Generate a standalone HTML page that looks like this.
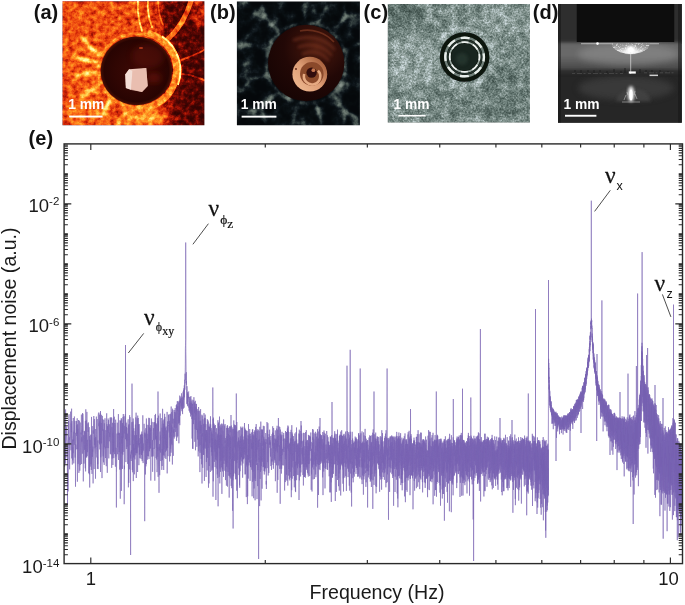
<!DOCTYPE html>
<html lang="en"><head><meta charset="utf-8"><title>Figure</title>
<style>
html,body{margin:0;padding:0;background:#fff}
svg{display:block}
.sans{font-family:"Liberation Sans",sans-serif}
.serif{font-family:"Liberation Serif","DejaVu Serif",serif}
.b{font-weight:bold}
</style></head><body>
<svg width="685" height="605" viewBox="0 0 685 605">
<defs>
<clipPath id="ca"><rect x="62.5" y="1.3" width="141.9" height="123.9"/></clipPath>
<clipPath id="cb"><rect x="236.9" y="1.5" width="123" height="123.7"/></clipPath>
<clipPath id="cc"><rect x="387.8" y="3.9" width="142.1" height="118.7"/></clipPath>
<clipPath id="cd"><rect x="558" y="3.9" width="123.8" height="118.9"/></clipPath>
<!-- (a) hot texture: colormap(noise + bias painted in SourceGraphic) -->
<filter id="fa" x="0" y="0" width="1" height="1" color-interpolation-filters="sRGB">
<feTurbulence type="fractalNoise" baseFrequency="0.19" numOctaves="4" seed="11"/>
<feColorMatrix type="matrix" values="1 0 0 0 0 1 0 0 0 0 1 0 0 0 0 0 0 0 0 1" result="n"/>
<feComposite in="n" in2="SourceGraphic" operator="arithmetic" k1="0" k2="0.62" k3="1" k4="-0.31"/>
<feComponentTransfer>
<feFuncR type="table" tableValues="0.2 0.27 0.4 0.62 0.83 0.94 0.99 1 1 1 1"/>
<feFuncG type="table" tableValues="0.015 0.02 0.035 0.07 0.16 0.31 0.46 0.63 0.8 0.92 1"/>
<feFuncB type="table" tableValues="0.01 0.01 0.015 0.02 0.035 0.07 0.1 0.15 0.3 0.5 0.7"/>
<feFuncA type="linear" slope="0" intercept="1"/>
</feComponentTransfer>
</filter>
<linearGradient id="gaB" x1="0" x2="1" y1="0" y2="0">
<stop offset="0" stop-color="#848484"/>
<stop offset="0.5" stop-color="#7e7e7e"/>
<stop offset="0.68" stop-color="#6a6a6a"/>
<stop offset="0.8" stop-color="#303030"/>
<stop offset="1" stop-color="#1c1c1c"/>
</linearGradient>
<linearGradient id="gaD" x1="0" x2="1" y1="0" y2="0">
<stop offset="0" stop-color="#4a0802" stop-opacity="0"/>
<stop offset="0.62" stop-color="#4a0802" stop-opacity="0.05"/>
<stop offset="0.8" stop-color="#4a0802" stop-opacity="0.62"/>
<stop offset="1" stop-color="#420702" stop-opacity="0.8"/>
</linearGradient>
<radialGradient id="gaC" cx="0.5" cy="0.5" r="0.5">
<stop offset="0" stop-color="#3c0905"/>
<stop offset="0.6" stop-color="#300603"/>
<stop offset="0.9" stop-color="#280402"/>
<stop offset="1" stop-color="#481006"/>
</radialGradient>
<filter id="blS" filterUnits="userSpaceOnUse" x="60" y="140" width="626" height="428"><feGaussianBlur stdDeviation="0.38"/></filter>
<filter id="bl1" x="-0.2" y="-0.2" width="1.4" height="1.4"><feGaussianBlur stdDeviation="0.7"/></filter>
<filter id="bl2" x="-0.2" y="-0.2" width="1.4" height="1.4"><feGaussianBlur stdDeviation="1.4"/></filter>
<filter id="bl3" x="-0.3" y="-0.3" width="1.6" height="1.6"><feGaussianBlur stdDeviation="3"/></filter>
<!-- (b) dark texture -->
<filter id="fb" x="0" y="0" width="1" height="1" color-interpolation-filters="sRGB">
<feTurbulence type="fractalNoise" baseFrequency="0.075" numOctaves="4" seed="5"/>
<feColorMatrix type="matrix" values="1 0 0 0 0 1 0 0 0 0 1 0 0 0 0 0 0 0 0 1" result="n"/>
<feComposite in="n" in2="SourceGraphic" operator="arithmetic" k1="0" k2="1.3" k3="1" k4="-0.65"/>
<feComponentTransfer>
<feFuncR type="table" tableValues="0.02 0.025 0.03 0.04 0.07 0.14 0.24 0.34 0.43 0.5 0.56"/>
<feFuncG type="table" tableValues="0.035 0.04 0.05 0.065 0.1 0.18 0.29 0.39 0.48 0.55 0.6"/>
<feFuncB type="table" tableValues="0.045 0.05 0.06 0.08 0.12 0.19 0.28 0.37 0.45 0.52 0.57"/>
<feFuncA type="linear" slope="0" intercept="1"/>
</feComponentTransfer>
</filter>
<radialGradient id="gbC" cx="0.64" cy="0.3" r="0.72">
<stop offset="0" stop-color="#542012"/>
<stop offset="0.28" stop-color="#37110a"/>
<stop offset="0.6" stop-color="#220806"/>
<stop offset="1" stop-color="#180504"/>
</radialGradient>
<linearGradient id="gbR2" x1="0.15" y1="0.85" x2="0.85" y2="0.15">
<stop offset="0" stop-color="#ecb48c"/>
<stop offset="0.5" stop-color="#dc9c74"/>
<stop offset="1" stop-color="#a8623e"/>
</linearGradient>
<radialGradient id="gbR" cx="0.5" cy="0.5" r="0.5">
<stop offset="0" stop-color="#5a2414"/>
<stop offset="0.35" stop-color="#8a4a30"/>
<stop offset="0.6" stop-color="#a86848"/>
<stop offset="0.7" stop-color="#dca27c"/>
<stop offset="0.93" stop-color="#d89c76"/>
<stop offset="1" stop-color="#8a4a30"/>
</radialGradient>
<!-- (c) grey texture -->
<filter id="fc" x="0" y="0" width="1" height="1" color-interpolation-filters="sRGB">
<feTurbulence type="fractalNoise" baseFrequency="0.55" numOctaves="2" seed="21"/>
<feColorMatrix type="matrix" values="1 0 0 0 0 1 0 0 0 0 1 0 0 0 0 0 0 0 0 1" result="n1"/>
<feTurbulence type="fractalNoise" baseFrequency="0.12" numOctaves="3" seed="33"/>
<feColorMatrix type="matrix" values="1 0 0 0 0 1 0 0 0 0 1 0 0 0 0 0 0 0 0 1" result="n2"/>
<feComposite in="n1" in2="n2" operator="arithmetic" k1="0" k2="0.6" k3="0.55" k4="-0.075" result="n"/>
<feComposite in="n" in2="SourceGraphic" operator="arithmetic" k1="0" k2="1" k3="1" k4="-0.535"/>
<feComponentTransfer>
<feFuncR type="table" tableValues="0.2 0.24 0.28 0.34 0.42 0.5 0.6 0.7 0.8 0.88 0.92"/>
<feFuncG type="table" tableValues="0.26 0.3 0.35 0.41 0.49 0.57 0.66 0.76 0.85 0.91 0.94"/>
<feFuncB type="table" tableValues="0.24 0.28 0.33 0.39 0.47 0.55 0.65 0.76 0.86 0.93 0.96"/>
<feFuncA type="linear" slope="0" intercept="1"/>
</feComponentTransfer>
</filter>
<!-- (d) -->
<linearGradient id="gdG" x1="0" x2="0" y1="0" y2="1">
<stop offset="0" stop-color="#666"/>
<stop offset="0.4" stop-color="#6a6a6a"/>
<stop offset="0.75" stop-color="#505050"/>
<stop offset="1" stop-color="#3a3a3a"/>
</linearGradient>
<radialGradient id="gdGlow" cx="0.5" cy="0.5" r="0.5">
<stop offset="0" stop-color="#fff" stop-opacity="0.55"/>
<stop offset="0.4" stop-color="#ddd" stop-opacity="0.25"/>
<stop offset="1" stop-color="#aaa" stop-opacity="0"/>
</radialGradient>
<radialGradient id="gdH" cx="0.5" cy="0.9" r="0.9" gradientUnits="objectBoundingBox">
<stop offset="0" stop-color="#fff"/>
<stop offset="0.25" stop-color="#e8e8e8"/>
<stop offset="0.6" stop-color="#a8a8a8"/>
<stop offset="1" stop-color="#8a8a8a"/>
</radialGradient>
<filter id="fdS" x="0" y="0" width="1" height="1" color-interpolation-filters="sRGB">
<feTurbulence type="fractalNoise" baseFrequency="0.6" numOctaves="2" seed="2"/>
<feColorMatrix type="matrix" values="0 0 0 0 1  0 0 0 0 1  0 0 0 0 1  5 0 0 0 -2.6"/>
<feComposite in2="SourceGraphic" operator="in"/>
</filter>
<filter id="fdN" x="0" y="0" width="1" height="1" color-interpolation-filters="sRGB">
<feTurbulence type="fractalNoise" baseFrequency="0.05 0.12" numOctaves="2" seed="8"/>
<feColorMatrix type="matrix" values="0 0 0 0 0  0 0 0 0 0  0 0 0 0 0  1.6 0 0 0 -0.62"/>
</filter>
</defs>
<rect width="685" height="605" fill="#fff"/>
<!-- ===== (a) ===== -->
<g clip-path="url(#ca)">
<g filter="url(#fa)">
<rect x="62.5" y="1.3" width="141.9" height="123.9" fill="url(#gaB)"/>
<ellipse cx="175" cy="16" rx="13" ry="20" fill="#262626" opacity="0.85" filter="url(#bl3)"/>
<ellipse cx="199" cy="14" rx="7" ry="15" fill="#6e6e6e" opacity="0.75" filter="url(#bl2)"/>
<ellipse cx="146" cy="117" rx="22" ry="9" fill="#b8b8b8" opacity="0.8" filter="url(#bl3)"/>
<ellipse cx="84" cy="112" rx="18" ry="10" fill="#a4a4a4" opacity="0.6" filter="url(#bl3)"/>
<g fill="none" stroke-linecap="round" filter="url(#bl1)">
<path d="M138 1C137 12 139 22 142 31M148 1C147 10 149 19 152 27" stroke="#d4d4d4" stroke-width="1.8"/>
<path d="M158 1C158 10 160 18 163 25" stroke="#9a9a9a" stroke-width="1.5"/>
<path d="M191 1C186 18 178 30 168 39" stroke="#969696" stroke-width="5"/>
<path d="M176 62C186 58 196 55 204 50M177 74C188 74 196 76 204 80" stroke="#6c6c6c" stroke-width="2"/>
</g>
<g fill="none" stroke-linecap="round" filter="url(#bl2)">
<path d="M99 54C93 51 88 46 84 40M98 62C90 62 82 60 74 56M100 84C94 88 88 92 82 98M110 100C107 106 104 112 102 118M97 72C90 72 84 73 78 76" stroke="#f0f0f0" stroke-width="3.6"/>
<path d="M150 108C152 114 152 120 150 125M128 108C126 114 122 120 118 125" stroke="#c8c8c8" stroke-width="2.4"/>
</g>
<ellipse cx="137.2" cy="70.6" rx="38.6" ry="37" fill="none" stroke="#a2a2a2" stroke-width="3" filter="url(#bl1)"/>
<path d="M147.6 33.1A40.3 38.8 0 1 1 123.4 107.1" fill="none" stroke="#a8a8a8" stroke-width="7" filter="url(#bl1)"/>
<path d="M162 36.4A43.3 41.8 0 0 1 177.9 84.9" fill="none" stroke="#f6f6f6" stroke-width="1.9" filter="url(#bl1)"/>
</g>
<ellipse cx="136.4" cy="70.8" rx="35.8" ry="34.4" fill="url(#gaC)"/>
<ellipse cx="148" cy="56" rx="16" ry="12" fill="#6a150a" opacity="0.4" filter="url(#bl3)"/>
<ellipse cx="154" cy="78" rx="7" ry="5" fill="#8a1a0c" opacity="0.45" filter="url(#bl3)"/>
<ellipse cx="141" cy="48" rx="2.2" ry="1" fill="#c8401c" opacity="0.8" filter="url(#bl1)"/>
<!-- cube -->
<g filter="url(#bl1)">
<polygon points="125.3,74.6 129.1,69.3 146.2,68 147.7,86 142,92.1 125.9,88" fill="#ecc6b8"/>
<polygon points="125.3,74.6 129.1,69.3 132.5,71 131,90 125.9,88" fill="#f3ded6"/>
<polygon points="132.5,71 146.2,68 147.7,86 142,92.1 131,90" fill="#e8bcae" opacity="0.8"/>
</g>
<text class="sans b" x="68.3" y="109.2" font-size="13.8" fill="#fff">1 mm</text>
<rect x="69.2" y="115.6" width="33.4" height="1.9" fill="#fff"/>
</g>
<!-- ===== (b) ===== -->
<g clip-path="url(#cb)">
<g filter="url(#fb)">
<rect x="236.9" y="1.5" width="123" height="123.7" fill="#3a3a3a"/>
<g fill="none" stroke="#9c9c9c" stroke-linecap="round" filter="url(#bl2)">
<path d="M280 34L266 18L252 12M266 18L262 4M270 52L252 44L238 46M268 76L250 80L240 92M276 94L262 108L250 112M262 108L266 124M296 104L292 124M316 104L322 124M334 96L346 112L358 118M346 112L344 124M344 74L358 80M344 52L358 44M334 30L346 16L344 4M346 16L358 14M306 22L304 4M318 24L326 8" stroke-width="3.2"/>
</g>
<circle cx="306.2" cy="63" r="40.4" fill="none" stroke="#a8a8a8" stroke-width="3.4" filter="url(#bl2)"/>
</g>
<circle cx="306.2" cy="63" r="38.2" fill="url(#gbC)"/>
<g fill="none" stroke="#7c3420" stroke-linecap="round" opacity="0.6" filter="url(#bl2)">
<path d="M294 40C306 35 324 37 334 49M299 47C310 43 323 45 331 55M303 54C312 50 322 52 328 60" stroke-width="2.6"/>
</g>
<path d="M300 31C312 28 326 33 334 42" fill="none" stroke="#8a4026" stroke-width="1.6" opacity="0.6" filter="url(#bl1)"/>
<circle cx="309.8" cy="74.2" r="17.4" fill="url(#gbR2)" filter="url(#bl1)"/>
<circle cx="311.8" cy="73.8" r="11.8" fill="#8a482c" filter="url(#bl1)"/>
<path d="M304.2 74A8.2 8.2 0 1 0 318 70.6" fill="none" stroke="#e6aa82" stroke-width="2.6" filter="url(#bl1)"/>
<circle cx="311.6" cy="72.6" r="5.2" fill="#32100a" filter="url(#bl1)"/>
<circle cx="313.4" cy="70.2" r="1.9" fill="#c47650" filter="url(#bl1)"/>
<circle cx="296" cy="69" r="0.9" fill="#5a2010"/>
<text class="sans b" x="240.8" y="109.2" font-size="13.8" fill="#fff">1 mm</text>
<rect x="241.6" y="115.7" width="34.8" height="1.9" fill="#fff"/>
</g>
<!-- ===== (c) ===== -->
<g clip-path="url(#cc)">
<g filter="url(#fc)">
<rect x="387.8" y="3.9" width="142.1" height="118.7" fill="#808080"/>
<ellipse cx="398" cy="14" rx="26" ry="16" fill="#5a5a5a" opacity="0.8" filter="url(#bl3)"/>
<ellipse cx="412" cy="62" rx="22" ry="26" fill="#a0a0a0" opacity="0.8" filter="url(#bl3)"/>
<ellipse cx="500" cy="22" rx="26" ry="16" fill="#9a9a9a" opacity="0.7" filter="url(#bl3)"/>
<ellipse cx="505" cy="92" rx="26" ry="28" fill="#686868" opacity="0.7" filter="url(#bl3)"/>
<ellipse cx="440" cy="108" rx="30" ry="12" fill="#747474" opacity="0.6" filter="url(#bl3)"/>
<circle cx="464" cy="57" r="29" fill="none" stroke="#a8a8a8" stroke-width="5" opacity="0.8" filter="url(#bl2)"/>
</g>
<circle cx="464.6" cy="57" r="24.8" fill="#0c1511" filter="url(#bl1)"/>
<circle cx="464.6" cy="57" r="19.3" fill="none" stroke="#7c8c86" stroke-width="2.4" opacity="0.9" filter="url(#bl1)"/>
<circle cx="464.6" cy="57" r="19.3" fill="none" stroke="#e8eeea" stroke-width="2.4" stroke-dasharray="9 6.16" stroke-dashoffset="4.5" filter="url(#bl1)"/>
<circle cx="464.6" cy="57" r="16.9" fill="none" stroke="#26342e" stroke-width="1.3"/>
<circle cx="464.6" cy="57" r="14.9" fill="none" stroke="#9aa8a2" stroke-width="1.7" filter="url(#bl1)"/>
<circle cx="464.6" cy="57" r="14.9" fill="none" stroke="#eef2f0" stroke-width="1.7" stroke-dasharray="7 4.7" stroke-dashoffset="3.5" filter="url(#bl1)"/>
<circle cx="464.6" cy="57" r="13.4" fill="#18251f"/>
<circle cx="462" cy="59" r="6" fill="#2c3c36" opacity="0.6" filter="url(#bl2)"/>
<text class="sans b" x="393.6" y="108.8" font-size="13.8" fill="#fff">1 mm</text>
<rect x="398.4" y="114.9" width="27.2" height="1.6" fill="#fff"/>
</g>
<!-- ===== (d) ===== -->
<g clip-path="url(#cd)">
<rect x="558" y="3.9" width="123.8" height="118.9" fill="#282828"/>
<rect x="552" y="0" width="136" height="44" fill="#2e2e2e"/>
<g filter="url(#bl2)">
<rect x="552" y="42.5" width="136" height="31" fill="url(#gdG)"/>
<ellipse cx="628" cy="54" rx="50" ry="11" fill="#8e8e8e" opacity="0.6" filter="url(#bl3)"/>
<rect x="552" y="74" width="136" height="52" fill="#272727"/>
</g>
<ellipse cx="626" cy="88" rx="48" ry="12" fill="#484848" opacity="0.55" filter="url(#bl3)"/>
<rect x="556" y="69.5" width="128" height="5.5" fill="#1e1e1e" opacity="0.5" filter="url(#bl2)"/>
<rect x="576.8" y="0" width="97.4" height="42" fill="#0d0d0d" filter="url(#bl1)"/>
<rect x="556" y="3.9" width="5" height="118.9" fill="#161616" opacity="0.55" filter="url(#bl1)"/>
<rect x="678" y="3.9" width="6" height="118.9" fill="#161616" opacity="0.55" filter="url(#bl1)"/>
<!-- bright line & hemisphere -->
<rect x="581" y="43" width="78" height="1.3" fill="#d0d0d0" opacity="0.6" filter="url(#bl1)"/>
<circle cx="597.5" cy="43.6" r="1.3" fill="#fff" filter="url(#bl1)"/>
<path d="M611.7 43.2A19 10.8 0 0 0 649.7 43.2Z" fill="url(#gdH)" filter="url(#bl1)"/>
<path d="M611.7 43.2A19 10.8 0 0 0 649.7 43.2Z" fill="#303030" filter="url(#fdS)" opacity="0.6"/>
<ellipse cx="630.7" cy="49.5" rx="4.6" ry="3.6" fill="#fff" filter="url(#bl2)"/>
<ellipse cx="630.7" cy="50" rx="2.6" ry="2.4" fill="#fff" filter="url(#bl1)"/>
<rect x="630.1" y="52" width="1.1" height="22" fill="#eee" opacity="0.55" filter="url(#bl1)"/>
<!-- mid line features -->
<path d="M575 72v-2M581 73v-3M588 72v-2M594 73v-3M600 72v-2M607 73v-2M614 72v-3M621 73v-2M625 73v-5M640 73v-4M646 72v-2M652 73v-3M660 72v-2M668 73v-2" stroke="#1c1c1c" stroke-width="1.3" opacity="0.7" filter="url(#bl1)"/>
<path d="M572 73.6h52M644 72.8h30" stroke="#707070" stroke-width="1" stroke-dasharray="3 2 5 1.5 2 2.5" opacity="0.4" filter="url(#bl1)"/>
<rect x="628.8" y="71.4" width="7" height="2.2" fill="#fff" filter="url(#bl1)"/>
<rect x="649.5" y="74.6" width="8.5" height="1.5" fill="#cfcfcf" filter="url(#bl1)"/>
<!-- lower reflection -->
<path d="M616.5 101.5A17 12.5 0 0 1 650.5 101.5Z" fill="#454545" opacity="0.75" filter="url(#bl2)"/>
<path d="M600 102h72" stroke="#6c6c6c" stroke-width="1.1" stroke-dasharray="6 2 3 1.5" opacity="0.6" filter="url(#bl1)"/>
<ellipse cx="631" cy="94" rx="3.2" ry="8" fill="#fff" opacity="0.9" filter="url(#bl2)"/>
<ellipse cx="631" cy="95" rx="1.7" ry="5.5" fill="#fff" filter="url(#bl1)"/>
<path d="M624 100l2-5M637 99l-2-5M627 92l1 3M635 91l-1 4M622 102h18" stroke="#ddd" stroke-width="0.8" opacity="0.6" filter="url(#bl1)"/>
<text class="sans b" x="563.4" y="109.2" font-size="13.8" fill="#fff">1 mm</text>
<rect x="565" y="114.8" width="31.4" height="1.9" fill="#fff"/>
</g>
<g id="plot">
<path d="M64.6 439.0 65.2 422.9 65.8 434.0 66.4 427.4 67.0 427.4 67.6 444.8 68.2 423.3 68.8 415.0 69.4 434.5 70.0 437.3 70.6 421.7 71.2 421.4 71.8 419.7 72.4 435.3 73.0 437.3 73.6 430.2 74.2 430.0 74.8 420.4 75.4 431.3 76.0 444.9 76.6 425.0 77.2 423.5 77.8 428.1 78.4 438.8 79.0 440.4 79.6 422.8 80.2 439.7 80.8 433.8 81.4 424.2 82.0 436.4 82.6 413.7 83.2 418.9 83.8 434.8 84.4 431.4 85.0 430.3 85.6 419.6 86.2 419.0 86.8 432.1 87.4 438.0 88.0 423.3 88.6 429.7 89.2 430.3 89.8 439.9 90.4 439.6 91.0 435.1 91.6 433.2 92.2 438.5 92.8 446.9 93.4 422.7 94.0 419.5 94.6 435.7 95.2 436.9 95.8 435.5 96.4 421.9 97.0 448.5 97.6 437.8 98.2 413.6 98.8 413.6 99.4 420.9 100.0 420.6 100.6 439.8 101.2 425.1 101.8 439.9 102.4 420.1 103.0 428.1 103.6 431.9 104.2 422.9 104.8 440.3 105.4 431.7 106.0 449.4 106.6 421.8 107.2 426.9 107.8 425.3 108.4 421.4 109.0 432.4 109.6 425.7 110.2 428.8 110.8 420.0 111.4 419.7 112.0 427.3 112.6 432.9 113.2 430.8 113.8 447.2 114.4 423.9 115.0 428.3 115.6 422.3 116.2 447.9 116.8 448.1 117.4 434.9 118.0 432.9 118.6 430.9 119.2 434.0 119.8 432.9 120.4 423.9 121.0 422.8 121.6 419.1 122.2 434.6 122.8 423.1 123.4 418.1 124.0 430.0 124.6 426.6 125.2 419.6 125.8 422.3 126.4 427.1 127.0 434.4 127.6 432.4 128.2 420.3 128.8 426.7 129.4 424.7 130.0 418.0 130.6 439.2 131.2 451.7 131.8 422.9 132.4 432.1 133.0 422.6 133.6 429.8 134.2 437.3 134.8 435.5 135.4 425.2 136.0 419.5 136.6 438.4 137.2 441.3 137.8 437.9 138.4 424.2 139.0 424.3 139.6 438.6 140.2 441.0 140.8 434.8 141.4 434.3 142.0 434.5 142.6 434.7 143.2 435.3 143.8 431.6 144.4 429.5 145.0 434.0 145.6 435.0 146.2 429.0 146.8 426.6 147.4 438.3 148.0 431.2 148.6 426.9 149.2 421.1 149.8 428.6 150.4 431.6 151.0 426.1 151.6 425.2 152.2 427.0 152.8 448.5 153.4 433.1 154.0 422.2 154.6 422.1 155.2 415.9 155.8 423.8 156.4 436.1 157.0 427.7 157.6 432.7 158.2 422.6 158.8 424.2 159.4 446.4 160.0 434.4 160.6 432.5 161.2 421.4 161.8 428.1 162.4 429.6 163.0 421.5 163.6 426.4 164.2 418.9 164.8 417.5 165.4 426.6 166.0 435.6 166.6 434.9 167.2 424.3 167.8 427.3 168.4 422.2 169.0 419.7 169.6 426.3 170.2 421.4 170.8 419.5 171.4 416.3 172.0 422.3 172.6 411.1 173.2 416.5 173.8 429.0 174.4 415.6 175.0 414.2 175.6 413.4 176.2 417.9 176.8 407.3 177.4 407.6 178.0 405.2 178.6 410.6 179.2 407.1 179.8 402.6 180.4 399.5 181.0 398.7 181.6 398.7 182.2 400.4 182.8 395.6 183.4 393.1 184.0 388.7 184.6 381.3 185.2 354.0 185.8 342.4 186.4 375.0 187.0 389.2 187.6 394.1 188.2 394.9 188.8 394.4 189.4 397.9 190.0 399.1 190.6 398.0 191.2 405.0 191.8 402.6 192.4 403.9 193.0 412.3 193.6 400.6 194.2 402.3 194.8 405.6 195.4 408.2 196.0 405.5 196.6 408.9 197.2 415.0 197.8 423.5 198.4 421.2 199.0 412.8 199.6 419.3 200.2 423.0 200.8 426.4 201.4 425.8 202.0 416.3 202.6 426.9 203.2 427.1 203.8 423.8 204.4 421.0 205.0 417.9 205.6 427.3 206.2 436.6 206.8 431.4 207.4 433.1 208.0 425.8 208.6 439.2 209.2 427.1 209.8 425.6 210.4 423.8 211.0 427.6 211.6 431.9 212.2 436.0 212.8 424.9 213.4 421.4 214.0 426.3 214.6 433.9 215.2 439.8 215.8 438.3 216.4 440.4 217.0 441.1 217.6 434.7 218.2 423.1 218.8 433.7 219.4 437.6 220.0 434.8 220.6 427.4 221.2 433.4 221.8 435.2 222.4 439.2 223.0 433.2 223.6 435.4 224.2 437.4 224.8 433.1 225.4 439.8 226.0 444.1 226.6 436.1 227.2 433.8 227.8 428.1 228.4 440.2 229.0 441.9 229.6 437.3 230.2 431.0 230.8 436.3 231.4 437.7 232.0 437.5 232.6 434.8 233.2 438.2 233.8 431.1 234.4 426.9 235.0 428.1 235.6 430.7 236.2 438.0 236.8 430.5 237.4 444.9 238.0 436.5 238.6 436.9 239.2 440.9 239.8 451.7 240.4 435.6 241.0 432.0 241.6 438.2 242.2 441.4 242.8 436.4 243.4 441.7 244.0 445.5 244.6 434.6 245.2 430.1 245.8 430.3 246.4 438.3 247.0 438.2 247.6 451.0 248.2 439.1 248.8 439.1 249.4 433.8 250.0 433.8 250.6 452.9 251.2 440.7 251.8 440.6 252.4 435.4 253.0 442.1 253.6 436.2 254.2 434.7 254.8 434.7 255.4 433.1 256.0 430.4 256.6 447.4 257.2 435.0 257.8 437.6 258.4 439.9 259.0 434.5 259.6 438.3 260.2 442.3 260.8 432.6 261.4 443.3 262.0 445.1 262.6 435.2 263.2 435.7 263.8 437.2 264.4 441.6 265.0 448.2 265.6 438.6 266.2 445.8 266.8 440.8 267.4 433.3 268.0 438.8 268.6 452.2 269.2 435.6 269.8 440.9 270.4 440.9 271.0 448.9 271.6 460.1 272.2 435.6 272.8 432.8 273.4 434.6 274.0 435.5 274.6 447.9 275.2 439.2 275.8 439.6 276.4 439.0 277.0 432.8 277.6 438.5 278.2 440.5 278.8 436.5 279.4 432.9 280.0 434.0 280.6 435.5 281.2 435.7 281.8 438.0 282.4 449.3 283.0 440.2 283.6 437.6 284.2 440.4 284.8 447.1 285.4 437.9 286.0 438.9 286.6 439.7 287.2 441.6 287.8 427.6 288.4 434.5 289.0 453.2 289.6 443.9 290.2 440.4 290.8 437.8 291.4 433.6 292.0 435.4 292.6 443.9 293.2 440.3 293.8 442.6 294.4 442.7 295.0 453.1 295.6 439.5 296.2 435.3 296.8 440.6 297.4 447.1 298.0 447.8 298.6 448.3 299.2 433.9 299.8 444.7 300.4 447.3 301.0 440.3 301.6 436.5 302.2 446.9 302.8 448.7 303.4 440.5 304.0 446.6 304.6 450.9 305.2 450.3 305.8 446.1 306.4 441.7 307.0 441.8 307.6 452.0 308.2 443.8 308.8 436.2 309.4 439.5 310.0 444.0 310.6 436.8 311.2 449.6 311.8 450.9 312.4 439.3 313.0 433.8 313.6 438.2 314.2 438.2 314.8 442.9 315.4 437.4 316.0 450.2 316.6 436.5 317.2 434.9 317.8 438.1 318.4 439.8 319.0 439.6 319.6 432.5 320.2 437.3 320.8 438.5 321.4 435.4 322.0 437.4 322.6 443.3 323.2 444.4 323.8 435.2 324.4 436.0 325.0 442.5 325.6 447.8 326.2 448.8 326.8 437.5 327.4 449.8 328.0 444.3 328.6 443.5 329.2 446.1 329.8 451.9 330.4 441.0 331.0 440.2 331.6 442.9 332.2 445.5 332.8 451.8 333.4 446.2 334.0 438.7 334.6 435.1 335.2 443.3 335.8 438.4 336.4 445.8 337.0 441.6 337.6 440.4 338.2 450.7 338.8 451.4 339.4 438.6 340.0 436.3 340.6 445.2 341.2 435.2 341.8 435.6 342.4 440.1 343.0 445.4 343.6 443.9 344.2 440.8 344.8 444.3 345.4 438.8 346.0 439.0 346.6 444.1 347.2 438.1 347.8 459.6 348.4 439.2 349.0 439.5 349.6 442.5 350.2 437.5 350.8 444.1 351.4 446.5 352.0 444.2 352.6 440.4 353.2 448.9 353.8 443.9 354.4 443.9 355.0 441.3 355.6 439.5 356.2 451.4 356.8 452.3 357.4 450.0 358.0 447.8 358.6 439.0 359.2 446.2 359.8 459.2 360.4 449.6 361.0 444.2 361.6 443.0 362.2 442.6 362.8 443.4 363.4 443.3 364.0 437.5 364.6 450.1 365.2 440.7 365.8 444.5 366.4 441.9 367.0 442.6 367.6 444.9 368.2 450.2 368.8 449.7 369.4 438.2 370.0 438.9 370.6 442.3 371.2 442.3 371.8 440.1 372.4 436.3 373.0 442.1 373.6 435.6 374.2 444.6 374.8 439.8 375.4 440.5 376.0 441.6 376.6 444.4 377.2 438.2 377.8 445.7 378.4 442.5 379.0 445.9 379.6 461.1 380.2 453.5 380.8 449.0 381.4 438.8 382.0 437.0 382.6 442.6 383.2 448.3 383.8 450.5 384.4 446.1 385.0 439.0 385.6 446.2 386.2 444.2 386.8 443.8 387.4 450.4 388.0 445.8 388.6 443.7 389.2 457.5 389.8 443.0 390.4 442.8 391.0 443.4 391.6 443.0 392.2 442.4 392.8 444.3 393.4 449.9 394.0 449.6 394.6 441.1 395.2 453.7 395.8 442.2 396.4 438.0 397.0 437.1 397.6 447.3 398.2 445.3 398.8 437.7 399.4 440.5 400.0 443.9 400.6 444.5 401.2 451.9 401.8 450.1 402.4 445.5 403.0 447.8 403.6 444.3 404.2 449.6 404.8 453.9 405.4 444.8 406.0 444.7 406.6 446.1 407.2 452.4 407.8 443.3 408.4 438.0 409.0 446.9 409.6 445.9 410.2 445.5 410.8 437.6 411.4 445.9 412.0 446.7 412.6 447.5 413.2 444.3 413.8 442.2 414.4 442.0 415.0 453.8 415.6 450.5 416.2 449.0 416.8 449.3 417.4 443.4 418.0 444.1 418.6 442.4 419.2 444.6 419.8 449.1 420.4 446.2 421.0 447.5 421.6 446.8 422.2 448.4 422.8 444.2 423.4 442.3 424.0 442.3 424.6 443.7 425.2 449.0 425.8 448.5 426.4 452.7 427.0 458.7 427.6 450.8 428.2 439.2 428.8 442.8 429.4 443.5 430.0 440.3 430.6 452.5 431.2 455.1 431.8 445.8 432.4 446.2 433.0 448.9 433.6 447.4 434.2 441.8 434.8 443.3 435.4 445.2 436.0 442.4 436.6 442.5 437.2 442.2 437.8 446.0 438.4 446.8 439.0 446.3 439.6 446.4 440.2 446.7 440.8 440.8 441.4 448.4 442.0 448.3 442.6 447.3 443.2 452.1 443.8 444.2 444.4 441.3 445.0 441.9 445.6 449.9 446.2 451.7 446.8 451.8 447.4 445.0 448.0 445.9 448.6 441.5 449.2 441.5 449.8 441.0 450.4 447.5 451.0 444.6 451.6 445.8 452.2 450.4 452.8 446.5 453.4 444.1 454.0 448.2 454.6 442.6 455.2 446.4 455.8 450.1 456.4 445.1 457.0 441.3 457.6 443.7 458.2 443.3 458.8 440.9 459.4 445.0 460.0 455.3 460.6 438.7 461.2 446.7 461.8 443.1 462.4 445.0 463.0 447.8 463.6 445.7 464.2 445.1 464.8 444.2 465.4 449.6 466.0 447.2 466.6 446.5 467.2 445.8 467.8 447.5 468.4 442.7 469.0 446.1 469.6 446.8 470.2 443.0 470.8 440.3 471.4 443.5 472.0 445.1 472.6 453.4 473.2 447.5 473.8 444.9 474.4 448.0 475.0 445.4 475.6 444.8 476.2 445.1 476.8 448.2 477.4 443.8 478.0 440.4 478.6 440.1 479.2 447.1 479.8 447.9 480.4 446.2 481.0 445.7 481.6 443.0 482.2 446.5 482.8 446.3 483.4 445.5 484.0 446.1 484.6 440.3 485.2 441.7 485.8 444.6 486.4 443.4 487.0 440.3 487.6 443.2 488.2 441.1 488.8 440.4 489.4 446.5 490.0 448.1 490.6 443.5 491.2 442.1 491.8 440.0 492.4 444.4 493.0 443.1 493.6 447.4 494.2 449.2 494.8 450.8 495.4 451.0 496.0 453.2 496.6 451.1 497.2 450.6 497.8 449.7 498.4 446.1 499.0 447.2 499.6 441.8 500.2 444.7 500.8 444.4 501.4 444.6 502.0 446.9 502.6 446.0 503.2 446.7 503.8 442.3 504.4 444.3 505.0 447.4 505.6 452.9 506.2 446.3 506.8 447.8 507.4 451.2 508.0 453.8 508.6 444.0 509.2 447.8 509.8 448.7 510.4 447.5 511.0 446.2 511.6 446.7 512.2 444.1 512.8 442.5 513.4 449.8 514.0 448.3 514.6 446.9 515.2 444.6 515.8 446.2 516.4 448.9 517.0 452.1 517.6 453.1 518.2 444.4 518.8 443.6 519.4 447.6 520.0 444.4 520.6 444.2 521.2 445.3 521.8 442.6 522.4 444.0 523.0 445.5 523.6 440.9 524.2 441.4 524.8 442.3 525.4 447.3 526.0 446.8 526.6 442.0 527.2 441.7 527.8 447.3 528.4 447.8 529.0 445.6 529.6 445.0 530.2 446.4 530.8 450.1 531.4 453.8 532.0 451.8 532.6 445.2 533.2 448.6 533.8 446.6 534.4 443.7 535.0 445.5 535.6 448.7 536.2 448.7 536.8 459.4 537.4 449.9 538.0 451.6 538.6 457.1 539.2 446.2 539.8 444.8 540.4 450.8 541.0 450.0 541.6 454.1 542.2 453.3 542.8 448.8 543.4 451.5 544.0 454.4 544.6 454.4 545.2 448.1 545.8 460.5 546.4 461.3 547.0 463.5 547.6 450.8 548.2 398.4 548.8 366.8 549.4 382.7 550.0 396.7 550.6 402.2 551.2 405.2 551.8 410.7 552.4 410.5 553.0 410.3 553.6 412.4 554.2 413.3 554.8 413.0 555.4 414.2 556.0 414.6 556.6 417.2 557.2 416.8 557.8 416.3 558.4 418.7 559.0 417.9 559.6 418.0 560.2 420.4 560.8 422.8 561.4 424.0 562.0 419.7 562.6 419.0 563.2 419.4 563.8 418.4 564.4 418.8 565.0 418.3 565.6 416.9 566.2 417.4 566.8 416.7 567.4 416.8 568.0 417.0 568.6 415.4 569.2 415.4 569.8 413.2 570.4 414.6 571.0 412.4 571.6 411.6 572.2 411.5 572.8 410.7 573.4 410.7 574.0 407.5 574.6 407.4 575.2 406.2 575.8 405.9 576.4 406.1 577.0 403.9 577.6 400.5 578.2 400.5 578.8 400.2 579.4 400.2 580.0 396.1 580.6 394.5 581.2 394.0 581.8 393.2 582.4 389.1 583.0 387.7 583.6 387.7 584.2 385.8 584.8 382.0 585.4 377.7 586.0 374.4 586.6 372.1 587.2 368.5 587.8 363.3 588.4 357.9 589.0 353.7 589.6 344.4 590.2 335.1 590.8 322.9 591.4 320.4 592.0 322.3 592.6 338.5 593.2 345.3 593.8 355.5 594.4 361.5 595.0 363.0 595.6 369.1 596.2 375.4 596.8 377.6 597.4 378.7 598.0 383.6 598.6 386.9 599.2 388.1 599.8 390.1 600.4 393.7 601.0 395.7 601.6 394.5 602.2 396.5 602.8 399.1 603.4 401.1 604.0 401.1 604.6 403.6 605.2 405.5 605.8 405.2 606.4 404.1 607.0 411.4 607.6 408.8 608.2 409.8 608.8 411.3 609.4 412.2 610.0 412.6 610.6 415.0 611.2 417.2 611.8 417.5 612.4 418.8 613.0 418.3 613.6 420.3 614.2 422.5 614.8 419.9 615.4 419.9 616.0 423.2 616.6 423.1 617.2 424.5 617.8 421.8 618.4 420.2 619.0 422.7 619.6 425.3 620.2 422.3 620.8 423.4 621.4 423.7 622.0 423.8 622.6 423.4 623.2 425.9 623.8 422.7 624.4 428.5 625.0 431.1 625.6 425.5 626.2 427.5 626.8 427.2 627.4 429.7 628.0 426.5 628.6 429.0 629.2 430.1 629.8 430.7 630.4 424.2 631.0 427.1 631.6 426.3 632.2 423.7 632.8 427.4 633.4 433.5 634.0 433.5 634.6 431.5 635.2 427.0 635.8 429.2 636.4 430.5 637.0 428.7 637.6 417.6 638.2 416.1 638.8 411.3 639.4 407.5 640.0 400.7 640.6 391.3 641.2 378.7 641.8 355.4 642.4 356.9 643.0 373.1 643.6 379.8 644.2 384.9 644.8 389.5 645.4 390.6 646.0 390.0 646.6 391.9 647.2 395.1 647.8 399.5 648.4 401.3 649.0 400.7 649.6 404.9 650.2 408.7 650.8 406.6 651.4 412.6 652.0 405.2 652.6 411.4 653.2 412.1 653.8 410.0 654.4 411.3 655.0 413.5 655.6 425.2 656.2 421.4 656.8 420.9 657.4 423.3 658.0 429.4 658.6 428.4 659.2 437.2 659.8 431.5 660.4 444.1 661.0 443.3 661.6 441.1 662.2 442.4 662.8 445.2 663.4 440.7 664.0 441.4 664.6 444.8 665.2 447.9 665.8 443.4 666.4 445.5 667.0 443.6 667.6 440.5 668.2 442.6 668.8 441.3 669.4 441.6 670.0 444.1 670.6 439.2 671.2 434.7 671.8 437.9 672.4 439.6 673.0 431.2 673.6 427.9 674.2 429.0 674.8 442.6 675.4 451.4 676.0 447.6 676.6 452.8 677.2 453.6 677.8 452.4 678.4 454.7 679.0 451.0 679.6 450.9 680.2 458.7 680.8 463.8 681.4 468.4 682.0 469.1 L682.0 499.6 681.4 496.8 680.8 498.4 680.2 490.3 679.6 494.0 679.0 492.4 678.4 487.4 677.8 497.2 677.2 496.2 676.6 475.4 676.0 488.2 675.4 487.4 674.8 485.0 674.2 457.3 673.6 459.7 673.0 464.7 672.4 468.8 671.8 468.8 671.2 479.2 670.6 476.6 670.0 479.1 669.4 477.3 668.8 473.3 668.2 477.7 667.6 480.3 667.0 467.8 666.4 471.1 665.8 476.2 665.2 471.9 664.6 474.2 664.0 476.4 663.4 485.4 662.8 480.1 662.2 468.3 661.6 478.1 661.0 470.6 660.4 469.7 659.8 470.0 659.2 468.7 658.6 453.9 658.0 463.2 657.4 466.7 656.8 451.7 656.2 450.5 655.6 452.0 655.0 445.1 654.4 447.4 653.8 444.8 653.2 437.6 652.6 435.6 652.0 433.9 651.4 436.7 650.8 434.1 650.2 433.7 649.6 425.7 649.0 421.9 648.4 415.1 647.8 414.9 647.2 416.9 646.6 411.5 646.0 419.3 645.4 414.5 644.8 415.1 644.2 405.4 643.6 394.2 643.0 399.6 642.4 375.2 641.8 377.8 641.2 396.0 640.6 413.0 640.0 427.7 639.4 430.8 638.8 442.8 638.2 442.7 637.6 442.3 637.0 455.4 636.4 457.5 635.8 457.6 635.2 460.6 634.6 452.1 634.0 450.5 633.4 453.0 632.8 453.7 632.2 450.4 631.6 448.5 631.0 450.8 630.4 454.3 629.8 447.1 629.2 445.5 628.6 447.8 628.0 445.7 627.4 447.6 626.8 447.8 626.2 447.4 625.6 447.6 625.0 446.3 624.4 446.3 623.8 448.9 623.2 447.8 622.6 449.0 622.0 444.8 621.4 442.4 620.8 438.9 620.2 440.7 619.6 439.4 619.0 439.5 618.4 437.4 617.8 435.8 617.2 438.2 616.6 434.3 616.0 434.6 615.4 431.8 614.8 431.1 614.2 432.0 613.6 431.0 613.0 431.2 612.4 430.5 611.8 430.1 611.2 430.1 610.6 431.3 610.0 427.9 609.4 422.2 608.8 424.3 608.2 421.8 607.6 417.6 607.0 419.0 606.4 416.7 605.8 416.5 605.2 415.5 604.6 416.9 604.0 411.0 603.4 409.9 602.8 410.2 602.2 404.5 601.6 406.6 601.0 407.2 600.4 403.0 599.8 397.4 599.2 396.3 598.6 394.6 598.0 392.9 597.4 389.2 596.8 383.3 596.2 380.2 595.6 376.4 595.0 371.8 594.4 367.4 593.8 362.5 593.2 355.2 592.6 345.2 592.0 338.1 591.4 324.7 590.8 333.1 590.2 343.7 589.6 352.1 589.0 359.7 588.4 363.5 587.8 369.4 587.2 373.3 586.6 378.1 586.0 380.9 585.4 384.9 584.8 389.1 584.2 391.4 583.6 396.7 583.0 396.8 582.4 399.8 581.8 399.1 581.2 399.0 580.6 401.5 580.0 406.3 579.4 407.9 578.8 405.6 578.2 407.6 577.6 408.3 577.0 409.3 576.4 411.6 575.8 414.3 575.2 412.7 574.6 414.1 574.0 414.1 573.4 416.4 572.8 417.7 572.2 417.8 571.6 419.5 571.0 420.9 570.4 421.4 569.8 420.9 569.2 421.1 568.6 426.0 568.0 424.4 567.4 423.6 566.8 423.9 566.2 426.4 565.6 423.9 565.0 424.0 564.4 426.3 563.8 427.1 563.2 427.5 562.6 425.6 562.0 426.2 561.4 428.5 560.8 426.9 560.2 427.1 559.6 428.3 559.0 423.3 558.4 423.9 557.8 424.8 557.2 422.6 556.6 422.3 556.0 421.8 555.4 421.5 554.8 420.5 554.2 419.1 553.6 418.2 553.0 417.6 552.4 416.8 551.8 414.9 551.2 412.2 550.6 407.8 550.0 405.6 549.4 393.7 548.8 386.0 548.2 489.0 547.6 488.1 547.0 490.9 546.4 483.7 545.8 486.6 545.2 480.4 544.6 486.3 544.0 480.4 543.4 474.9 542.8 482.3 542.2 476.4 541.6 471.2 541.0 477.9 540.4 483.2 539.8 475.4 539.2 479.3 538.6 480.3 538.0 489.0 537.4 492.9 536.8 488.6 536.2 479.9 535.6 480.7 535.0 474.4 534.4 464.1 533.8 460.2 533.2 464.0 532.6 470.8 532.0 472.6 531.4 477.2 530.8 471.8 530.2 467.1 529.6 469.8 529.0 471.5 528.4 472.5 527.8 482.0 527.2 472.5 526.6 470.0 526.0 470.5 525.4 467.7 524.8 465.4 524.2 470.7 523.6 466.6 523.0 468.5 522.4 454.7 521.8 462.3 521.2 468.8 520.6 471.1 520.0 472.9 519.4 472.6 518.8 472.6 518.2 473.7 517.6 473.9 517.0 463.3 516.4 465.4 515.8 466.9 515.2 476.6 514.6 468.0 514.0 471.5 513.4 470.7 512.8 470.7 512.2 464.2 511.6 465.5 511.0 463.7 510.4 471.1 509.8 470.0 509.2 473.9 508.6 469.7 508.0 476.8 507.4 471.4 506.8 466.0 506.2 467.2 505.6 466.6 505.0 466.8 504.4 469.3 503.8 459.5 503.2 466.2 502.6 469.2 502.0 471.6 501.4 465.4 500.8 461.5 500.2 462.7 499.6 462.4 499.0 468.0 498.4 469.3 497.8 476.1 497.2 472.5 496.6 468.2 496.0 470.1 495.4 470.1 494.8 467.0 494.2 472.9 493.6 470.3 493.0 463.1 492.4 462.8 491.8 468.8 491.2 459.5 490.6 463.5 490.0 462.4 489.4 460.7 488.8 462.5 488.2 456.7 487.6 458.7 487.0 466.8 486.4 468.1 485.8 467.8 485.2 475.2 484.6 466.8 484.0 469.3 483.4 466.7 482.8 468.8 482.2 463.3 481.6 463.1 481.0 466.8 480.4 460.6 479.8 471.0 479.2 477.1 478.6 472.0 478.0 474.7 477.4 464.9 476.8 465.7 476.2 464.3 475.6 458.9 475.0 466.8 474.4 465.7 473.8 465.3 473.2 465.6 472.6 466.2 472.0 467.1 471.4 467.1 470.8 463.1 470.2 466.0 469.6 471.4 469.0 465.4 468.4 461.7 467.8 462.4 467.2 472.1 466.6 472.1 466.0 467.5 465.4 461.4 464.8 459.9 464.2 467.4 463.6 478.2 463.0 479.1 462.4 466.1 461.8 467.7 461.2 459.4 460.6 469.9 460.0 472.0 459.4 462.3 458.8 463.9 458.2 462.3 457.6 459.6 457.0 463.6 456.4 464.2 455.8 469.9 455.2 458.2 454.6 456.3 454.0 461.7 453.4 470.1 452.8 479.9 452.2 477.3 451.6 468.9 451.0 470.1 450.4 465.6 449.8 474.3 449.2 457.6 448.6 462.9 448.0 462.6 447.4 471.6 446.8 474.0 446.2 463.7 445.6 462.5 445.0 465.0 444.4 465.2 443.8 472.4 443.2 473.7 442.6 470.5 442.0 473.0 441.4 470.7 440.8 465.6 440.2 482.2 439.6 478.5 439.0 471.2 438.4 460.0 437.8 456.1 437.2 465.7 436.6 476.2 436.0 475.4 435.4 479.1 434.8 459.3 434.2 460.6 433.6 464.1 433.0 469.4 432.4 464.9 431.8 475.0 431.2 469.9 430.6 477.2 430.0 470.1 429.4 478.5 428.8 468.5 428.2 467.6 427.6 482.7 427.0 471.9 426.4 470.3 425.8 471.6 425.2 474.1 424.6 467.8 424.0 467.8 423.4 461.4 422.8 472.9 422.2 470.1 421.6 466.2 421.0 464.6 420.4 465.8 419.8 472.6 419.2 461.9 418.6 470.2 418.0 466.0 417.4 464.9 416.8 473.4 416.2 473.4 415.6 472.3 415.0 469.5 414.4 466.6 413.8 459.0 413.2 471.7 412.6 475.8 412.0 462.7 411.4 462.7 410.8 461.5 410.2 474.8 409.6 461.0 409.0 464.4 408.4 465.6 407.8 468.9 407.2 468.9 406.6 467.2 406.0 467.1 405.4 459.8 404.8 470.7 404.2 467.9 403.6 460.4 403.0 462.5 402.4 472.7 401.8 475.8 401.2 479.2 400.6 463.5 400.0 463.1 399.4 462.3 398.8 468.2 398.2 468.2 397.6 488.0 397.0 465.0 396.4 467.5 395.8 459.0 395.2 469.5 394.6 462.2 394.0 466.2 393.4 468.6 392.8 472.2 392.2 467.6 391.6 459.4 391.0 459.9 390.4 457.6 389.8 479.0 389.2 477.7 388.6 466.0 388.0 461.3 387.4 468.2 386.8 454.8 386.2 476.2 385.6 468.8 385.0 465.8 384.4 471.9 383.8 464.4 383.2 461.1 382.6 460.8 382.0 462.7 381.4 465.4 380.8 469.3 380.2 470.0 379.6 472.7 379.0 461.2 378.4 463.8 377.8 463.1 377.2 454.6 376.6 473.5 376.0 474.1 375.4 458.2 374.8 458.0 374.2 464.3 373.6 452.5 373.0 460.0 372.4 460.0 371.8 458.3 371.2 479.0 370.6 480.2 370.0 467.6 369.4 450.2 368.8 468.6 368.2 467.9 367.6 465.4 367.0 467.7 366.4 467.7 365.8 473.6 365.2 456.4 364.6 464.6 364.0 474.7 363.4 465.3 362.8 463.7 362.2 476.3 361.6 467.7 361.0 459.4 360.4 460.1 359.8 473.7 359.2 463.6 358.6 464.4 358.0 468.1 357.4 469.9 356.8 466.4 356.2 466.2 355.6 460.5 355.0 453.8 354.4 471.7 353.8 471.6 353.2 475.2 352.6 465.5 352.0 462.2 351.4 480.8 350.8 473.7 350.2 463.2 349.6 469.8 349.0 465.9 348.4 472.2 347.8 470.0 347.2 461.5 346.6 477.5 346.0 476.9 345.4 462.7 344.8 463.7 344.2 453.4 343.6 469.1 343.0 471.4 342.4 464.1 341.8 463.7 341.2 463.3 340.6 469.1 340.0 465.1 339.4 467.8 338.8 474.4 338.2 465.8 337.6 462.9 337.0 455.2 336.4 472.4 335.8 469.3 335.2 469.9 334.6 453.2 334.0 447.7 333.4 468.2 332.8 470.8 332.2 476.2 331.6 463.6 331.0 471.1 330.4 465.6 329.8 469.7 329.2 464.9 328.6 457.2 328.0 457.4 327.4 465.6 326.8 462.1 326.2 456.6 325.6 464.5 325.0 458.8 324.4 463.2 323.8 465.2 323.2 469.9 322.6 476.4 322.0 454.8 321.4 458.1 320.8 460.4 320.2 458.8 319.6 463.5 319.0 461.6 318.4 466.2 317.8 457.1 317.2 455.9 316.6 458.3 316.0 471.3 315.4 465.2 314.8 461.3 314.2 465.2 313.6 462.5 313.0 449.9 312.4 466.1 311.8 469.3 311.2 473.7 310.6 450.6 310.0 468.2 309.4 468.2 308.8 460.4 308.2 468.8 307.6 468.0 307.0 468.7 306.4 467.3 305.8 466.2 305.2 472.4 304.6 460.2 304.0 465.8 303.4 465.3 302.8 458.7 302.2 459.1 301.6 451.8 301.0 468.3 300.4 467.6 299.8 467.5 299.2 484.8 298.6 461.5 298.0 466.1 297.4 467.5 296.8 472.1 296.2 464.0 295.6 482.1 295.0 475.7 294.4 475.1 293.8 468.8 293.2 468.8 292.6 465.2 292.0 476.6 291.4 473.7 290.8 450.0 290.2 466.9 289.6 477.6 289.0 473.2 288.4 456.5 287.8 446.2 287.2 475.7 286.6 474.4 286.0 457.7 285.4 457.6 284.8 466.0 284.2 456.6 283.6 449.8 283.0 449.7 282.4 453.2 281.8 466.3 281.2 466.4 280.6 464.6 280.0 460.6 279.4 457.2 278.8 462.4 278.2 471.7 277.6 478.3 277.0 450.7 276.4 450.1 275.8 453.2 275.2 462.6 274.6 460.9 274.0 450.9 273.4 464.4 272.8 461.6 272.2 457.8 271.6 466.3 271.0 463.3 270.4 449.1 269.8 445.6 269.2 458.9 268.6 472.1 268.0 469.0 267.4 458.1 266.8 467.0 266.2 483.8 265.6 458.4 265.0 469.5 264.4 471.2 263.8 466.7 263.2 454.9 262.6 449.2 262.0 460.6 261.4 461.4 260.8 470.6 260.2 467.5 259.6 464.9 259.0 458.2 258.4 451.2 257.8 464.6 257.2 460.6 256.6 462.1 256.0 458.6 255.4 479.1 254.8 465.0 254.2 472.2 253.6 455.8 253.0 466.8 252.4 473.5 251.8 461.3 251.2 458.9 250.6 467.0 250.0 466.9 249.4 458.0 248.8 458.7 248.2 460.2 247.6 481.6 247.0 466.5 246.4 461.3 245.8 453.2 245.2 460.6 244.6 455.0 244.0 458.3 243.4 458.7 242.8 465.5 242.2 461.1 241.6 457.1 241.0 460.7 240.4 458.8 239.8 476.9 239.2 469.7 238.6 467.3 238.0 446.7 237.4 458.9 236.8 460.8 236.2 460.3 235.6 459.8 235.0 458.1 234.4 458.5 233.8 465.6 233.2 477.8 232.6 468.1 232.0 472.3 231.4 480.1 230.8 475.9 230.2 465.1 229.6 476.4 229.0 468.6 228.4 467.1 227.8 471.5 227.2 468.6 226.6 465.9 226.0 467.1 225.4 451.7 224.8 452.9 224.2 458.3 223.6 457.4 223.0 459.5 222.4 469.2 221.8 464.7 221.2 459.4 220.6 460.1 220.0 465.6 219.4 471.4 218.8 455.8 218.2 467.1 217.6 475.6 217.0 461.6 216.4 457.0 215.8 458.4 215.2 456.4 214.6 457.6 214.0 454.2 213.4 462.3 212.8 459.1 212.2 469.0 211.6 453.5 211.0 444.1 210.4 442.1 209.8 446.5 209.2 465.5 208.6 481.8 208.0 449.7 207.4 453.3 206.8 460.1 206.2 464.1 205.6 445.9 205.0 439.2 204.4 445.5 203.8 449.3 203.2 452.8 202.6 456.4 202.0 454.5 201.4 457.6 200.8 451.4 200.2 451.8 199.6 448.4 199.0 445.2 198.4 448.0 197.8 437.5 197.2 437.5 196.6 425.4 196.0 423.0 195.4 437.1 194.8 427.0 194.2 412.1 193.6 418.5 193.0 443.9 192.4 430.5 191.8 417.4 191.2 414.1 190.6 413.9 190.0 409.0 189.4 409.9 188.8 407.5 188.2 398.0 187.6 404.3 187.0 403.8 186.4 387.7 185.8 358.2 185.2 381.0 184.6 395.0 184.0 399.1 183.4 399.8 182.8 410.2 182.2 412.4 181.6 407.6 181.0 405.6 180.4 410.1 179.8 420.3 179.2 422.9 178.6 422.9 178.0 420.4 177.4 435.4 176.8 436.5 176.2 431.6 175.6 423.6 175.0 431.1 174.4 428.8 173.8 436.2 173.2 432.5 172.6 426.5 172.0 444.9 171.4 450.8 170.8 451.8 170.2 446.4 169.6 444.7 169.0 430.9 168.4 431.2 167.8 447.8 167.2 447.8 166.6 449.5 166.0 450.9 165.4 444.0 164.8 439.9 164.2 447.2 163.6 454.1 163.0 453.6 162.4 459.2 161.8 462.6 161.2 449.5 160.6 453.8 160.0 451.3 159.4 470.3 158.8 468.1 158.2 465.0 157.6 455.7 157.0 466.5 156.4 458.1 155.8 439.4 155.2 439.5 154.6 445.1 154.0 439.7 153.4 455.4 152.8 456.4 152.2 455.7 151.6 452.9 151.0 444.7 150.4 448.5 149.8 448.9 149.2 453.5 148.6 455.9 148.0 443.1 147.4 459.6 146.8 455.7 146.2 461.5 145.6 466.9 145.0 474.5 144.4 436.5 143.8 448.8 143.2 449.8 142.6 456.8 142.0 459.2 141.4 454.3 140.8 450.0 140.2 456.4 139.6 454.6 139.0 454.6 138.4 445.3 137.8 447.5 137.2 453.3 136.6 453.3 136.0 455.4 135.4 449.6 134.8 457.7 134.2 457.2 133.6 457.3 133.0 472.3 132.4 470.0 131.8 453.2 131.2 458.6 130.6 458.6 130.0 437.5 129.4 439.6 128.8 482.9 128.2 475.6 127.6 457.7 127.0 441.3 126.4 440.7 125.8 439.2 125.2 433.5 124.6 469.2 124.0 465.6 123.4 437.6 122.8 454.8 122.2 456.7 121.6 452.9 121.0 469.7 120.4 458.1 119.8 458.4 119.2 452.0 118.6 445.2 118.0 452.0 117.4 454.1 116.8 472.1 116.2 472.1 115.6 458.6 115.0 454.1 114.4 449.2 113.8 455.8 113.2 454.9 112.6 458.5 112.0 458.5 111.4 429.7 110.8 443.6 110.2 443.6 109.6 437.7 109.0 448.5 108.4 448.5 107.8 439.0 107.2 447.8 106.6 462.9 106.0 463.6 105.4 456.8 104.8 447.4 104.2 456.7 103.6 456.4 103.0 448.4 102.4 461.2 101.8 464.6 101.2 448.3 100.6 460.2 100.0 445.3 99.4 443.2 98.8 426.0 98.2 446.1 97.6 465.1 97.0 459.8 96.4 448.4 95.8 453.3 95.2 454.4 94.6 448.0 94.0 459.4 93.4 443.7 92.8 456.9 92.2 460.3 91.6 470.8 91.0 465.4 90.4 455.9 89.8 474.4 89.2 449.5 88.6 449.3 88.0 436.0 87.4 453.0 86.8 456.4 86.2 454.5 85.6 468.9 85.0 457.3 84.4 452.5 83.8 451.3 83.2 454.9 82.6 436.7 82.0 455.8 81.4 442.7 80.8 444.8 80.2 466.2 79.6 448.6 79.0 468.6 78.4 461.5 77.8 467.4 77.2 443.5 76.6 438.6 76.0 448.0 75.4 463.4 74.8 438.1 74.2 448.5 73.6 445.8 73.0 456.0 72.4 462.0 71.8 437.5 71.2 435.9 70.6 441.1 70.0 451.1 69.4 451.1 68.8 431.1 68.2 464.3 67.6 475.5 67.0 439.8 66.4 441.2 65.8 459.0 65.2 456.9 64.6 459.8Z" fill="#7a64b4" fill-opacity="0.3" stroke="none"/>
<path d="M64.4 446.3 64.6 466.7 64.8 455.2 65 424.8 65.2 428.7 65.4 463.7 65.6 409.4 65.8 457.8 66 456.4 66.2 437.3 66.4 428.8 66.6 427.5 66.8 426.3 66.9 436.2 67.1 439.3 67.3 442.1 67.5 504.6 67.7 456.2 67.9 446.2 68.1 491.4 68.3 424.3 68.5 421.4 68.7 445.6 68.9 415.3 69.1 414.4 69.3 439.9 69.5 437.3 69.6 469.3 69.8 446.6 70 439.8 70.2 438.8 70.4 425.9 70.6 411.6 70.8 423.1 71 450.3 71.2 423.5 71.4 432.2 71.6 408.7 71.7 458.4 71.9 421.1 72.1 427 72.3 464.6 72.5 439.6 72.7 460.3 72.9 447.2 73.1 453.2 73.3 418 73.5 441.4 73.6 439.5 73.8 463.4 74 431.8 74.2 444.8 74.4 416.5 74.6 433.2 74.8 429.8 75 420.9 75.1 457.6 75.3 432.8 75.5 486.7 75.7 444.3 75.9 445.2 76.1 447.1 76.3 449.3 76.5 421 76.6 435.9 76.8 425.5 77 434 77.2 418.3 77.4 481.7 77.6 424.3 77.8 449.1 77.9 428.7 78.1 463.8 78.3 448.5 78.5 420 78.7 460.1 78.9 472.9 79.1 467.6 79.2 443.1 79.4 420.7 79.6 423.1 79.8 470.7 80 442.1 80.2 422.5 80.3 465 80.5 447.3 80.7 443.1 80.9 432.6 81.1 434.4 81.3 425.5 81.4 414.6 81.6 464 81.8 437.3 82 441.8 82.2 429.8 82.4 453.7 82.5 413.1 82.7 432.4 82.9 413.7 83.1 419.6 83.3 481.4 83.4 448.3 83.6 435.3 83.8 440.4 84 463.6 84.2 430.9 84.3 444.3 84.5 449.8 84.7 431.5 84.9 440.1 85.1 454.6 85.3 468.3 85.4 421 85.6 471.4 85.8 409.3 86 453.8 86.2 457.2 86.3 420.3 86.5 434.8 86.7 457.5 86.9 411.9 87 446.5 87.2 456.2 87.4 439.8 87.6 452.2 87.8 424.8 87.9 423.4 88.1 431.9 88.3 422.4 88.5 431 88.7 473.3 88.8 443.3 89 430.7 89.2 427.2 89.4 474.4 89.5 436.1 89.7 487.5 89.9 439.9 90.1 440.2 90.2 466.6 90.4 453.2 90.6 443.7 90.8 435.2 91 464.3 91.1 434.4 91.3 470 91.5 416.9 91.7 435.4 91.8 440.1 92 473.9 92.2 426.1 92.4 456.9 92.5 449.4 92.7 451.7 92.9 446.6 93.1 483.4 93.2 430.3 93.4 433.7 93.6 423.6 93.8 416 93.9 424.1 94.1 469.1 94.3 459.4 94.4 419.1 94.6 445.1 94.8 437.9 95 444.6 95.1 448.3 95.3 429 95.5 478.7 95.7 437.2 95.8 446.5 96 446.9 96.2 422.6 96.4 416.6 96.5 434.4 96.7 454.5 96.9 457.5 97 452.5 97.2 419.1 97.4 468.8 97.6 456.7 97.7 464.2 97.9 440.4 98.1 469.1 98.2 415.6 98.4 413.7 98.6 412.6 98.8 426.2 98.9 426 99.1 422.8 99.3 442.9 99.4 414.7 99.6 444.3 99.8 421.7 99.9 449.4 100.1 412.7 100.3 429.2 100.5 472 100.5 411 100.6 441.3 100.8 457.3 101 448.3 101.1 445.5 101.3 423 101.5 443.4 101.6 414.8 101.8 456.7 102 478.1 102.1 461.2 102.3 416 102.5 430.7 102.6 429.6 102.8 419.1 103 446.4 103.2 456.4 103.3 429.4 103.5 462.3 103.7 456.4 103.8 419.9 104 454.7 104.2 464.9 104.3 423.3 104.5 443.3 104.7 447.1 104.8 445.4 105 418.3 105.2 448.5 105.3 446.7 105.5 458 105.7 456.8 105.8 430.1 106 452 106.2 462.9 106.3 466.2 106.5 421.5 106.7 413.3 106.8 447.8 107 424.2 107.1 442.7 107.3 472.8 107.5 432.8 107.6 426.2 107.8 436.7 108 448.2 108.1 418.5 108.3 432.8 108.5 420.1 108.6 448.5 108.8 458.4 109 432.6 109.1 432.4 109.3 441.3 109.4 424.3 109.6 425.9 109.8 430.2 109.9 436.8 110.1 417.6 110.3 453.8 110.4 443.6 110.6 428.6 110.8 417.4 110.9 454.4 111.1 420 111.2 420.1 111.4 420 111.6 417.5 111.7 467.9 111.9 427.1 112.1 429 112.2 458.5 112.4 446 112.5 422.8 112.7 435.6 112.9 465 113 432.6 113.2 451.4 113.3 418.3 113.5 452.3 113.6 409 113.7 455.2 113.8 458.1 114 449.2 114.1 432.3 114.3 416.7 114.5 440.1 114.6 454.1 114.8 423 115 426.9 115.1 441.1 115.3 453.6 115.4 466.7 115.6 419.7 115.8 422.7 115.9 456.6 116.1 447.5 116.2 452 116.4 507.5 116.5 472.1 116.7 459.8 116.9 455.3 117 433.6 117.2 447.3 117.3 422.7 117.5 454.2 117.7 454.1 117.8 452 118 436.1 118.1 432.7 118.3 434.8 118.4 414.1 118.6 460 118.8 441.5 118.9 433.2 119.1 441.8 119.2 452 119.4 432.9 119.6 458.4 119.7 469.6 119.9 433.2 120 420.3 120.2 454.3 120.3 498.7 120.5 420.8 120.6 451.5 120.8 458.1 121 469.7 121.1 419.6 121.3 418.1 121.4 490.9 121.6 419.3 121.7 422.3 121.9 443.4 122.1 436.2 122.2 453.7 122.4 423 122.5 468.9 122.7 424.4 122.8 454.8 123 416.9 123.1 437.6 123.3 414 123.5 429.4 123.6 429.3 123.8 451.9 123.9 436.7 124.1 416.3 124.2 504.2 124.4 465.6 124.5 469.2 124.7 425.9 124.8 433.5 125 424.9 125.1 419.7 125.3 414.1 125.5 439.2 125.5 345 125.6 419.6 125.8 422.3 125.9 462.1 126.1 438.2 126.2 422.7 126.4 449 126.5 427 126.7 440.7 126.8 427.9 127 440.1 127.1 446.7 127.3 441.3 127.4 433.7 127.6 456.2 127.7 463.9 127.9 422.6 128.1 420.4 128.2 419.3 128.4 487.3 128.5 472.6 128.7 425.3 128.8 482.9 129 424.1 129.1 439.6 129.3 439.1 129.4 469.3 129.6 415.2 129.7 429.7 129.9 445.2 130 417.1 130.2 425.7 130.3 437.5 130.5 465 130.6 555 130.6 454.6 130.8 458.6 130.9 454.7 131.1 451.6 131.2 461 131.4 450 131.5 453.2 131.7 429.1 131.8 422.2 132 454.5 132 383.6 132.1 422.1 132.3 470 132.4 445.1 132.6 430.6 132.7 472.3 132.9 421.7 133 440.3 133.2 418.5 133.3 481.1 133.5 443.9 133.6 457.3 133.8 428.3 133.9 457.2 134.1 451.5 134.2 448 134.4 474.3 134.5 436.1 134.7 435.2 134.8 450.9 134.9 459.4 135.1 431.1 135.2 449.6 135.4 424.6 135.5 442.7 135.7 455.4 135.8 417.4 136 453 136.1 412.7 136.3 478 136.4 438.1 136.6 435 136.7 452.6 136.9 441.1 137 453.3 137.2 418.5 137.3 443.4 137.4 443.2 137.6 472 137.7 415.6 137.9 437.3 138 447.5 138.2 442.8 138.3 418 138.5 445.3 138.6 425.5 138.8 424.1 138.9 465.2 139.1 424.2 139.2 437.5 139.3 454.6 139.5 452 139.6 443 139.8 457.9 139.9 438.1 140.1 447 140.2 458.6 140.4 450.4 140.5 448.3 140.6 435.1 140.8 443.4 140.9 434.6 141.1 454.3 141.2 433.8 141.4 438.3 141.5 455 141.7 440.2 141.8 431.6 141.9 459.2 142.1 433.9 142.2 461.1 142.4 456.8 142.5 437.3 142.7 452.6 142.8 415.3 142.9 434.4 143.1 463.1 143.2 444.8 143.4 443.5 143.5 449.8 143.7 450.6 143.8 445.1 144 436.1 144.1 423.8 144.2 429.4 144.4 429.5 144.5 436.6 144.7 521.2 144.8 432.6 144.9 437.5 145.1 433.6 145.2 445 145.4 474.5 145.5 466.9 145.7 433.9 145.8 428.2 145.9 466.4 146.1 440 146.2 451.2 146.4 418.5 146.5 464.1 146.6 430.6 146.8 440 146.9 424.7 147.1 436.2 147.2 459.6 147.4 459.6 147.5 439 147.6 456.1 147.8 438.2 147.9 433.8 148.1 443.1 148.2 425 148.3 430.9 148.5 452.5 148.6 456.3 148.8 417.8 148.9 454.1 149 459.1 149.2 437.6 149.3 418.1 149.5 451.2 149.6 427.4 149.7 448.9 149.9 434.1 150 448.6 150.2 428 150.3 439.3 150.4 442 150.6 448.2 150.7 425.2 150.8 480.6 151 429.7 151.1 430.6 151.3 428 151.4 418.5 151.5 436.6 151.7 456.6 151.8 452.9 152 424.9 152.1 421.9 152.2 431.4 152.4 456.4 152.5 440.1 152.6 471.8 152.8 449.9 152.9 447.8 153.1 456.4 153.2 455.4 153.3 432.7 153.5 428.2 153.6 437.5 153.7 440.2 153.9 422.3 154 437.7 154.2 449 154.3 422 154.4 422.1 154.6 423.9 154.7 429.6 154.8 480.7 155 415 155.1 424.5 155.2 423.5 155.4 439.5 155.5 413.9 155.7 438.7 155.8 423.4 155.9 429 156.1 458.1 156.2 424.6 156.3 447.8 156.5 436.1 156.6 436.7 156.7 459.5 156.9 423.4 157 472.1 157.2 468.2 157.3 450.8 157.4 417.9 157.6 450.6 157.7 446.9 157.8 456.9 158 426.1 158 391.5 158.1 476.8 158.2 467 158.4 420.9 158.5 431.1 158.6 415.6 158.8 459.8 158.9 470.2 159 492.8 159.2 446.8 159.3 449.8 159.4 450.5 159.6 444.1 159.7 475.2 159.8 446.2 160 431.5 160.1 440.5 160.2 413.5 160.4 452.6 160.5 450.8 160.6 435.5 160.8 461 160.9 454.1 161 431 161.2 418 161.3 420.6 161.4 423.1 161.6 429.1 161.7 436.3 161.8 469.9 162 427.7 162.1 466 162.2 449.1 162.4 460.2 162.5 433.7 162.6 408.8 162.8 454.8 162.9 425.6 163 420.4 163.2 455.3 163.3 448.8 163.4 423.7 163.6 426.4 163.7 470 163.8 426.4 164 449.3 164.1 419.4 164.2 455.6 164.4 418.7 164.5 438.5 164.6 413.8 164.8 440.3 164.9 457.8 165 416.9 165.1 426.1 165.3 452.1 165.4 443.2 165.5 427.8 165.7 444.2 165.8 434.7 165.9 459 166.1 426.5 166.2 450.9 166.3 444 166.5 449.7 166.6 430.4 166.7 448.6 166.8 447 167 430.5 167.1 411.9 167.2 473.4 167.4 447.3 167.5 421.4 167.6 448 167.8 424.8 167.9 433.8 168 456.2 168.1 432.6 168.3 424.9 168.4 425.7 168.5 415.1 168.7 421.5 168.8 423.8 168.9 419.2 169 414.2 169.2 432.6 169.3 420.9 169.4 446.5 169.6 461.5 169.7 423.4 169.8 437.5 170 433.9 170.1 414.3 170.2 416.4 170.3 456.2 170.5 432 170.6 448.7 170.7 413.7 170.9 437.5 171 452.7 171.1 452.5 171.2 406.5 171.4 432.5 171.5 425.3 171.6 443.7 171.7 412.1 171.9 420 172 445.2 172.1 428.3 172.3 427.3 172.4 464.5 172.5 421 172.6 408.7 172.8 423.5 172.9 413.2 173 410.1 173.1 430.3 173.3 455.8 173.4 430.2 173.5 433.1 173.7 418.7 173.8 428.9 173.9 436.9 174 429.1 174.2 438.5 174.3 426.7 174.4 412 174.5 427.5 174.7 423.1 174.8 410 174.9 428.2 175 436.6 175.2 408.1 175.3 423.9 175.4 431.9 175.5 417.6 175.7 412.3 175.8 415.9 175.9 422.2 176.1 428.1 176.2 422.4 176.3 405.1 176.4 432.5 176.6 440.9 176.7 404.3 176.8 409.3 176.9 406.4 177.1 432.5 177.2 437.4 177.3 401.2 177.4 411 177.6 406 177.7 415.2 177.8 436.2 177.9 401.3 178.1 404.4 178.2 414.6 178.3 415.6 178.4 423.5 178.6 412.1 178.7 402.4 178.8 408.9 178.9 443.3 179 421.9 179.2 400.8 179.3 423.1 179.4 406.3 179.5 421.4 179.7 395.6 179.8 425.2 179.9 400.9 180 409.3 180.2 415.6 180.3 410.2 180.4 400.2 180.5 399.2 180.7 403.1 180.8 396.5 180.9 400.5 181 397.8 181.1 406.3 181.3 403 181.4 408.7 181.5 400.2 181.6 393.3 181.8 400.6 181.9 411.2 182 398 182.1 401 182.3 409.4 182.4 400.2 182.5 413.2 182.6 414.1 182.7 396.7 182.9 405.7 183 394.4 183.1 391.6 183.2 396.9 183.4 399.7 183.5 408.6 183.6 389.8 183.7 399.8 183.8 394.5 184 388.1 184.1 407.7 184.2 396.4 184.3 385.4 184.5 397.3 184.6 381.6 184.7 379.8 184.8 381.2 184.9 389.7 185.1 373.7 185.2 380.1 185.3 365 185.4 348.8 185.5 345.5 185.7 339.5 185.7 242.5 185.8 340.9 185.9 351.4 186 360 186.1 383.2 186.3 372.2 186.4 384.8 186.5 381.1 186.6 388.4 186.7 393.2 186.9 403.9 187 386.2 187.1 390.9 187.2 403.4 187.3 404.5 187.5 392.3 187.6 406.2 187.7 394 187.8 394.1 187.9 402.4 188.1 397.1 188.2 397.3 188.3 396.6 188.4 398.2 188.5 392.6 188.7 391.5 188.8 407.6 188.9 403.4 189 406.7 189.1 410.7 189.3 396.9 189.4 397.4 189.5 398.8 189.6 399.9 189.7 412.5 189.9 402.5 190 401.6 190.1 410.6 190.2 398.8 190.3 397.1 190.5 414.1 190.6 416.5 190.7 403.3 190.8 413.6 190.9 396 191 407.2 191.2 412.8 191.3 403.3 191.4 406.4 191.5 414.8 191.6 414.5 191.8 401.4 191.9 419.1 192 399.6 192.1 438.6 192.2 403.7 192.3 405.6 192.5 404.1 192.6 448.5 192.7 407.4 192.8 418.3 192.9 449 193 437 193.2 400.2 193.3 416.5 193.4 419.9 193.5 424.1 193.6 411.1 193.8 411 193.9 397.2 194 401 194.1 419.8 194.2 403.4 194.3 407.9 194.5 412.8 194.6 403.8 194.7 401.8 194.8 441.8 194.9 417.6 195 409.4 195.2 429.3 195.3 400.8 195.4 411.6 195.5 450.3 195.6 442.2 195.7 428 195.8 406.8 196 415.6 196.1 403.8 196.2 412.3 196.3 404 196.4 409.2 196.5 430 196.7 408.6 196.8 410.9 196.9 446.8 197 418.6 197.1 418.7 197.2 409.2 197.4 439.5 197.5 434.4 197.6 428.7 197.7 432.3 197.8 410.8 197.9 417.5 198 431.6 198.2 456.4 198.3 443.2 198.4 435.1 198.5 429.6 198.6 407 198.7 451.3 198.8 411.3 199 414.1 199.1 439.5 199.2 445.6 199.3 444.7 199.4 428.9 199.5 417.2 199.7 410.7 199.8 450.2 199.9 472.1 200 421 200.1 452.9 200.2 428.5 200.3 424.7 200.4 433.7 200.6 409.1 200.7 431.4 200.8 420.6 200.9 445.1 201 434.5 201.1 455.6 201.2 458.9 201.4 426.5 201.5 424.9 201.6 464.3 201.7 435.4 201.8 417 201.9 414.7 202 483.5 202.2 439.9 202.3 415.6 202.4 436.6 202.5 436.4 202.6 433.3 202.7 467.9 202.8 467.4 202.9 419.3 203.1 420.6 203.2 432.6 203.3 454.9 203.4 443.8 203.5 449.6 203.6 441.6 203.7 424 203.8 454.8 204 413.1 204.1 448.7 204.2 423.7 204.3 436.9 204.4 480.9 204.5 440.7 204.6 417.8 204.7 435.4 204.9 447.7 205 418.1 205.1 427.3 205.2 414.6 205.3 441.7 205.4 433.9 205.5 440 205.6 430 205.8 448.7 205.9 424.2 206 467.4 206.1 477 206.2 439.9 206.3 438.6 206.4 462 206.5 430.2 206.6 457.2 206.8 430.1 206.9 452.8 207 432.5 207.1 446.4 207.2 470.4 207.3 419.2 207.4 457.9 207.5 443.2 207.6 435 207.8 433.7 207.9 420.2 208 429.3 208.1 448 208.2 421.6 208.3 450.7 208.4 479.5 208.5 487.7 208.6 466.9 208.7 458.6 208.9 425.7 209 483.4 209.1 427 209.2 464.8 209.3 465.9 209.4 448.7 209.5 443.1 209.6 427.1 209.7 443.1 209.8 431.7 210 423.7 210.1 423.8 210.2 459.2 210.3 472 210.4 424.6 210.5 416.3 210.6 430.7 210.7 424.4 210.8 427.1 210.9 447.3 211.1 438.8 211.2 439.2 211.3 428.1 211.4 452.1 211.5 432.4 211.6 437.9 211.7 441.2 211.8 470.7 211.9 430.4 212 455.6 212.1 433.7 212.3 469.8 212.4 438 212.5 443.7 212.6 467.8 212.7 453.3 212.8 423.4 212.8 387.5 212.9 425.4 213 496.7 213.1 419 213.2 433.7 213.3 481.3 213.4 417.6 213.6 426.9 213.7 429.5 213.8 423.4 213.9 442.6 214 449.3 214.1 434.9 214.2 424.5 214.3 461.9 214.4 461.5 214.5 447.7 214.6 426 214.7 446.6 214.8 451.6 215 440.6 215.1 467.1 215.2 438.7 215.3 444.9 215.4 425 215.5 448 215.6 459.5 215.7 457.6 215.8 432.2 215.9 500 216 457 216.1 440.6 216.2 440.2 216.3 460.4 216.5 428.2 216.6 452.5 216.7 457 216.8 445.5 216.9 468.5 217 443 217.1 442.9 217.2 433.8 217.3 474.4 217.4 435.4 217.5 455.8 217.6 440.2 217.7 476.4 217.8 478 217.9 420.2 218.1 506.3 218.2 450.8 218.3 423.7 218.4 444.7 218.5 422.5 218.6 447.7 218.7 429.1 218.8 438.3 218.9 435.1 219 450.8 219.1 463.3 219.2 476.8 219.3 436.4 219.4 449 219.5 416.6 219.6 438.7 219.8 483.4 219.9 426.1 220 468.6 220.1 453.8 220.2 434.8 220.3 461 220.4 434.7 220.5 471.8 220.6 424.5 220.7 426.3 220.8 459.5 220.9 442.8 221 427.7 221.1 446.1 221.2 435.2 221.3 448.2 221.4 459.3 221.5 467.3 221.6 423.6 221.7 450.7 221.9 493.9 222 443.5 222.1 460.8 222.2 425.5 222.3 469.5 222.4 450.3 222.5 471.4 222.6 461.9 222.7 469 222.8 423.8 222.9 457.9 223 430.5 223.1 434 223.2 437 223.3 451 223.4 453 223.5 476.9 223.6 419.4 223.7 430.5 223.8 439 223.9 463.9 224 448.7 224.1 446.6 224.2 460.7 224.4 454.8 224.5 435.5 224.6 425.5 224.7 444.1 224.8 470.7 224.9 451.6 225 424 225.1 443.1 225.2 440.3 225.3 450.8 225.4 451.1 225.5 480.1 225.6 438.1 225.7 441.6 225.8 452.7 225.9 471.7 226 457.9 226.1 444.8 226.2 464.1 226.3 445.6 226.4 485.7 226.5 435.5 226.6 427.9 226.7 465.1 226.8 436.3 226.9 467 227 452.6 227.1 447 227.2 426.1 227.3 462.7 227.4 425.1 227.5 486.6 227.6 470.8 227.8 436.8 227.9 428.1 228 471.9 228.1 445.6 228.2 428 228.3 446.6 228.4 434.1 228.5 442.1 228.6 454.7 228.7 475.7 228.8 463.8 228.9 429.9 229 445.7 229.1 446.4 229.2 497.6 229.3 426.5 229.4 447.5 229.5 475.7 229.6 441.9 229.7 435.1 229.8 450.1 229.9 438 230 477.4 230.1 426.5 230.2 432.4 230.3 426.5 230.4 459 230.5 436.7 230.6 474.1 230.7 473.3 230.8 478.6 230.9 434.9 231 415 231.1 441.5 231.2 485.9 231.3 462 231.4 425.5 231.5 458.6 231.6 476.3 231.7 488.2 231.8 459.4 231.9 469.7 232 467 232.1 440.2 232.2 427.4 232.3 460.1 232.4 429.2 232.5 441.5 232.6 510.8 232.7 450.6 232.8 448.5 232.9 480.2 233 436.6 233.1 528.5 233.2 475.8 233.3 440.6 233.4 438.8 233.5 428.9 233.6 476.3 233.7 431.8 233.8 420.4 233.9 473.2 234 452.9 234.1 457.1 234.2 460.6 234.3 424.5 234.4 427.3 234.5 447.4 234.6 425.4 234.7 447.7 234.8 460.8 234.9 456.4 235 454.1 235.1 425 235.2 434.4 235.3 474.2 235.4 428.9 235.5 449.4 235.6 425.5 235.7 479.3 235.8 431.3 235.9 443.1 236 450.2 236.1 459.9 236.2 479.2 236.3 460.9 236.3 393.5 236.4 440.1 236.5 426.8 236.6 459.3 236.7 490.7 236.8 422 236.9 463.1 237 431.6 237.1 445.7 237.2 449 237.3 454.2 237.4 498.2 237.5 458.3 237.6 442.4 237.7 459.8 237.8 446.1 237.9 443.5 238 441.1 238.1 447.5 238.2 437 238.3 435 238.4 430.5 238.5 444.9 238.6 437.6 238.7 467 238.8 468.4 238.9 440.2 239 454.6 239 475.1 239.1 440.9 239.2 451 239.3 445.1 239.4 456.4 239.5 485.3 239.6 430.1 239.7 487.8 239.8 457.3 239.9 464.6 240 455.6 240.1 471.2 240.2 439.4 240.3 459.7 240.4 436.4 240.5 448.5 240.6 458.2 240.7 433.3 240.8 426.6 240.9 464.4 241 465.4 241.1 457.4 241.2 439.3 241.3 457 241.4 427.8 241.5 457.2 241.6 452.4 241.7 454.7 241.8 445.6 241.9 434.6 242 460.8 242.1 446.4 242.2 461.9 242.3 441.5 242.4 428.1 242.4 450.6 242.5 455.1 242.6 477.7 242.7 473.5 242.8 426.7 242.9 463.5 243 436.5 243.1 459.3 243.2 442.4 243.3 439.6 243.4 447.8 243.5 450.1 243.6 459.2 243.7 456.1 243.8 458.3 243.9 442.7 244 458.3 244.1 440.8 244.2 454.4 244.3 446.4 244.4 451.9 244.5 423 244.6 448.4 244.7 434.7 244.8 442.9 244.8 427.8 244.9 457.2 245 474.4 245.1 441.4 245.2 429.3 245.3 455.2 245.4 430.3 245.5 474.2 245.6 430.1 245.7 441.8 245.8 448.3 245.9 430 246 439.7 246.1 437.6 246.2 460.5 246.3 497.1 246.4 441.9 246.5 464.8 246.6 431.1 246.7 453.1 246.8 445.4 246.8 438.3 246.9 466.6 247 462.4 247.1 430.9 247.2 438.6 247.3 466.5 247.4 504.1 247.5 454.9 247.6 471.9 247.7 496.3 247.8 462.1 247.9 456.8 248 435.2 248.1 442.5 248.2 455.7 248.3 478.6 248.4 439.2 248.5 443.7 248.5 424.1 248.6 459.8 248.7 446.1 248.8 465.4 248.9 435.9 249 457.7 249.1 458.5 249.2 447.2 249.3 433.7 249.4 444.2 249.5 462.5 249.6 433.8 249.7 429.1 249.8 447.2 249.9 436 250 465.6 250 466.5 250.1 480.9 250.2 468.2 250.3 457.2 250.4 433.8 250.5 466.9 250.6 461.7 250.7 462.7 250.8 460 250.9 467.3 251 439.3 251.1 458.6 251.2 450.1 251.3 441.2 251.4 440.7 251.4 432.4 251.5 448.7 251.6 442.8 251.7 445.4 251.8 469.8 251.9 459.2 252 459.1 252.1 496.3 252.2 435.5 252.3 449.7 252.4 429.6 252.5 444 252.6 481.8 252.7 429.3 252.7 463.5 252.8 471.5 252.9 449.8 253 465.7 253.1 446.5 253.2 442.2 253.3 449.6 253.4 434.5 253.5 440 253.6 439.9 253.7 498.2 253.8 441.4 253.9 436.2 254 480.5 254 432 254.1 488.5 254.2 470.1 254.3 457.5 254.4 445.9 254.5 434.8 254.6 430.5 254.7 430.4 254.8 442.2 254.9 445 255 478.6 255.1 451.5 255.1 500.3 255.2 461.6 255.3 432.5 255.4 452.5 255.5 433.1 255.6 426.9 255.7 481 255.8 441.7 255.9 434.6 256 430.5 256.1 457.9 256.2 447.7 256.2 424.1 256.3 461.4 256.4 437.9 256.5 465 256.6 449.1 256.7 451.6 256.8 447.6 256.9 459.3 257 499.1 257.1 466 257.2 429.2 257.2 449.5 257.3 436.9 257.4 430.7 257.5 435.1 257.6 437.6 257.7 486.1 257.8 463.1 257.9 470.3 258 460.6 258.1 440.9 258.2 444.6 258.2 447 258.3 439.9 258.4 446.1 258.5 464.6 258.6 559 258.6 429.7 258.7 439.1 258.8 448.9 258.9 459.5 259 457.8 259.1 462.2 259.1 431.1 259.2 434.6 259.3 440.8 259.4 439.5 259.5 463.9 259.6 506.1 259.7 459.9 259.8 426.8 259.9 440.3 260 466.5 260.1 478.9 260.1 455.2 260.2 442.8 260.3 443.1 260.4 457.3 260.5 471.8 260.6 442.4 260.7 435.2 260.8 421.6 260.9 432.7 260.9 470.2 261 456.8 261.1 500.4 261.2 429.6 261.3 443.6 261.4 466.1 261.5 458.8 261.6 429.5 261.7 445.3 261.8 457.5 261.8 460.2 261.9 447.7 262 435.1 262.1 488.7 262.2 448.5 262.3 461.8 262.4 451.9 262.5 430.2 262.6 437.5 262.6 429.4 262.7 435.3 262.8 435.7 262.9 446 263 441.6 263.1 443.5 263.2 467.2 263.3 425.8 263.4 431.3 263.4 466.7 263.5 451.9 263.6 447.2 263.7 439 263.8 452.4 263.9 436.8 264 471.1 264.1 467.6 264.2 441.6 264.2 426.2 264.3 474.5 264.4 440.5 264.5 458.6 264.6 471 264.7 466.2 264.8 471.6 264.9 449.6 264.9 469.2 265 448.3 265.1 438.9 265.2 449.2 265.3 442.3 265.4 464.5 265.5 468 265.7 433.1 265.8 434.2 265.9 444.6 266 448.4 266.2 484.5 266.3 480.9 266.4 489 266.5 462.5 266.7 459.7 266.8 439.3 266.9 444.1 267 422 267.2 468.1 267.3 439.6 267.4 430.4 267.5 441.4 267.7 441.8 267.8 462.2 267.9 423.2 268 437.4 268.2 475.5 268.3 470.6 268.4 457.1 268.5 453.4 268.7 437.1 268.8 473 268.9 464.2 269 450.9 269.1 434.2 269.3 436.8 269.4 444.5 269.5 442.3 269.6 429.7 269.8 445.8 269.9 447.8 270 440.2 270.1 444.8 270.3 442.3 270.4 444.4 270.5 456.6 270.6 450.1 270.8 436 270.9 466.1 271 451 271.1 448.3 271.2 461.7 271.4 463.8 271.5 469.9 271.6 466.9 271.7 459.3 271.9 462.1 272 434.2 272.1 460.9 272.2 438.7 272.4 438.9 272.5 432.5 272.6 445.5 272.7 426.3 272.8 458.7 273 463.5 273.1 465 273.2 433 273.3 457.8 273.4 468.7 273.6 428 273.7 435.9 273.8 439.4 273.9 448.6 274.1 435 274.2 452.4 274.3 443 274.4 458.6 274.5 452 274.7 460.3 274.8 438.5 274.9 461.4 275 462.8 275.1 462.2 275.3 430.4 275.4 481.2 275.5 454.5 275.6 439.7 275.8 447.3 275.9 451.3 276 451.3 276.1 438.6 276.2 439.4 276.4 444 276.5 465.3 276.6 447.5 276.7 428.5 276.8 448.2 277 436.5 277.1 425.8 277.2 492.8 277.3 440.8 277.4 452.4 277.6 443.8 277.7 429.8 277.8 475.9 277.9 479.9 278 435.8 278.2 446.6 278.3 444.6 278.4 434.9 278.4 418 278.5 459 278.6 465.4 278.8 464.2 278.9 459.7 279 426.4 279.1 437.9 279.2 451.3 279.3 461.2 279.5 445.2 279.6 448.1 279.7 468.9 279.8 427.1 279.9 439.7 280.1 440.7 280.2 503.8 280.3 437.8 280.4 429.6 280.5 446.6 280.7 458.4 280.8 434.5 280.9 468.8 281 436.4 281.1 461.3 281.2 434.8 281.4 473.6 281.5 436.7 281.6 462.7 281.7 468.7 281.8 439.2 282 431.8 282.1 455.1 282.2 450.5 282.3 449.6 282.4 465.3 282.5 448.9 282.7 450.4 282.8 450 282.9 448.5 283 446.2 283.1 434.9 283.2 441.1 283.4 439.7 283.5 438.9 283.6 465.4 283.7 432.9 283.8 437 283.9 452 284.1 441.9 284.2 438.6 284.3 444.8 284.4 450.7 284.5 459.7 284.6 490.5 284.8 470.3 284.9 447.4 285 448.4 285.1 446.7 285.2 438.6 285.3 482.1 285.5 431 285.6 437 285.7 459.1 285.8 455.3 285.9 440.5 286 479.9 286.2 446.5 286.3 455.7 286.4 432 286.5 474.6 286.6 432.5 286.7 445.8 286.9 474 287 480.8 287.1 476.1 287.2 467.7 287.3 438.4 287.4 428.4 287.5 448.5 287.7 430.9 287.8 485.6 287.9 425.5 288 442.7 288.1 437.1 288.2 426.6 288.4 450.7 288.5 431.5 288.6 475.6 288.7 460.5 288.8 444.8 288.9 469 289 466.1 289.2 442.8 289.3 469.6 289.4 478.9 289.5 457 289.6 444 289.7 475.7 289.8 480.4 290 443.8 290.1 432 290.2 471.9 290.3 459.3 290.4 438.5 290.5 454.2 290.6 442 290.8 477.7 290.9 443.6 291 436.9 291.1 429.8 291.2 443.6 291.3 497.2 291.4 437.9 291.5 448.9 291.7 490.2 291.8 425.2 291.9 441.5 292 467.4 292.1 432.5 292.2 478.7 292.3 468.2 292.5 434.6 292.6 455.6 292.7 453.7 292.8 460.8 292.9 442 293 445.6 293.1 439 293.2 441.4 293.4 436.1 293.5 476 293.6 474.1 293.7 444.5 293.8 460.8 293.9 450.4 294 440.9 294.1 444 294.3 487.3 294.4 443.7 294.5 454.9 294.6 480.6 294.7 441.7 294.8 466.8 294.9 433.5 295 462.9 295.1 466.6 295.3 468.5 295.4 491.2 295.5 461.7 295.6 492.1 295.7 440.8 295.8 452 295.9 437.9 296 432.2 296.2 448.1 296.3 462.2 296.4 465.2 296.5 427.5 296.6 480.2 296.7 439.5 296.8 441.5 296.9 468 297 474.8 297.2 463 297.3 443.4 297.4 449.3 297.5 468.2 297.6 444.5 297.7 466.6 297.8 465.4 297.9 449.5 298 475.1 298.1 445.7 298.3 463.7 298.4 458.1 298.5 443.3 298.6 452.6 298.7 456.4 298.8 452.9 298.9 433.5 299 500 299.1 487.7 299.3 429.7 299.4 480.4 299.5 452.6 299.6 434.2 299.7 467.3 299.8 448 299.9 461.9 300 467.7 300.1 452.9 300.2 431 300.3 467.4 300.5 460.9 300.6 476.5 300.7 440.7 300.8 465.5 300.9 472.4 301 421 301 444.5 301.1 447 301.2 443.6 301.3 425.5 301.4 439 301.5 443.5 301.7 433.6 301.8 464.5 301.9 447.8 302 454.5 302.1 441.4 302.2 444.8 302.3 463.9 302.4 449.7 302.5 455.9 302.6 447.6 302.7 453.9 302.9 475 303 440.7 303.1 452 303.2 460.5 303.3 432.8 303.4 485.5 303.5 451 303.6 439.7 303.7 464.2 303.8 467 303.9 457.6 304 476.9 304.2 433 304.3 452.5 304.4 463.3 304.5 477 304.6 458.2 304.7 456.2 304.8 446.1 304.9 454.7 305 453.8 305.1 475.6 305.2 467.5 305.3 463 305.4 477.7 305.5 432.1 305.7 464.6 305.8 449.5 305.9 463.7 306 442.1 306.1 449.7 306.2 467.3 306.3 430.1 306.4 441.9 306.5 450.6 306.6 469.7 306.7 441 306.8 467.2 306.9 439.9 307 442.5 307.2 453.8 307.3 458.8 307.4 472.8 307.5 472.7 307.6 440.2 307.7 463.3 307.8 457.8 307.9 446.1 308 464.8 308.1 474.6 308.2 450.2 308.3 476.6 308.4 434.9 308.5 436.5 308.6 464.2 308.7 442.7 308.9 455.4 309 451 309.1 435.7 309.2 463.7 309.3 463.1 309.4 435.7 309.5 440.7 309.6 466 309.7 476.1 309.8 471.6 309.9 451.3 310 445.4 310.1 448.8 310.2 437.1 310.3 451 310.4 439.5 310.5 436.5 310.6 446 310.8 432.5 310.9 449.9 311 460.8 311.1 458.6 311.2 489.8 311.3 473.2 311.4 457.8 311.5 474.4 311.6 448.8 311.7 465.8 311.8 441.9 311.9 452.5 312 491.5 312.1 456 312.2 451.5 312.3 465.3 312.4 443.1 312.5 467.4 312.6 429 312.7 439.9 312.8 437.3 312.9 440.8 313.1 479.4 313.2 429.6 313.3 442.6 313.4 454.8 313.5 461.1 313.6 464.6 313.7 446.2 313.8 439.2 313.9 469.5 314 435.1 314.1 432.8 314.2 439.7 314.3 450.9 314.4 479 314.5 462.3 314.6 454.3 314.7 452.3 314.8 460.6 314.9 457.4 315 444.3 315.1 434 315.2 438.5 315.3 464.9 315.4 457.8 315.5 465.6 315.6 431.8 315.7 474.5 315.8 446.2 315.9 477.2 316.1 455.8 316.2 453.6 316.3 466.6 316.4 457.3 316.5 459.7 316.6 436.7 316.7 456.3 316.8 445.2 316.9 433.4 317 435.8 317.1 450.4 317.2 441.2 317.3 464 317.4 435.4 317.5 429.1 317.6 507.7 317.7 443.4 317.8 451.8 317.9 439 318 439 318.1 447.2 318.2 465.2 318.3 431.5 318.4 467.7 318.5 495 318.6 454.1 318.7 445.4 318.8 440.1 318.9 437.9 319 443.9 319.1 469.1 319.2 426.5 319.3 465 319.4 459.3 319.5 429.7 319.6 433.4 319.7 462.5 319.8 459.6 319.9 443.5 320 418 320 470.1 320.1 439.2 320.2 448.3 320.3 435.3 320.4 458.3 320.5 434.2 320.6 437.9 320.7 464 320.8 451.4 320.9 459 321 462.4 321.1 456.4 321.2 438.7 321.3 460.8 321.4 435.4 321.5 441.7 321.6 449.2 321.7 435.4 321.8 435 321.9 458.6 322 462.8 322.1 446 322.3 446.8 322.4 439.2 322.5 452.4 322.6 455.2 322.7 477.4 322.8 432 322.9 474.8 323 495.1 323.1 445 323.2 462 323.3 466.7 323.4 458.5 323.5 442.6 323.6 457.2 323.7 471.5 323.8 435.2 323.9 450.6 324 430.5 324.1 468.2 324.1 464.5 324.2 432.7 324.3 462.9 324.4 460.4 324.5 436 324.6 452.6 324.7 460.3 324.8 444.6 324.9 451.6 325 488.4 325.1 457.8 325.2 451.5 325.3 433.7 325.4 435.9 325.5 468.8 325.6 462.7 325.7 467.1 325.8 455.1 325.9 455 326 452.9 326.1 462.4 326.2 444.5 326.3 451.3 326.4 450.2 326.5 459 326.6 439.8 326.7 431 326.8 434.7 326.9 438.3 327 469.3 327.1 461.5 327.2 463 327.3 449.2 327.4 435.3 327.5 450 327.6 469.9 327.7 451.9 327.8 457.6 327.9 446.3 328 437.2 328.1 457.3 328.2 450.9 328.3 445.2 328.4 441.6 328.5 460.5 328.6 444.1 328.7 455 328.8 441.7 328.9 463.2 329 446.4 329.1 450.6 329.2 476.3 329.3 461.5 329.4 462.4 329.5 445 329.6 467.5 329.7 446.9 329.8 492.3 329.9 473.1 330 458.8 330.1 466.7 330.2 453.5 330.3 462.2 330.3 436.4 330.4 492.4 330.5 465.3 330.6 437.1 330.7 441.1 330.8 455 330.9 463.6 331 437.4 331.1 482.4 331.2 445.3 331.3 501.9 331.4 463.2 331.5 451 331.6 446 331.7 435.4 331.8 435 331.9 457.5 332 464.1 332 402 332.1 474.3 332.2 446.1 332.3 477.4 332.4 443.4 332.5 477.6 332.6 475.5 332.7 437.7 332.8 469.7 332.9 461 333 460.9 333.1 467.7 333.2 453.3 333.2 452 333.3 446.3 333.4 470.2 333.5 473.8 333.6 437.9 333.7 464.2 333.8 442.6 333.9 438.9 334 439.4 334.1 455.1 334.2 442.8 334.3 441.3 334.4 435.6 334.5 444.6 334.6 464.3 334.7 431.2 334.8 451 334.9 456.4 335 433.7 335.1 443.4 335.2 474.4 335.3 501 335.4 468.8 335.4 438.4 335.5 463.9 335.6 449.8 335.7 438.4 335.8 451 335.9 476.1 336 471.5 336.1 447.4 336.2 434.3 336.3 473.8 336.4 491.9 336.5 452.3 336.6 440.7 336.7 453.8 336.8 460.8 336.9 451.1 337 445.9 337.1 441.6 337.2 443.6 337.3 433.8 337.3 441.9 337.4 480 337.5 429.6 337.6 462.3 337.7 465.1 337.8 448 337.9 456.2 338 440.6 338.1 459.6 338.2 461.4 338.3 462.7 338.4 451.6 338.5 486.2 338.6 470.5 338.7 455.2 338.8 460.3 338.9 442.8 338.9 478.3 339 458.6 339.1 473.4 339.2 443.4 339.3 490.6 339.4 436.1 339.5 453.3 339.6 436.3 339.7 439.4 339.8 464.1 339.9 434.6 340 447.2 340.1 439.5 340.2 469 340.3 435.2 340.4 445.4 340.4 469.6 340.5 460.6 340.6 461.3 340.7 495.5 340.8 431.6 340.9 459.6 341 463.3 341.1 463.4 341.2 461.8 341.3 434.9 341.4 435.3 341.5 464.6 341.6 457.2 341.7 442.4 341.7 430.2 341.8 453.6 341.9 435.6 342 463.5 342.1 445.6 342.2 466.2 342.3 435.8 342.4 451.8 342.5 436 342.6 465 342.7 454.8 342.8 441.4 342.9 483.7 343 460.5 343 445.5 343.1 469.6 343.2 447.3 343.3 478.4 343.4 443.9 343.5 491.5 343.6 434.6 343.7 462.9 343.8 443.7 343.9 449.1 344 458.4 344.1 433.8 344.2 441 344.2 436.2 344.3 463.2 344.4 440.9 344.5 452.1 344.6 445.2 344.7 441.5 344.8 477.7 344.9 452.5 345 459.1 345.1 461.6 345.2 466.9 345.3 442.6 345.3 435.3 345.4 450.9 345.5 438.9 345.6 431.6 345.7 476.2 345.8 458 345.9 448.8 346 437.6 346.1 464.2 346.2 453.8 346.3 439.1 346.4 490.9 346.4 479.6 346.5 477 346.6 467.3 346.7 453.7 346.8 444.2 346.9 459.3 347 438.2 347 365.7 347.1 457.7 347.2 434.9 347.3 431 347.4 462.2 347.4 445.9 347.5 461.4 347.6 465.2 347.7 467.8 347.8 457.6 347.9 469 348 459.6 348.1 477.1 348.2 474 348.3 433.7 348.3 442.9 348.4 447.9 348.5 442.3 348.6 439.3 348.7 471.7 348.8 432.1 348.9 439.5 349 464.3 349.1 441.2 349.2 442.6 349.3 485.7 349.3 464.5 349.4 450.3 349.5 437.7 349.6 443.1 349.7 490.6 349.8 465.8 349.9 435.2 350 461.9 350.1 447.4 350.2 462.5 350.2 349.8 350.2 444.2 350.3 437.5 350.4 431.7 350.5 444.2 350.6 470.5 350.7 473.6 350.8 460.9 350.9 463.9 351 440.1 351 446.6 351.1 474.4 351.2 492.6 351.3 450.2 351.4 465.2 351.5 477.8 351.6 506.5 351.7 444.2 351.8 459.6 351.9 448.1 351.9 451.1 352 451 352.1 443.6 352.2 431.8 352.3 464.8 352.4 461.5 352.5 468.6 352.6 438.5 352.7 441.9 352.7 457 352.8 478.2 352.9 451.4 353 440.5 353.1 456.9 353.2 482.3 353.3 471.4 353.4 474.5 353.5 449 353.5 443 353.6 471.6 353.7 465.8 353.8 469.7 353.9 448.2 354 444 354.1 442.1 354.2 471.7 354.3 476.6 354.3 447.3 354.4 472.1 354.5 447.8 354.6 450.5 354.7 455.7 354.8 441.4 354.9 443.2 355 443.2 355 443 355.1 453.4 355.2 436.6 355.3 465.6 355.4 439.5 355.5 450.4 355.6 459.2 355.7 438.1 355.7 449 355.8 455.6 355.9 455 356 473.9 356.1 465.8 356.2 437.5 356.3 468 356.4 455 356.5 460.9 356.5 439 356.6 451.6 356.7 461.9 356.8 466.4 356.9 466.8 357 441.3 357.1 468 357.2 455.9 357.2 460.5 357.3 469.9 357.4 449 357.5 476.7 357.6 472.9 357.7 466.9 357.8 447.9 357.8 454.1 357.9 439.6 358 464.7 358.1 473.9 358.2 439.1 358.3 464.1 358.4 461.7 358.5 433.6 358.5 476.5 358.6 452 358.7 443.5 358.8 433.1 358.9 465.8 359 446.3 359.1 453.5 359.2 440.5 359.2 457.8 359.3 448.7 359.4 466.9 359.5 460.5 359.6 463.1 359.7 442.8 359.8 435.4 359.8 472.9 359.9 478.5 360 459.5 360.1 477.1 360.2 462.4 360.2 368.5 360.3 457.8 360.4 449.6 360.4 447.1 360.5 452.5 360.6 441.7 360.7 450 360.8 453.3 360.9 433.3 361 448.6 361.1 444.2 361.1 459.1 361.2 467.3 361.3 458.2 361.4 460.5 361.5 458.2 361.6 443.1 361.7 448 361.7 469.4 361.8 479.6 361.9 440.1 362 431.4 362.1 484.1 362.2 470.9 362.3 457.9 362.3 467.6 362.4 457.3 362.5 475.5 362.6 442.6 362.7 450.8 362.8 460.9 362.9 441.5 362.9 462.9 363 443.4 363.1 462.7 363.2 467 363.3 450 363.4 494.7 363.4 459.1 363.5 464.8 363.6 432.4 363.7 437.5 363.8 462.8 363.9 479.4 364 459 364 476.4 364.1 435.4 364.2 474.2 364.3 472.8 364.4 459 364.5 450.3 364.6 462.5 364.6 442.7 364.7 460.8 364.8 462 364.9 455 365 443.4 365.1 428.9 365.1 440.8 365.2 468.5 365.3 441.5 365.4 436.1 365.5 442.9 365.6 454 365.7 457.1 365.7 472.9 365.8 470.6 365.9 486.9 366 473.6 366.1 451.2 366.2 438.7 366.2 482.3 366.3 442.2 366.4 458.8 366.5 443.7 366.6 467.7 366.7 441.1 366.8 450 366.8 441.9 366.9 471.3 367 458.7 367.1 459.2 367.2 445.7 367.3 440.1 367.3 470.9 367.4 465.4 367.5 464 367.6 507.5 367.7 456 367.8 440.2 367.8 458.3 367.9 444.7 368 453.9 368.1 451.6 368.2 456.2 368.3 477.4 368.3 467.5 368.4 449.9 368.5 467.9 368.6 471.3 368.7 465.9 368.8 455.7 368.8 475.2 368.9 453 369 437.5 369.1 444.1 369.2 460.6 369.3 448.4 369.3 450.2 369.4 449.4 369.5 440.9 369.6 437 369.7 435.3 369.8 461.3 369.8 446.2 369.9 451.6 370 478.9 370.1 459.2 370.2 467.6 370.3 465.4 370.3 481.7 370.4 436 370.5 448.7 370.6 480.4 370.7 452 370.8 480.2 370.8 440.6 370.9 435.8 371 474.9 371.1 449.8 371.2 453.8 371.3 479 371.3 442.1 371.4 487 371.5 449.2 371.6 443.2 371.7 442.7 371.7 454.3 371.8 452.1 371.9 474 372 435.5 372.1 434.9 372.2 439.4 372.2 458.3 372.3 466.4 372.4 452.7 372.5 458.7 372.6 460 372.7 432.7 372.7 443.2 372.8 508.9 372.9 446.6 373 480.2 373.1 453.2 373.1 442.3 373.2 429.4 373.3 442.1 373.4 446.3 373.5 451.1 373.6 451.4 373.6 455.8 373.7 452.5 373.8 434 373.9 444.1 374 484.9 374 391.5 374 433.5 374.1 464.3 374.2 452.6 374.3 463.1 374.4 446.8 374.5 448.3 374.5 454.3 374.6 476.5 374.7 446.6 374.8 437 374.9 434.5 374.9 473.7 375 446.1 375.1 438.3 375.2 458 375.3 470.1 375.3 458.2 375.4 439.5 375.5 449.8 375.6 444.2 375.7 432.6 375.8 486.3 375.8 452 375.9 438.9 376 474.1 376.1 493.3 376.2 468.2 376.2 443.7 376.3 441.1 376.4 454.8 376.5 457.5 376.6 473.5 376.6 486.9 376.7 476.7 376.8 447.3 376.9 457.6 377 438.5 377.1 454.6 377.1 436.5 377.2 438.1 377.3 438.5 377.4 445.7 377.5 446 377.5 463.1 377.6 436.7 377.7 438.1 377.8 460.9 377.9 461.7 377.9 463.4 378 463.8 378.1 461.2 378.2 456.2 378.3 464.8 378.3 437 378.4 442.1 378.5 464.8 378.6 441.3 378.7 455.2 378.7 444.1 378.8 451 378.9 469.2 379 461.2 379.1 451.6 379.1 444.6 379.2 467.8 379.3 461 379.4 451.4 379.5 472.7 379.5 462.6 379.6 491.8 379.7 461.4 379.8 475.8 379.9 456.1 379.9 463.5 380 470 380.1 437.4 380.2 452.8 380.3 458.7 380.3 436.1 380.4 467.1 380.5 463.8 380.6 479.5 380.7 448.7 380.7 452.6 380.8 477.1 380.9 450.3 381 469.3 381.1 450.7 381.1 447.3 381.2 444.9 381.3 442.3 381.4 451.1 381.5 440.2 381.5 469 381.6 489.7 381.7 437.7 381.8 436.1 381.8 430.2 381.9 479.1 382 436.8 382.1 462.2 382.2 446 382.2 441.7 382.3 443.7 382.4 462.7 382.5 433.1 382.6 472.4 382.6 457.1 382.7 443.3 382.8 442.2 382.9 461.1 383 459.9 383 446.6 383.1 447.3 383.2 452.5 383.3 477 383.3 455.7 383.4 470 383.5 460.5 383.6 456.9 383.7 453.6 383.7 462.3 383.8 453.7 383.9 464.4 384 441.1 384.1 446.8 384.1 473.3 384.2 449.8 384.3 470.3 384.4 479.8 384.4 457.6 384.5 438 384.6 465.8 384.7 461.7 384.8 445.6 384.8 472.3 384.9 453.4 385 436.3 385.1 436.8 385.2 443.1 385.2 459.1 385.3 468.5 385.4 438 385.5 433.6 385.5 459.7 385.6 450.4 385.7 451.7 385.8 468.8 385.9 478 385.9 487.3 386 466.9 386.1 430.2 386.2 440 386.2 458.1 386.3 483 386.4 437.3 386.5 454.8 386.6 449.9 386.6 450.4 386.7 444.8 386.8 444.9 386.9 443.6 386.9 438.2 387 456.6 387.1 368.5 387.1 452 387.2 463.9 387.3 460.6 387.3 482.2 387.4 447.7 387.5 474.4 387.6 449.5 387.6 461.6 387.7 468.2 387.8 450 387.9 452 388 460.2 388 438.6 388.1 455.7 388.2 437.9 388.3 443.1 388.3 459.9 388.4 489.2 388.5 519.8 388.6 444.5 388.6 440 388.7 455.1 388.8 451.9 388.9 449.4 389 466.6 389 463.9 389.1 457.1 389.2 459.8 389.3 458 389.3 462.4 389.4 479 389.5 480.9 389.6 491.9 389.6 472.2 389.7 438.4 389.8 452.3 389.9 467.2 390 446 390 459.2 390.1 436.5 390.2 442.3 390.3 450.3 390.3 437.1 390.4 451.3 390.5 443.4 390.6 472.5 390.6 447 390.7 449.5 390.8 468.2 390.9 457.1 390.9 436.3 391 442.9 391.1 459.4 391.2 442.2 391.3 444.2 391.3 460 391.4 454.1 391.5 445 391.6 457.1 391.6 460.5 391.7 435.4 391.8 445.2 391.9 446.6 391.9 474.2 392 436.4 392.1 448.2 392.2 442 392.2 463.4 392.3 468.7 392.4 436.7 392.5 472.7 392.5 463.4 392.6 443 392.7 478 392.8 446 392.9 467.7 392.9 437.4 393 452.7 393.1 454.7 393.2 476.1 393.2 470.1 393.3 456.6 393.4 436.5 393.5 451.6 393.5 449.4 393.6 505.8 393.7 462.8 393.8 450.6 393.8 449 393.9 466.8 394 438.3 394.1 469 394.1 462.3 394.2 451.9 394.3 464.2 394.4 450.4 394.4 440.1 394.5 451.1 394.6 436.6 394.7 437.9 394.7 452.1 394.8 469.4 394.9 442.5 395 454.6 395 492 395.1 469.6 395.2 476.7 395.3 462.6 395.3 458.6 395.4 458.3 395.5 459.2 395.6 453.1 395.6 448.9 395.7 444 395.8 437.2 395.9 449.3 395.9 467 396 457 396.1 441 396.2 469 396.2 435.8 396.3 479.7 396.4 461.6 396.5 457.2 396.5 451.1 396.6 469.5 396.7 431.9 396.8 433.5 396.8 455.6 396.9 446.4 397 450.6 397.1 456.3 397.1 436.1 397.2 493.5 397.3 462.8 397.4 438.5 397.4 465.6 397.5 456.2 397.6 463.2 397.7 465.6 397.7 498.5 397.8 439.3 397.9 507.3 398 453.7 398 442.6 398.1 449.6 398.2 449.2 398.3 476.2 398.3 455.8 398.4 437.3 398.5 464.6 398.5 454.6 398.6 469.1 398.7 436.4 398.8 473.2 398.8 476 398.9 432.5 399 453.8 399.1 439.5 399.1 456.1 399.2 438.2 399.3 475.4 399.4 441.9 399.4 462.5 399.5 461.8 399.6 447.5 399.7 443.2 399.7 478.3 399.8 435.8 399.9 444.8 400 447.7 400 458.6 400.1 449.5 400.2 439.1 400.2 458 400.3 465.1 400.4 464.2 400.5 454.4 400.5 447 400.6 433.2 400.7 456.3 400.8 460.7 400.8 452.4 400.9 485.1 401 442.8 401.1 469.2 401.1 464.9 401.2 476.7 401.3 479.3 401.3 444.2 401.4 479 401.5 450.9 401.6 463.1 401.6 482.9 401.7 459.2 401.8 458.7 401.9 437.7 401.9 459.3 402 444.4 402.1 450.3 402.2 449.9 402.2 490.3 402.3 461.2 402.4 465.2 402.4 441.6 402.5 447 402.6 474.6 402.7 439.6 402.7 483 402.8 452 402.9 450.4 403 455.6 403 452.6 403.1 453.7 403.2 451.8 403.2 464.2 403.3 445.9 403.4 441.4 403.5 452.3 403.5 438.4 403.6 452.8 403.7 454.7 403.8 468 403.8 439.2 403.9 450.8 404 467.8 404 448.4 404.1 470.5 404.2 465 404.3 436.2 404.3 450.3 404.4 467.2 404.5 456.2 404.6 462.9 404.6 496.4 404.7 463 404.8 457.1 404.8 471.6 404.9 452.2 405 433.4 405.1 445.8 405.1 459.4 405.2 481.8 405.3 459.9 405.3 446.3 405.4 502.2 405.5 451 405.6 444 405.6 457.5 405.7 448.7 405.8 439.4 405.9 464.8 405.9 463.8 406 490 406.1 440.4 406.1 478.1 406.2 468.7 406.3 445.1 406.4 454.2 406.4 461 406.5 447.6 406.6 439.3 406.6 470.8 406.7 441.5 406.8 454.7 406.9 452.6 406.9 477.4 407 457.8 407.1 452 407.1 491.8 407.2 449.1 407.3 465.5 407.4 444.3 407.4 466.9 407.5 466.6 407.6 470.2 407.6 454.5 407.7 443.9 407.8 461.2 407.9 478.1 407.9 447.4 408 434.5 408.1 442.4 408.1 480.4 408.2 432.2 408.3 437.3 408.4 439 408.4 476.3 408.5 450.4 408.6 464 408.6 464.6 408.7 452.5 408.8 465.8 408.9 453.6 408.9 457.1 409 447.4 409.1 430.8 409.1 459.5 409.2 445.7 409.3 446.1 409.4 475.1 409.4 449.6 409.5 439.2 409.6 461.2 409.6 457 409.7 437.5 409.8 449.1 409.9 460.3 409.9 446.3 410 495.2 410.1 469 410.1 455.4 410.2 478.8 410.3 435.9 410.3 444.1 410.4 478.7 410.5 455.7 410.5 409 410.6 441.9 410.6 458.5 410.7 465.8 410.8 460 410.8 436.9 410.9 436.1 411 451.5 411.1 434.2 411.1 438.6 411.2 461.8 411.3 452.8 411.3 438.7 411.4 474.9 411.5 450 411.5 475.6 411.6 460.3 411.7 460.9 411.8 452.2 411.8 463.2 411.9 444.9 412 445.5 412 474.8 412.1 443.3 412.2 450.7 412.3 466.6 412.3 448.5 412.4 449.9 412.5 478.3 412.5 443.5 412.6 444.9 412.7 476 412.7 446.3 412.8 448.5 412.9 475.5 413 448.1 413 509.3 413.1 470.1 413.2 472 413.2 444.3 413.3 443.9 413.4 467 413.4 470.4 413.5 444.2 413.6 443.5 413.7 445 413.7 440.8 413.8 452.2 413.9 455.5 413.9 461.3 414 437.6 414.1 443 414.1 440 414.2 446.1 414.3 442.7 414.3 481.1 414.4 450.3 414.5 440.9 414.6 463.1 414.6 490.7 414.7 469 414.8 462.3 414.8 450.5 414.9 451.5 415 447.5 415 469.5 415.1 469.4 415.2 455 415.3 473.6 415.3 462.5 415.4 464 415.5 446.1 415.5 445 415.6 444.5 415.7 478.7 415.7 469.3 415.8 477.4 415.9 470.3 415.9 469.5 416 452.9 416.1 467.7 416.2 442 416.2 462.7 416.3 436.9 416.4 488.2 416.4 475.5 416.5 442 416.6 467.9 416.6 470.4 416.7 436.8 416.8 458.6 416.8 452.3 416.9 461 417 476.2 417 465.8 417.1 443.9 417.2 458.1 417.3 458.4 417.3 434.1 417.4 440.7 417.5 449.9 417.5 442.5 417.6 444.9 417.7 463.7 417.7 486.7 417.8 453.9 417.9 462.3 417.9 467.6 418 463.5 418.1 462.8 418.1 430.2 418.2 474.6 418.3 441.9 418.4 442.7 418.4 456.1 418.5 459.6 418.6 467.4 418.6 447.2 418.7 482.2 418.8 461.5 418.8 472 418.9 454.7 419 438.5 419 434.2 419.1 462.1 419.2 452.7 419.2 453.3 419.3 448.6 419.4 442.6 419.4 454.6 419.5 445.7 419.6 476.9 419.7 442.7 419.7 489.1 419.8 473.7 419.9 451 419.9 468.2 420 459.4 420.1 454.3 420.1 470 420.2 470.9 420.3 443.6 420.3 478.3 420.4 436.1 420.5 432.6 420.5 455.1 420.6 447.7 420.7 452.6 420.7 454.9 420.8 454.4 420.9 478.5 420.9 479.5 421 449.5 421.1 447.1 421.1 462.8 421.2 443.5 421.3 451.7 421.4 465.7 421.4 432.7 421.5 468.2 421.6 466.5 421.6 451.2 421.7 445.5 421.8 457.6 421.8 447.5 421.9 470.5 422 459.9 422 447.9 422.1 469.9 422.2 460.7 422.2 440.9 422.3 452.3 422.4 455.3 422.4 482.2 422.5 448.5 422.6 453.7 422.6 492.4 422.7 452.8 422.8 470.8 422.8 439.6 422.9 451.5 423 443 423 476.1 423.1 458.2 423.2 444.4 423.2 439.4 423.3 452.6 423.4 439.6 423.4 455.2 423.5 466.3 423.6 448.1 423.6 442.3 423.7 450.2 423.8 442.3 423.8 472.1 423.9 439.6 424 466.8 424 449.1 424.1 466.3 424.2 468.2 424.2 441.1 424.3 467.6 424.4 482.4 424.4 458.9 424.5 462.5 424.6 448.6 424.6 442.6 424.7 467 424.8 470.5 424.8 443.9 424.9 440.3 425 449.8 425 461.6 425.1 450.3 425.2 487.9 425.2 469.2 425.3 479.4 425.4 460.4 425.4 467.6 425.5 483.2 425.6 436.5 425.6 459.3 425.7 443.2 425.8 469.4 425.8 445 425.9 466.9 426 449.1 426 462.8 426.1 464 426.2 478.7 426.2 475.1 426.3 453.3 426.4 464.5 426.4 443 426.5 439.7 426.6 465.7 426.6 478.5 426.7 467.2 426.8 456.6 426.8 461.8 426.9 466.4 427 459 427 450.3 427.1 472.9 427.2 450.6 427.2 478.2 427.3 469.6 427.4 469.3 427.4 471.2 427.5 496.1 427.6 497.2 427.6 455.9 427.7 450.9 427.8 466.6 427.8 489.3 427.9 461.8 428 435.7 428 436.8 428.1 454.4 428.2 469.1 428.2 476.6 428.3 450.8 428.4 456.7 428.4 456.5 428.5 439.6 428.6 430.1 428.6 457 428.7 456.1 428.8 474.2 428.8 443 428.9 473.1 429 446.6 429 457.7 429.1 465.4 429.2 441.6 429.2 482.5 429.3 485.7 429.3 490.1 429.4 431.7 429.5 462.5 429.5 463.8 429.6 475.9 429.7 443.8 429.7 440.8 429.8 470.1 429.9 446.3 429.9 438.5 430 439.5 430.1 462.6 430.1 457.6 430.2 467.3 430.3 470 430.3 431.9 430.4 481.2 430.5 475.9 430.5 481.2 430.6 468.3 430.7 451.2 430.7 445.7 430.8 479.2 430.9 452.7 430.9 455.4 431 465 431 464.6 431.1 464.8 431.2 461.6 431.2 456.3 431.3 468.2 431.4 451.7 431.4 446.3 431.5 478.8 431.6 472.5 431.6 466 431.7 442.5 431.8 437.6 431.8 480.2 431.9 482.2 432 446.7 432 461.9 432.1 435.1 432.2 451.7 432.2 465.3 432.3 450.3 432.3 470.1 432.4 479.2 432.5 441.3 432.5 464.6 432.6 451 432.7 442.8 432.7 449.9 432.8 455.2 432.9 477.6 432.9 468.2 433 432.8 433.1 438.2 433.1 504.3 433.2 458.6 433.3 461 433.3 450 433.4 471.2 433.4 458.6 433.5 460.2 433.6 445.8 433.6 468.7 433.7 444.4 433.8 441.4 433.8 460.5 433.9 471.3 434 447.6 434 448 434.1 441.8 434.2 460.7 434.2 468.4 434.3 440.9 434.3 457.6 434.4 457.8 434.5 440.2 434.5 457.4 434.6 446.8 434.7 443.8 434.7 495.8 434.8 439.6 434.9 449.7 434.9 461.5 435 452.2 435.1 435.1 435.1 474.6 435.2 445.5 435.2 452.5 435.3 478.9 435.4 490.1 435.4 479.5 435.5 452.4 435.6 467.2 435.6 472.9 435.7 443.8 435.8 490 435.8 440 435.9 463.3 435.9 445.5 436 444.5 436.1 441.4 436.1 482.3 436.2 441.1 436.3 479.3 436.3 391.5 436.3 442.5 436.4 449.1 436.5 444.4 436.5 496.7 436.6 439.7 436.7 474.2 436.7 448 436.8 483.9 436.8 467.6 436.9 446.5 437 456.5 437 442.4 437.1 452.3 437.2 435.9 437.2 464.4 437.3 460.4 437.4 446.8 437.4 434.8 437.5 482 437.5 441 437.6 449.1 437.7 435.9 437.7 451.4 437.8 452.1 437.9 457.6 437.9 448.9 438 446 438 469.2 438.1 447.1 438.2 449.3 438.2 455.7 438.3 446.9 438.4 466.5 438.4 439.4 438.5 448.9 438.6 452.9 438.6 446.3 438.7 472.1 438.7 450.2 438.8 452.9 438.9 454.8 438.9 471.3 439 444.7 439.1 471.2 439.1 483 439.2 446.6 439.3 442.7 439.3 469.4 439.4 448.5 439.4 445.1 439.5 439.2 439.6 461.3 439.6 481.8 439.7 476.2 439.8 460.2 439.8 453.6 439.9 492.6 439.9 463.5 440 485.4 440.1 464.8 440.1 465.2 440.2 465.4 440.3 441.1 440.3 446.1 440.4 438.8 440.4 481.4 440.5 505.7 440.6 461 440.6 442.2 440.7 441 440.8 454 440.8 451.7 440.9 443.8 440.9 439.7 441 462.9 441.1 469.6 441.1 438.7 441.2 448.4 441.3 448.1 441.3 458.1 441.4 461 441.4 452.5 441.5 474.7 441.6 451.7 441.6 448.2 441.7 468.4 441.8 472.3 441.8 475.9 441.9 442.8 441.9 443.9 442 454.7 442.1 489.5 442.1 461.7 442.2 461.8 442.3 449.2 442.3 498.5 442.4 443.3 442.4 458.9 442.5 464.2 442.6 470.4 442.6 470.6 442.7 451.6 442.8 446.9 442.8 493.9 442.9 458.6 442.9 447.4 443 441.6 443.1 470.1 443.1 473 443.2 459.4 443.3 451.5 443.3 463.5 443.4 494 443.4 459.8 443.5 469.4 443.6 476.4 443.6 468 443.7 455.7 443.7 443.2 443.8 465.2 443.9 471.4 443.9 487.8 444 442.2 444.1 440.7 444.1 462.5 444.2 471.2 444.2 439.2 444.3 461.5 444.4 446.8 444.4 520.7 444.5 450.6 444.6 439.5 444.6 469.2 444.7 448.2 444.7 453 444.8 441.3 444.9 449.4 444.9 441.5 445 446.4 445 459.9 445.1 448.1 445.2 463.9 445.2 478.3 445.3 459.8 445.4 436.3 445.4 486.8 445.5 444 445.5 450 445.6 457.5 445.7 461.7 445.7 449.9 445.8 453.8 445.8 462.1 445.9 454.5 446 447.5 446 452.6 446.1 451.6 446.2 447.8 446.2 460.9 446.3 456.8 446.3 452.7 446.4 465.9 446.5 470.6 446.5 463.1 446.6 449.8 446.6 481.9 446.7 440.4 446.8 470.3 446.8 453.1 446.9 452.1 446.9 472.6 447 463.4 447.1 491.9 447.1 476.1 447.2 440.8 447.3 456.4 447.3 468.6 447.4 439.5 447.4 458.2 447.5 502.7 447.6 445.7 447.6 440.9 447.7 447.8 447.7 450 447.8 447.6 447.9 453.6 447.9 471.6 448 457.1 448 460.4 448.1 440.6 448.2 438.9 448.2 483.7 448.3 450.1 448.4 483 448.4 449.7 448.5 462.7 448.5 463.7 448.6 439.9 448.7 439.1 448.7 454 448.8 441.3 448.8 448.1 448.9 444 449 448.8 449 454.5 449.1 448.7 449.1 449.7 449.2 455.8 449.3 464.7 449.3 437.6 449.4 511.3 449.4 453.5 449.5 480.6 449.6 433.8 449.6 438.6 449.7 440.2 449.7 479.6 449.8 452.8 449.9 473 449.9 465.3 450 439.8 450 450.8 450.1 449.5 450.2 454.5 450.2 468 450.3 439.7 450.4 481 450.4 455.4 450.5 450.9 450.5 465.4 450.6 447.3 450.7 466.1 450.7 453 450.8 455.5 450.8 443.8 450.9 444.3 451 474.5 451 459.9 451.1 453.2 451.1 469 451.2 479.6 451.3 442.6 451.3 512.2 451.4 435.2 451.4 461.6 451.5 446.8 451.6 446.3 451.6 456.2 451.7 461.2 451.7 453.8 451.8 466.2 451.9 483.5 451.9 443 452 445.8 452 461.4 452.1 452.8 452.2 448.9 452.2 456.6 452.3 465.4 452.3 479.3 452.4 482.5 452.5 471.1 452.5 450.2 452.6 476.8 452.6 466 452.7 443.2 452.8 484.6 452.8 446.2 452.9 464.8 452.9 465.3 453 479.2 453.1 464.1 453.1 495.3 453.2 438.8 453.2 437.3 453.3 444.1 453.3 399 453.4 459.9 453.4 453.3 453.5 439.7 453.5 444.4 453.6 460.1 453.6 452.5 453.7 468.5 453.8 455.1 453.8 476.2 453.9 468.3 453.9 456.2 454 450.7 454.1 444.8 454.1 448 454.2 450.6 454.2 450.8 454.3 443.4 454.4 455.4 454.4 440.8 454.5 475.3 454.5 458.8 454.6 440.2 454.7 449.5 454.7 446.5 454.8 442.5 454.8 455.7 454.9 443.6 455 442.4 455 465.7 455.1 453.6 455.1 464.4 455.2 455.2 455.3 456.6 455.3 448.8 455.4 453.5 455.4 455.7 455.5 450.1 455.5 471.4 455.6 446.2 455.7 445.2 455.7 450.2 455.8 469.6 455.8 473.2 455.9 459.5 456 450.8 456 463.3 456.1 471.5 456.1 446.1 456.2 464.2 456.3 466.1 456.3 452 456.4 442.1 456.4 461.4 456.5 444.8 456.5 451.1 456.6 458.5 456.7 488.1 456.7 442.2 456.8 439.4 456.8 458.3 456.9 482.8 457 438.2 457 463 457.1 436.5 457.1 458.8 457.2 441.2 457.3 463.8 457.3 450.9 457.4 463.6 457.4 446.7 457.5 439.5 457.5 443.6 457.6 447.4 457.7 442.9 457.7 444.3 457.8 458.5 457.8 454 457.9 471.5 458 456.4 458 458.3 458.1 466.2 458.1 473.8 458.2 460.4 458.3 437.3 458.3 454.9 458.4 436.9 458.4 461.3 458.5 439.1 458.5 458.4 458.6 442.4 458.7 474.1 458.7 440.2 458.8 463.9 458.8 465.9 458.9 447.4 459 460.8 459 449.7 459.1 446.8 459.1 446.8 459.2 435.5 459.2 464.5 459.3 439.4 459.4 444.3 459.4 440 459.5 470.5 459.5 457.9 459.6 455.2 459.7 460.4 459.7 470.7 459.8 462.3 459.8 457.2 459.9 449 459.9 457.3 460 497 460.1 459.8 460.1 455.6 460.2 477.4 460.2 438.7 460.3 439.1 460.3 469.9 460.4 482.8 460.5 438.6 460.5 436.2 460.6 434.9 460.6 460.1 460.7 442 460.8 459.4 460.8 464.1 460.9 435.5 460.9 475.6 461 446.6 461 459.1 461.1 450.7 461.2 450.2 461.2 452.7 461.3 432.9 461.3 453.7 461.4 447.1 461.4 450.8 461.5 443 461.6 449.9 461.6 465.8 461.7 495.8 461.7 444.3 461.8 475.3 461.9 461.9 461.9 440.6 462 435.4 462 477 462.1 445.8 462.1 440.8 462.2 463.8 462.3 466.1 462.3 478.1 462.4 456.6 462.4 449 462.5 449.3 462.5 388.7 462.5 444.7 462.6 462.8 462.7 482.9 462.7 440 462.8 452 462.8 450.6 462.9 439.8 462.9 461 463 495.5 463.1 447.6 463.1 467.1 463.2 478.7 463.2 447.3 463.3 480.5 463.3 468 463.4 463.3 463.5 444.3 463.5 447.6 463.6 440.6 463.6 478.2 463.7 470.8 463.7 440.1 463.8 458.1 463.9 445 463.9 468.8 464 460 464 483.2 464.1 467.1 464.1 440.6 464.2 451.5 464.3 460.2 464.3 479.8 464.4 451.4 464.4 444 464.5 447.9 464.5 446.5 464.6 442.7 464.7 450.3 464.7 446.5 464.8 457.2 464.8 478.1 464.9 485.2 464.9 442.9 465 459.9 465.1 464.7 465.1 442.6 465.2 458.1 465.2 444.5 465.3 451.2 465.3 449.6 465.4 471.1 465.5 445.9 465.5 458.5 465.6 460.6 465.6 449.8 465.7 481.6 465.7 449.9 465.8 449.7 465.9 465.5 465.9 456.2 466 467 466 442.7 466.1 442.5 466.1 467.5 466.2 452.2 466.2 474.4 466.3 445.9 466.4 446.2 466.4 475 466.5 451.1 466.5 441 466.6 445.4 466.6 469.1 466.7 447.2 466.8 459.3 466.8 472.1 466.9 461.8 466.9 468.3 467 493.4 467 448.6 467.1 476.3 467.2 459.1 467.2 444.6 467.3 441.9 467.3 449.8 467.4 442.1 467.4 469.2 467.5 459.4 467.5 438.2 467.6 476.5 467.7 461.1 467.7 454.4 467.8 442.2 467.8 455.5 467.9 480.5 467.9 460.6 468 455.1 468.1 461.7 468.1 459.1 468.2 462.4 468.2 444.6 468.3 442.6 468.3 435.4 468.4 472 468.4 432.9 468.5 446.9 468.6 460.7 468.6 456.7 468.7 478.9 468.7 445.1 468.8 441.2 468.8 443 468.9 456.7 469 448.3 469 455 469.1 465.4 469.1 449.5 469.2 464.3 469.2 436 469.3 458.9 469.3 479.5 469.4 482.2 469.5 460.1 469.5 495.7 469.6 446.1 469.6 448.6 469.7 454.7 469.7 457.2 469.8 471.4 469.8 454.7 469.9 438.6 470 466 470 445.6 470.1 477 470.1 445.1 470.2 448.5 470.2 442.2 470.3 448.8 470.4 461.4 470.4 447.4 470.5 438.7 470.5 460.8 470.6 467.6 470.6 441.1 470.7 453.7 470.7 439.5 470.8 435.8 470.8 397.5 470.9 451.7 470.9 448.2 471 476.3 471 435.5 471.1 463.5 471.1 467.5 471.2 453.4 471.2 456.8 471.3 446.6 471.4 446.8 471.4 438.9 471.5 479.4 471.5 436.9 471.6 442.2 471.6 467.1 471.7 455.1 471.7 457.4 471.8 448.5 471.9 443.1 471.9 470.6 472 441.7 472 448.6 472.1 468.4 472.1 448.7 472.2 484.3 472.2 443.7 472.3 458.1 472.3 458.6 472.4 456.9 472.5 469.4 472.5 438.5 472.6 458.9 472.6 470.1 472.7 438.9 472.7 459 472.8 454.4 472.8 453 472.9 458.6 473 462.6 473 466.2 473.1 478.7 473.1 464 473.2 519.5 473.2 464.4 473.3 447.5 473.3 442.6 473.4 439.7 473.5 447.5 473.5 441.5 473.6 465.3 473.6 561 473.6 465.6 473.7 462 473.7 452.1 473.8 455.4 473.8 447.1 473.9 480.7 473.9 435.8 474 449.6 474.1 460.2 474.1 443.9 474.2 474.3 474.2 456.1 474.3 451.6 474.3 439.4 474.4 448 474.4 461 474.5 448 474.6 438.4 474.6 460.5 474.7 448.9 474.7 473.5 474.8 465.7 474.8 467.1 474.9 477.9 474.9 471.1 475 450 475 460.1 475.1 447.1 475.2 444.8 475.2 445 475.3 441.3 475.3 446.3 475.4 445.8 475.4 464.8 475.5 446.8 475.5 438.6 475.6 453.7 475.6 444.8 475.7 465.6 475.8 445.6 475.8 459.5 475.9 443.8 475.9 456.2 476 475.6 476 448.9 476.1 458.2 476.1 454.4 476.2 439.7 476.2 436.3 476.3 473.1 476.4 450.5 476.4 465.5 476.5 453.4 476.5 472.7 476.6 444.6 476.6 456.3 476.7 459.2 476.7 470.4 476.8 437.1 476.8 451.4 476.9 455.9 477 461 477 442.5 477.1 458.9 477.1 465.8 477.2 467.6 477.2 445.8 477.3 454.5 477.3 448.8 477.4 452.4 477.4 451.4 477.5 483.5 477.5 435.7 477.6 483.7 477.7 437.4 477.7 440 477.8 445 477.8 448.3 477.9 474.7 477.9 473 478 482.4 478 452.5 478.1 435.9 478.1 462.7 478.2 478.9 478.3 441.2 478.3 472 478.4 432.4 478.4 467.6 478.5 456.7 478.5 479.8 478.6 476.4 478.6 438.7 478.7 456.9 478.7 446.5 478.8 454.5 478.8 439.6 478.9 451.3 479 453.3 479 433.3 479.1 455.9 479.1 478.4 479.2 439.4 479.2 483.5 479.3 456.6 479.3 445.3 479.4 490.9 479.4 455.9 479.5 454.4 479.5 452 479.6 477.1 479.7 442.1 479.7 445.3 479.8 448.2 479.8 439.5 479.9 473.4 479.9 456.5 480 461.4 480 476.6 480.1 456.2 480.1 447.6 480.2 457.4 480.2 455.9 480.3 448.1 480.3 445.5 480.4 329 480.4 450.1 480.5 464.8 480.5 443 480.6 501.5 480.6 445.5 480.7 446.8 480.7 441.5 480.8 451.1 480.8 450.4 480.9 462.4 480.9 474.2 481 445.9 481 467.6 481.1 448.1 481.1 451.7 481.2 441.7 481.3 473.9 481.3 450.5 481.4 463.2 481.4 437.1 481.5 463.1 481.5 445.2 481.6 453.3 481.6 462.1 481.7 443.2 481.7 456.2 481.8 468.9 481.8 442.9 481.9 453.9 481.9 443.7 482 442.2 482.1 454.7 482.1 453.5 482.2 460.9 482.2 470.9 482.3 463.5 482.3 449.2 482.4 454.6 482.4 462.2 482.5 469.2 482.5 462.5 482.6 455.2 482.6 441.9 482.7 471.8 482.7 447.2 482.8 451.7 482.9 473.3 482.9 444.5 483 475.9 483 445.3 483.1 440.4 483.1 455.7 483.2 467.2 483.2 451.6 483.3 469.6 483.3 451.4 483.4 468 483.4 441.2 483.5 447.3 483.5 441.6 483.6 464.9 483.6 454 483.7 461.5 483.8 445.7 483.8 464.7 483.9 496.5 483.9 440.1 484 448.6 484 472 484.1 470.4 484.1 472.2 484.2 445.3 484.2 457.7 484.3 440.3 484.3 452.7 484.4 458.3 484.4 446.4 484.5 452.3 484.5 450.3 484.6 440.3 484.6 439.8 484.7 466.6 484.8 433.8 484.8 490.8 484.9 474.5 484.9 491.2 485 466.8 485 433.7 485.1 441.4 485.1 448.6 485.2 443.7 485.2 439.5 485.3 476.3 485.3 475.7 485.4 466.1 485.4 446.3 485.5 470.5 485.5 468.2 485.6 448.8 485.6 441.8 485.7 442.1 485.8 451.9 485.8 468.8 485.9 440.1 485.9 452.7 486 450 486 474.1 486.1 442.7 486.1 461.6 486.2 448.8 486.2 461.2 486.3 468.4 486.3 468.5 486.4 469.9 486.4 447.7 486.5 447.1 486.5 441.7 486.6 446.4 486.6 441.6 486.7 466.8 486.7 439 486.8 444.1 486.9 467.1 486.9 466.2 487 486.8 487 451 487.1 438.8 487.1 467.9 487.2 447.5 487.2 466.4 487.3 436.7 487.3 438 487.4 459.3 487.4 462.8 487.5 457.8 487.5 456.6 487.6 459.2 487.6 442 487.7 439.7 487.7 449.8 487.8 457.2 487.8 446.2 487.9 443.7 487.9 453.3 488 452 488 446.9 488.1 477.3 488.2 478.7 488.2 439 488.3 454.6 488.3 445.8 488.4 449.4 488.4 437.5 488.5 440.3 488.5 437.9 488.6 441.8 488.6 461.4 488.7 440.2 488.7 473.7 488.8 467.7 488.8 447 488.9 463.1 488.9 480 489 441.5 489 457.8 489.1 454.1 489.1 448.5 489.2 447.7 489.2 440.5 489.3 461.3 489.3 444.4 489.4 452.5 489.4 477.5 489.5 449.8 489.6 448.7 489.6 477.9 489.7 458.8 489.7 458.2 489.8 445.3 489.8 461.1 489.9 451 489.9 457.1 490 451.6 490 440.3 490.1 473 490.1 463.2 490.2 482.1 490.2 448.4 490.3 447.5 490.3 442.2 490.4 448.3 490.4 449 490.5 443.9 490.5 446.9 490.6 447.9 490.6 471.2 490.7 453.4 490.7 468.5 490.8 439.3 490.8 444.1 490.9 480.4 490.9 439.3 491 440 491 456.1 491.1 447.8 491.1 444.3 491.2 459.8 491.2 459.9 491.3 444.1 491.4 457 491.4 453.8 491.5 470.2 491.5 440 491.6 445.7 491.6 458.1 491.7 438 491.7 470.2 491.8 485.4 491.8 449.2 491.9 466.7 491.9 446.3 492 479.4 492 445 492.1 434.9 492.1 440 492.2 453.9 492.2 438.4 492.3 489.3 492.3 460.8 492.4 458.3 492.4 460.6 492.5 452.5 492.5 473.8 492.6 464.2 492.6 452.9 492.7 447.6 492.7 442.6 492.8 448.8 492.8 450.1 492.9 440.4 492.9 477.3 493 446.7 493 457.1 493.1 439.9 493.1 457.6 493.2 461.5 493.2 440.4 493.3 487.9 493.3 443.3 493.4 446.9 493.4 465.2 493.5 449.6 493.5 473 493.6 446 493.6 448.7 493.7 463.4 493.7 471.6 493.8 473.7 493.9 447.8 493.9 456.8 494 452.3 494 462.7 494.1 445.6 494.1 469.7 494.2 464.3 494.2 443.7 494.3 448.8 494.3 449.6 494.4 477.9 494.4 453.9 494.5 460.3 494.5 477.9 494.6 451.8 494.6 479.3 494.7 448 494.7 436.4 494.8 441.2 494.8 463.4 494.9 451.2 494.9 469.2 495 456.9 495 463.2 495.1 450.2 495.1 459.1 495.2 463.7 495.2 451.1 495.3 455.2 495.3 470.2 495.4 477.8 495.4 450.1 495.5 440 495.5 470 495.6 453.6 495.6 485.9 495.7 466.3 495.7 450.8 495.8 470.8 495.8 457.5 495.9 464.3 495.9 473.9 496 458.9 496 479.5 496.1 451.9 496.1 451.2 496.2 461.3 496.2 452.1 496.3 464.1 496.3 456.9 496.4 465.5 496.4 469 496.5 458.4 496.5 476.6 496.6 467.1 496.6 471.4 496.7 437 496.7 436.7 496.8 461.1 496.8 449.5 496.9 472.9 496.9 451.7 497 465.6 497 446.4 497.1 460.9 497.1 475.4 497.2 471.9 497.2 450.8 497.3 455 497.3 457.1 497.4 450 497.4 455 497.5 484.5 497.5 473.5 497.6 448.9 497.6 463.2 497.7 479.7 497.7 450.6 497.8 470.7 497.8 467.9 497.9 474.1 497.9 440.7 498 477.4 498 489.8 498.1 446.3 498.1 461.1 498.2 440.9 498.2 459.9 498.3 464.2 498.3 465.8 498.4 471.5 498.4 448.2 498.5 441.8 498.5 468.7 498.6 437.6 498.6 446 498.7 446.1 498.7 467 498.8 453.6 498.8 469.8 498.9 462.6 498.9 470.2 499 467.4 499 473.6 499.1 447.5 499.1 450.4 499.2 461 499.2 459.1 499.3 467.1 499.3 468.4 499.4 448.6 499.4 442 499.5 465.6 499.5 463.4 499.6 447.6 499.6 439.8 499.7 437.4 499.7 446.6 499.8 447.5 499.8 445.1 499.9 439.6 499.9 443.7 500 450.3 500 418 500 441 500.1 445.1 500.1 453.5 500.2 470.8 500.2 472.9 500.3 452.3 500.3 442.2 500.4 447.3 500.4 462.9 500.5 452.4 500.5 458.6 500.6 465.5 500.6 462.3 500.7 471.8 500.7 440.8 500.8 448.4 500.8 438.3 500.9 456.6 500.9 460.5 501 446.8 501 439.8 501.1 454.4 501.1 443.7 501.2 444.7 501.2 451.4 501.3 479.5 501.3 450.7 501.4 464.4 501.4 451.1 501.5 452.3 501.5 442.7 501.5 444.3 501.6 466.9 501.6 453.2 501.7 448 501.7 492 501.8 473.5 501.8 447.2 501.9 453.4 501.9 458.5 502 443.6 502 453.1 502.1 447.9 502.1 468.6 502.2 441.2 502.2 495.3 502.3 446.2 502.3 449.7 502.4 440.5 502.4 476.7 502.5 469.3 502.5 440.3 502.6 457 502.6 451.8 502.7 460.2 502.7 449.8 502.8 482.1 502.8 445.6 502.9 469 502.9 447.4 503 462 503 453.2 503.1 456.9 503.1 456.7 503.2 461 503.2 440.3 503.3 440 503.3 486.8 503.4 446.9 503.4 450.6 503.5 446.4 503.5 461.8 503.6 491.1 503.6 452.3 503.7 449.3 503.7 450.4 503.8 437.8 503.8 441.1 503.9 439.5 503.9 491.2 504 442.8 504 457.9 504.1 445.2 504.1 438.6 504.2 469.9 504.2 442.4 504.3 442.6 504.3 469 504.4 446.5 504.4 444.9 504.5 479.5 504.5 444.8 504.6 469.6 504.6 448.8 504.7 458.6 504.7 449 504.8 450 504.8 478.6 504.9 476.3 504.9 444.1 505 465.2 505 442.8 505.1 448.6 505.1 440.4 505.2 462 505.2 465.2 505.3 466.1 505.3 467.2 505.4 452.1 505.4 444.2 505.5 434.8 505.5 453.7 505.6 478.7 505.6 454 505.7 460.7 505.7 477.2 505.7 472.3 505.8 465.8 505.8 459.7 505.9 446.2 505.9 466.2 506 452.9 506 464.4 506.1 445.9 506.1 479.4 506.2 443.7 506.2 467.9 506.3 474.8 506.3 443.3 506.4 472.6 506.4 461.9 506.5 460.2 506.5 447 506.6 449.7 506.6 446.3 506.7 453.8 506.7 462.1 506.8 465.4 506.8 464.5 506.9 450.4 506.9 450 507 466.8 507 488 507.1 445.8 507.1 452.8 507.1 447.8 507.2 488.2 507.2 437.1 507.3 475.1 507.3 467 507.4 449.9 507.4 463.4 507.5 451.2 507.5 461.6 507.6 453.3 507.6 477.1 507.7 454.4 507.7 468.9 507.8 459.1 507.8 451.3 507.9 485.7 507.9 444.9 508 476.5 508 490.4 508.1 471.2 508.1 460.6 508.2 461.1 508.2 478.4 508.3 453.6 508.3 469.4 508.3 467.4 508.4 472.1 508.4 453.9 508.5 462.3 508.5 441.3 508.6 440.6 508.6 441.8 508.7 465.8 508.7 450.7 508.8 476.6 508.8 440.8 508.9 444.1 508.9 470.1 509 453.1 509 445.8 509.1 467.7 509.1 446.4 509.2 488 509.2 447.8 509.3 472.1 509.3 455.3 509.4 479 509.4 448.6 509.4 478.1 509.5 448.9 509.5 454.2 509.6 461.5 509.6 458.3 509.7 463.1 509.7 464.2 509.8 447.6 509.8 436.2 509.9 465.3 509.9 460.2 510 458.7 510 455.9 510.1 478.5 510.1 448.7 510.2 477 510.2 444 510.3 464.1 510.3 479.6 510.4 443.5 510.4 467.3 510.4 447.8 510.5 440.2 510.5 453.6 510.6 464.3 510.6 448.2 510.7 480.5 510.7 434.3 510.8 447.6 510.8 450.3 510.9 451.4 510.9 448.8 511 437.6 511 445.5 511.1 447.4 511.1 463.3 511.2 451.6 511.2 465.3 511.3 454 511.3 443.7 511.4 446.2 511.4 476.1 511.5 454.5 511.5 449.3 511.6 445.8 511.6 473.8 511.7 464.6 511.7 464.2 511.8 468.7 511.8 446.7 511.9 465.7 511.9 440.7 512 463 512 420 512 449.7 512.1 462.8 512.1 446.2 512.2 450.8 512.2 479.6 512.3 450.3 512.3 444.1 512.4 442.5 512.4 463.3 512.5 475.5 512.5 437.3 512.6 450.5 512.6 444.1 512.7 482 512.7 442.8 512.8 440.6 512.8 467.3 512.9 512.8 512.9 467.5 513 442.2 513 457 513.1 475.9 513.1 466.7 513.2 440.3 513.2 454.5 513.3 467.7 513.3 458 513.4 463.1 513.4 486.2 513.5 489.9 513.5 470.3 513.6 459.2 513.6 449.2 513.7 443.8 513.7 444.1 513.8 462 513.8 472.3 513.9 477.3 513.9 448.5 514 450.2 514 445.1 514.1 458 514.1 480.3 514.2 466.9 514.2 453.9 514.3 443.8 514.3 470.9 514.4 475.7 514.4 467.3 514.5 448.6 514.5 459.7 514.6 477.7 514.6 446.8 514.7 453.3 514.7 440.4 514.8 434.6 514.8 446.9 514.9 469.1 514.9 463.5 515 455.4 515 453 515.1 447.7 515.1 467.3 515.2 455.8 515.2 461.5 515.2 440.7 515.2 461.5 515.3 498.8 515.3 440.8 515.4 505.2 515.4 441.7 515.5 449.2 515.5 489.3 515.6 487.8 515.6 444.7 515.7 465.4 515.7 461 515.8 452.6 515.8 468 515.9 461.9 515.9 446.2 515.9 455.9 516 465 516 461.3 516.1 458.1 516.1 466.1 516.2 443 516.2 439.5 516.3 438.6 516.3 461.3 516.4 453.9 516.4 470.4 516.5 487.7 516.5 442.2 516.6 451.9 516.6 458.2 516.7 477 516.7 460.5 516.8 449.2 516.8 463.1 516.9 450.1 516.9 458.6 517 441.8 517 459 517.1 455.5 517.1 462.4 517.2 459.1 517.2 466.2 517.3 443 517.3 466.8 517.4 461.5 517.4 464.2 517.5 452.7 517.5 441.3 517.6 478.2 517.6 469.9 517.7 489.2 517.7 454.9 517.8 474.9 517.8 458.4 517.9 476.3 517.9 469.4 518 441.9 518 443 518.1 453 518.1 457.7 518.2 462.7 518.2 459 518.3 474.1 518.3 468.9 518.4 441.9 518.4 475.2 518.5 467 518.5 437.3 518.6 461.6 518.6 442.8 518.7 456.5 518.7 500.6 518.8 441 518.8 469.8 518.9 455.8 518.9 490.2 519 472.6 519 440.6 519 462.4 519.1 472.7 519.1 448.3 519.2 464.9 519.2 447.4 519.3 445.6 519.3 450.3 519.4 448.8 519.4 484.9 519.5 446.7 519.5 455.9 519.6 464.4 519.6 487.4 519.7 461.2 519.7 472.7 519.8 443 519.8 463.1 519.9 444.4 519.9 473.7 520 460.4 520 443.2 520.1 471.8 520.1 455.9 520.2 441.2 520.2 477 520.3 457 520.3 473.1 520.4 441 520.4 463.9 520.5 451.9 520.5 458 520.6 461.6 520.6 478.5 520.7 444.2 520.7 472.7 520.8 442.5 520.8 437 520.9 449.2 520.9 448.6 521 467.7 521 459 521.1 452.4 521.1 479.6 521.2 462.4 521.2 462.8 521.3 472.9 521.3 448.9 521.4 503.6 521.4 444.6 521.5 439.8 521.5 469.9 521.6 444.6 521.6 457 521.7 442.3 521.7 453.7 521.8 451.1 521.8 441.5 521.9 460.8 521.9 454.7 522 444 522 468.5 522.1 453.2 522.1 438.2 522.1 474.6 522.2 453.2 522.2 441.7 522.3 448.8 522.3 447.5 522.4 439.7 522.4 450.3 522.5 444.4 522.5 446 522.6 463.8 522.6 437.9 522.7 444.7 522.7 449 522.8 444.3 522.8 460.6 522.9 474.6 522.9 470.3 523 455.5 523 468.4 523.1 468.6 523.1 469.1 523.1 462.2 523.1 469.1 523.2 452.1 523.2 466.9 523.3 457.5 523.3 466.5 523.4 466.5 523.4 440.8 523.5 470.5 523.5 439.1 523.5 453.9 523.6 460.4 523.6 470 523.7 440.5 523.7 463.7 523.8 450.9 523.8 439.5 523.9 450.4 523.9 462.4 524 441.4 524 439.7 524 471.8 524 439.7 524.1 447 524.1 450.3 524.2 440.8 524.2 478.8 524.3 486.4 524.3 477 524.4 445.5 524.4 470.5 524.4 450.6 524.5 448.8 524.5 464.5 524.6 441.5 524.6 435.6 524.7 479.4 524.7 451.2 524.8 468.9 524.8 453.9 524.9 441.8 524.9 455.7 524.9 444.5 525 441.4 525 437.8 525.1 453 525.1 447.8 525.2 450.6 525.2 484.9 525.3 470.3 525.3 447.2 525.4 467 525.4 464.9 525.5 457.8 525.5 447 525.6 445.9 525.6 453.7 525.7 448.4 525.7 475.2 525.7 455.4 525.8 464 525.8 476.3 525.9 461.7 525.9 444.2 526 450 526 478.7 526.1 440 526.1 446.4 526.2 461.6 526.2 472.4 526.2 470 526.3 466.3 526.3 465.1 526.4 452 526.4 440.7 526.5 462.3 526.5 441.1 526.6 469.1 526.6 438.3 526.7 515.3 526.7 444.5 526.8 460.1 526.8 440.8 526.9 491.3 526.9 437.6 527 464.5 527 471.5 527 449.2 527.1 436.4 527.1 439.3 527.2 440.7 527.2 467.3 527.3 457.9 527.3 476.3 527.4 462.2 527.4 445.7 527.5 446.5 527.5 490.6 527.6 482 527.6 454.4 527.7 469 527.7 465.9 527.8 448.5 527.8 445.7 527.8 467.1 527.9 485.4 527.9 492.2 528 451.5 528 440.9 528.1 450.1 528.1 441.1 528.2 493.6 528.2 449.6 528.2 471.9 528.3 447.4 528.3 484.5 528.3 393.5 528.3 484.5 528.4 456.3 528.4 470.7 528.5 460.9 528.5 467.8 528.6 441.2 528.6 451.5 528.7 474.7 528.7 477.6 528.8 465.5 528.8 460.9 528.9 440.3 528.9 479.3 528.9 463.4 529 461.6 529 471.5 529.1 447.1 529.1 461.8 529.2 464.4 529.2 467.5 529.3 442 529.3 477 529.4 462.1 529.4 444.6 529.5 478.5 529.5 442.3 529.6 446.9 529.6 472.7 529.7 460.5 529.7 469.5 529.7 450.7 529.7 469.5 529.8 462.9 529.8 442.8 529.9 446.9 529.9 469.8 530 469.8 530 441.3 530.1 457.7 530.1 450.4 530.1 465.7 530.1 450.4 530.2 440.9 530.2 453.8 530.3 480 530.3 466.4 530.4 446.3 530.4 471.8 530.4 463.8 530.5 449.1 530.5 448.3 530.6 444.9 530.6 453.3 530.7 451.7 530.7 448.9 530.8 474.4 530.8 456.6 530.9 485.6 530.9 464.1 531 482 531 470.4 531.1 462.5 531.1 468.3 531.2 467.6 531.2 474.4 531.3 451 531.3 451.8 531.4 447.5 531.4 478.8 531.5 477.2 531.5 453.2 531.6 443.4 531.6 489.7 531.7 464 531.7 485.9 531.8 462.4 531.8 467.3 531.8 457.5 531.8 467.3 531.9 475.7 531.9 471.8 532 451.2 532 457.2 532.1 481 532.1 457.1 532.2 469.5 532.2 470.8 532.2 457.9 532.2 470.8 532.3 441.2 532.3 433.8 532.4 441.9 532.4 454.5 532.5 452 532.5 506 532.6 443.5 532.6 470.9 532.7 457.3 532.7 471.6 532.8 452.1 532.8 468.3 532.8 435.6 532.9 455.7 532.9 450.7 533 447.8 533 449.6 533.1 453.9 533.1 456.8 533.2 458 533.2 470.6 533.3 485.3 533.3 464 533.4 448 533.4 460.2 533.5 454.7 533.5 447.2 533.5 450.8 533.6 446.9 533.6 458.6 533.7 441.1 533.7 458.7 533.8 453.7 533.8 436.2 533.8 448.7 533.9 488.4 533.9 460.3 534 441.1 534 460.2 534.1 465.5 534.1 443.5 534.1 453.4 534.2 446.4 534.2 458.7 534.3 470.4 534.3 447.4 534.4 443.7 534.4 443.7 534.5 461.7 534.5 441.3 534.5 458.1 534.6 469.9 534.6 468.1 534.7 464.1 534.7 437.4 534.8 454.5 534.8 457.6 534.8 447.5 534.8 457.6 534.9 444.2 534.9 443.6 535 482 535 475.2 535.1 442.3 535.1 441.2 535.1 470.7 535.1 441.2 535.2 451 535.2 501.2 535.3 480.7 535.3 455.8 535.4 465.4 535.4 474.4 535.4 452.7 535.4 474.4 535.5 452.1 535.5 309 535.5 448.5 535.6 446.5 535.6 470.3 535.7 467.9 535.7 448.6 535.7 493.2 535.7 448.6 535.8 483.1 535.8 498.3 535.9 479.9 535.9 447.1 536 448.9 536 445.8 536 457.8 536.1 480.6 536.1 448.5 536.2 463.5 536.2 443.4 536.3 476 536.3 482.5 536.3 446.3 536.3 482.5 536.4 472.4 536.4 450.7 536.5 477.2 536.5 458.6 536.6 467.4 536.6 469.2 536.6 454.8 536.7 462 536.7 482.1 536.8 488.6 536.8 486.7 536.9 469.9 536.9 489.6 536.9 448.4 537 514 537 443.6 537.1 492.9 537.1 482.5 537.2 460.7 537.2 502.5 537.3 449.5 537.3 474.5 537.4 437.4 537.4 475.4 537.5 444.7 537.5 441.6 537.5 475.6 537.5 441.6 537.6 461.4 537.6 489 537.7 456.6 537.7 507.6 537.8 464.7 537.8 450.4 537.8 497.5 537.9 449.1 537.9 471.5 538 498.3 538 498 538.1 469.3 538.1 451.9 538.1 466.2 538.2 455.9 538.2 457 538.3 457.2 538.3 451.4 538.4 443 538.4 440.1 538.4 480.3 538.4 440.1 538.5 470.3 538.5 459.6 538.6 474.6 538.6 470.8 538.7 465.2 538.7 481.8 538.7 470.3 538.8 492.9 538.8 471 538.9 490.2 538.9 477.9 539 457.8 539 465.6 539.1 445.6 539.1 478.9 539.2 474.5 539.2 484.1 539.2 445.9 539.3 448 539.3 474.5 539.4 479.3 539.4 445.4 539.5 442.2 539.5 458.4 539.6 444.4 539.6 446.6 539.7 451.7 539.7 440.4 539.8 448.9 539.8 441.6 539.8 459.9 539.9 480.3 539.9 475.4 540 472.2 540 450.9 540.1 444.2 540.1 450.8 540.2 499 540.2 484 540.3 470.3 540.3 480.1 540.4 484.4 540.4 453.6 540.5 483.3 540.5 474.7 540.6 455.4 540.6 455.9 540.6 450.1 540.7 469.1 540.7 507.6 540.8 482.7 540.8 447.7 540.9 455.6 540.9 449.8 541 448.8 541 479.4 541.1 457.2 541.1 470.1 541.1 457.3 541.2 514.7 541.2 471.6 541.3 448.7 541.3 482 541.4 456 541.4 455.9 541.4 464.2 541.4 455.9 541.5 465.9 541.5 456.9 541.6 457.6 541.6 449.5 541.6 503.9 541.7 452 541.7 455.7 541.8 462 541.8 447.7 541.9 453.1 541.9 471.2 542 468.5 542 460 542.1 476.4 542.1 480.3 542.2 454.9 542.2 453.6 542.2 473.6 542.3 462.1 542.3 485.1 542.4 440 542.4 468.9 542.4 459 542.5 452.3 542.5 489.5 542.6 452.5 542.6 482.7 542.7 487.8 542.7 507.2 542.7 447.7 542.8 449.6 542.8 446.2 542.9 457.7 542.9 494.3 542.9 474.6 543 449.5 543 447.2 543.1 480.6 543.1 473.5 543.2 437.1 543.2 471.5 543.2 451.3 543.3 456.4 543.3 447 543.4 520.3 543.4 464.5 543.4 473.2 543.5 452 543.5 460.4 543.6 474.9 543.6 480.5 543.7 494.4 543.7 453.8 543.8 461.8 543.8 457.2 543.9 484.6 543.9 460.3 543.9 460.4 544 466.8 544 470.2 544.1 459.4 544.1 439.7 544.2 479.9 544.2 487.9 544.2 447.7 544.2 487.9 544.3 454.2 544.3 454.6 544.4 468.7 544.4 460.8 544.4 494.5 544.4 460.8 544.5 465.7 544.5 462.5 544.6 447.6 544.6 456.2 544.7 495.6 544.7 498.4 544.7 454.6 544.8 496.1 544.8 441 544.9 479 544.9 442.1 544.9 463.1 545 462.4 545 463.5 545.1 498.7 545.1 459.4 545.2 441.2 545.2 480.7 545.3 448.5 545.3 445.2 545.4 451.7 545.4 512 545.4 464 545.5 449.4 545.5 475.7 545.6 460.7 545.6 530.6 545.7 478 545.7 468.8 545.8 537.8 545.8 467.1 545.9 464.5 545.9 503.4 546 479.1 546 460.1 546.1 462 546.1 440 546.1 453.9 546.2 482.4 546.2 466.3 546.3 488.4 546.3 470.6 546.4 484 546.4 466.7 546.5 476.2 546.5 466.4 546.6 459.6 546.6 445.9 546.6 481.7 546.6 445.9 546.7 511.8 546.7 504.6 546.8 485.4 546.8 464.4 546.9 462.1 546.9 464.9 547 453.1 547 491.5 547.1 466.9 547.1 488 547.2 456.6 547.2 488.8 547.3 510.2 547.3 476.5 547.3 505.6 547.4 479.6 547.4 477.8 547.5 465.6 547.5 445.4 547.5 448.5 547.6 485.3 547.6 451.2 547.7 477.4 547.7 481.3 547.7 450.1 547.7 481.3 547.8 502.5 547.8 473.6 547.9 443.7 547.9 480.3 548 465.8 548 449.6 548 489.7 548 449.6 548.1 456.1 548.1 496.2 548.2 486.2 548.2 495 548.2 468.2 548.3 476.8 548.3 489.9 548.4 453.5 548.4 405.8 548.5 386.3 548.5 280 548.5 379.3 548.6 364.9 548.6 358.8 548.6 363.4 548.7 368.8 548.7 364.2 548.8 363 548.8 377.2 548.9 382.7 548.9 367.9 549 376.7 549 378.9 549.1 379.3 549.1 376.9 549.1 389.2 549.2 384.5 549.2 379.8 549.3 384.4 549.3 390.1 549.3 384.5 549.4 392.5 549.4 386.3 549.5 389.7 549.5 387.9 549.6 399 549.6 392.1 549.7 398.2 549.7 401.8 549.7 394 549.8 390.8 549.8 398.6 549.9 396.1 549.9 405.7 549.9 397 550 404.7 550 396.3 550.1 399.7 550.1 399.1 550.2 407.8 550.2 404.4 550.2 405.4 550.3 398.6 550.3 401.5 550.4 410.1 550.4 405.7 550.4 407.8 550.5 404.6 550.5 401.4 550.6 411.8 550.6 401.6 550.7 407.7 550.7 401.1 550.8 409.7 550.8 405.2 550.9 407 550.9 406.9 551 402.3 551 406 551.1 401.3 551.1 404.5 551.2 406.8 551.2 410.3 551.2 409.1 551.3 405.2 551.3 412.8 551.4 413.4 551.4 411.9 551.4 412.5 551.5 407.3 551.5 415 551.6 411.8 551.6 413.5 551.6 407 551.6 413.5 551.7 413 551.7 412.4 551.8 411.4 551.8 415.5 551.9 415.2 551.9 407.6 552 409.7 552 423.9 552.1 411.9 552.1 414.9 552.1 408.9 552.2 414.2 552.2 414.8 552.3 416.9 552.3 413 552.3 423.3 552.3 413 552.4 411.4 552.4 409.6 552.5 411.7 552.5 423.2 552.6 414 552.6 416.3 552.7 417.1 552.7 407.8 552.7 411 552.8 414.7 552.8 409.1 552.9 410.2 552.9 417.7 552.9 416.7 553 410.2 553 410 553.1 419.3 553.1 412.5 553.2 417.7 553.2 417.1 553.3 429.2 553.3 410.3 553.3 418.6 553.4 414.6 553.4 412.1 553.5 415.2 553.5 409.2 553.5 410.9 553.6 410.8 553.6 418 553.7 418.3 553.7 412.5 553.7 413.3 553.8 419.3 553.8 414.4 553.9 414 553.9 423.6 553.9 416.5 554 416.5 554 417.5 554.1 410.6 554.1 420.1 554.2 418.3 554.2 422.5 554.3 414.1 554.3 413.4 554.3 416.2 554.3 413.4 554.4 412.8 554.4 411.8 554.5 413.1 554.5 412.8 554.5 416.1 554.6 415.8 554.6 420.5 554.7 420.7 554.7 417.6 554.7 419.2 554.8 416.8 554.8 415 554.9 417.3 554.9 425.8 555 421.7 555 412.4 555.1 419.5 555.1 412.8 555.1 419.3 555.2 422.7 555.2 420.5 555.3 413.4 555.3 417 555.3 414.4 555.4 420.2 555.4 421 555.5 421.4 555.5 416.5 555.5 419.6 555.6 414.9 555.6 425.7 555.7 426 555.7 412.7 555.7 419.5 555.8 421.6 555.8 413 555.9 411.7 555.9 421.7 556 412.7 556 461 556 423.1 556.1 413.8 556.1 421.9 556.2 418.3 556.2 417.8 556.2 419 556.3 417.4 556.3 424.5 556.4 421.5 556.4 414.8 556.5 419.4 556.5 437.9 556.6 425.6 556.6 414.3 556.6 417.7 556.7 419.1 556.7 418.4 556.8 414.9 556.8 420 556.9 422.6 556.9 422.5 557 422 557 422 557 413.2 557.1 416.4 557.1 417.8 557.2 416.9 557.2 418.6 557.3 417.9 557.3 413.5 557.4 425.3 557.4 428.6 557.4 421.5 557.5 417.3 557.5 419.4 557.6 426.9 557.6 421.4 557.6 422.7 557.7 422.8 557.7 422.3 557.7 431.4 557.7 422.3 557.8 415.6 557.8 420.3 557.9 427.4 557.9 415 558 415 558 415.3 558.1 416.4 558.1 424.1 558.1 421.8 558.2 423.6 558.2 421.2 558.3 418.8 558.3 416.6 558.3 424.4 558.3 416.6 558.4 418.9 558.4 419.6 558.5 423.1 558.5 424.2 558.5 421.6 558.6 422.2 558.6 418.1 558.7 422 558.7 420.1 558.7 425.6 558.7 420.1 558.8 424.3 558.8 421 558.8 421.1 558.9 422.4 558.9 416.7 559 417.6 559 417.1 559 421.5 559.1 423.3 559.1 423.9 559.2 417.6 559.2 416.9 559.2 419.1 559.2 416.9 559.3 423.3 559.3 420.3 559.4 418.5 559.4 418 559.4 429.2 559.5 421.1 559.5 434.2 559.6 419.2 559.6 418 559.6 424.3 559.7 428.3 559.7 417.4 559.7 426.9 559.8 422.7 559.8 428.2 559.9 429.5 559.9 420.7 559.9 429.4 560 417.8 560 421 560.1 421 560.1 421.6 560.1 418.7 560.1 421.6 560.2 425.2 560.2 417.1 560.3 421.6 560.3 422.2 560.3 418.2 560.4 423.8 560.4 419 560.4 422.9 560.5 423 560.5 425.4 560.6 429.6 560.6 422.1 560.7 419.3 560.7 419.1 560.8 426.1 560.8 426.2 560.8 425.7 560.8 426.2 560.9 426.8 560.9 423.2 561 428.7 561 424.1 561.1 427 561.1 424.5 561.2 426.1 561.2 429.9 561.2 421.2 561.3 425.9 561.3 420.1 561.3 422.4 561.4 428.3 561.4 433.1 561.5 430.6 561.5 426.2 561.5 427.7 561.6 428.8 561.6 424.2 561.7 419.7 561.7 416.6 561.7 426.4 561.8 426.4 561.8 424 561.9 425.1 561.9 425.9 562 423.4 562 425.2 562 419.7 562.1 423.4 562.1 424.7 562.2 423.9 562.2 418.4 562.3 425 562.3 418.2 562.4 426.8 562.4 419 562.4 426.5 562.5 421 562.5 419.4 562.5 429.3 562.5 419.4 562.6 418.6 562.6 425.1 562.7 426.4 562.7 420.8 562.7 422.3 562.8 424.8 562.8 420.1 562.9 421.2 562.9 420.2 562.9 423.5 562.9 420.2 563 418.3 563 418 563 429.3 563 418 563.1 434.5 563.1 427.3 563.2 421.8 563.2 417.2 563.2 427.8 563.2 417.2 563.3 423.2 563.3 420.6 563.4 419.9 563.4 416.6 563.4 428.7 563.4 416.6 563.5 427.7 563.5 417.2 563.5 424.7 563.6 419.6 563.6 422.6 563.7 429.5 563.7 417.3 563.8 419.8 563.8 421.9 563.9 425 563.9 427.5 563.9 415.2 563.9 427.5 564 426.8 564 430.7 564 418.4 564.1 418.5 564.1 426.5 564.2 422.1 564.2 415.6 564.3 418.4 564.3 424.2 564.4 425 564.4 428.9 564.4 420 564.4 428.9 564.5 421.9 564.5 422 564.5 420.5 564.6 420.5 564.6 420 564.7 426.1 564.7 418.4 564.8 420.8 564.8 428.9 564.9 423.5 564.9 416.8 564.9 420.6 565 421.1 565 415.1 565 430.8 565.1 428.5 565.1 416.7 565.2 422.1 565.2 417.9 565.3 418.6 565.3 416 565.3 423.9 565.4 419.7 565.4 424 565.5 425.6 565.5 419.3 565.6 416.9 565.6 423.3 565.7 423.6 565.7 425 565.7 416.8 565.8 415.6 565.8 427.1 565.8 422.5 565.9 416.2 565.9 423.9 566 415.7 566 422.8 566 421.7 566.1 423.9 566.1 416.1 566.2 427.8 566.2 432.7 566.3 424.5 566.3 418.6 566.3 432 566.4 422.4 566.4 423.8 566.5 423 566.5 425.9 566.5 417.2 566.5 425.9 566.6 422.7 566.6 417.3 566.6 419.2 566.7 416.3 566.7 419.8 566.8 433 566.8 419.2 566.8 419.3 566.9 424.7 566.9 415.5 566.9 415.9 567 423.9 567 416 567.1 422 567.1 421.3 567.1 424.8 567.1 421.3 567.2 415.4 567.2 416.8 567.3 420.9 567.3 428.9 567.3 422.5 567.4 423 567.4 418.2 567.5 421.7 567.5 413.7 567.6 419.2 567.6 416.6 567.6 424.5 567.6 416.6 567.7 422.2 567.7 423.2 567.7 416 567.8 425.4 567.8 417 567.9 429.6 567.9 418.2 567.9 421.6 568 428.1 568 419.8 568.1 416.2 568.1 421.4 568.2 421 568.2 414.5 568.2 418.3 568.3 426.9 568.3 419.9 568.4 415.6 568.4 421.5 568.4 418.9 568.5 426.4 568.5 413.2 568.6 415.1 568.6 415.2 568.7 427.4 568.7 417.2 568.8 429.9 568.8 415.3 568.8 420.6 568.9 426.9 568.9 425.7 569 414.6 569 418.3 569 415.6 569.1 421.3 569.1 414.5 569.2 415.6 569.2 413.9 569.3 421.3 569.3 415.6 569.3 417 569.4 415.4 569.4 416.7 569.4 415.7 569.5 416.2 569.5 420.9 569.6 413.9 569.6 420.5 569.6 416 569.7 412.9 569.7 424.3 569.8 412 569.8 414.8 569.9 423.1 569.9 412.4 569.9 413.9 570 414.5 570 412.6 570 451 570 412.6 570.1 425.2 570.1 412.6 570.2 418 570.2 417.8 570.2 420.9 570.2 417.8 570.3 417.1 570.3 413.8 570.4 430.7 570.4 415.6 570.5 418.7 570.5 417.8 570.5 426.1 570.6 413.4 570.6 412.3 570.6 423.1 570.7 416.6 570.7 418.3 570.8 418.1 570.8 421 570.9 419 570.9 420.8 570.9 409.1 570.9 420.8 571 410.4 571 421.3 571.1 408.2 571.1 419.7 571.1 417.8 571.2 409.7 571.2 419.3 571.2 416.8 571.3 411 571.3 421.5 571.4 416.8 571.4 415 571.4 423.5 571.5 411.7 571.5 411.4 571.5 421.7 571.6 411.1 571.6 419.6 571.7 411.6 571.7 419.4 571.7 413.9 571.8 416.6 571.8 413.6 571.9 415.1 571.9 416.9 571.9 410.3 572 421.8 572 419.1 572.1 411 572.1 413.2 572.2 418.2 572.2 412.1 572.3 418 572.3 410.5 572.4 417.1 572.4 417.7 572.4 409.2 572.5 415 572.5 424.5 572.6 411.4 572.6 413.4 572.7 421.6 572.7 409.2 572.7 420.3 572.8 412 572.8 411.7 572.8 428.9 572.9 412.1 572.9 410.3 573 409.8 573 416.1 573 415.2 573.1 410 573.1 413.1 573.1 410.5 573.2 417.9 573.2 411.3 573.2 414.6 573.3 420 573.3 409.7 573.4 421.3 573.4 412.6 573.4 414.7 573.5 409.9 573.5 415.7 573.6 413.8 573.6 418.1 573.7 412.1 573.7 406 573.7 419.5 573.8 413.3 573.8 413.9 573.8 413.6 573.9 406.4 573.9 409.5 574 407.1 574 417.3 574.1 414.1 574.1 416.2 574.1 409.7 574.2 405.7 574.2 410.5 574.2 407.4 574.3 409 574.3 408.1 574.4 407.3 574.4 413.8 574.4 412.5 574.5 415.6 574.5 423 574.5 407.7 574.6 418.7 574.6 414.5 574.7 411.6 574.7 410.7 574.7 421.3 574.7 410.7 574.8 404.4 574.8 408 574.9 413 574.9 411.1 574.9 412.7 575 403.7 575 406.8 575.1 410.7 575.1 412 575.1 408.9 575.2 406.2 575.2 413.2 575.3 412.5 575.3 417.6 575.3 406.2 575.3 417.6 575.4 403.6 575.4 405.9 575.5 408.3 575.5 413.3 575.5 409.8 575.6 411.3 575.6 407.1 575.6 417.2 575.6 407.1 575.7 404.7 575.7 407.4 575.8 409.4 575.8 402.5 575.9 411.4 575.9 420.7 575.9 415.8 576 406.5 576 412.5 576.1 419.9 576.1 406 576.2 416.1 576.2 403.2 576.3 406.9 576.3 400.1 576.3 406.2 576.4 407.6 576.4 405 576.4 411.4 576.4 405 576.5 409.1 576.5 409.2 576.6 407.2 576.6 406.2 576.6 408.4 576.6 406.2 576.7 408.2 576.7 406.1 576.7 413.6 576.8 401.7 576.8 412 576.9 409.7 576.9 399.6 576.9 409.2 577 404.4 577 406.2 577.1 409.2 577.1 405.6 577.1 407.6 577.2 402.2 577.2 400.3 577.3 407.9 577.3 400.2 577.3 417.9 577.3 400.2 577.4 412.3 577.4 403.8 577.4 407.3 577.5 402.2 577.5 407.7 577.5 404.1 577.6 409 577.6 402 577.7 402.6 577.7 399.7 577.7 406.4 577.7 399.7 577.8 415.5 577.8 405.9 577.8 415.1 577.9 400.3 577.9 407.1 577.9 400.4 578 398.9 578 403.3 578.1 403.5 578.1 403.3 578.1 404.6 578.1 403.3 578.2 399.9 578.2 406.2 578.2 400.6 578.3 400.9 578.3 407.4 578.3 405.9 578.4 406.4 578.4 410.6 578.5 408.4 578.5 414.1 578.5 399.5 578.5 414.1 578.6 403.2 578.6 403.6 578.6 400 578.7 401.3 578.7 403.4 578.7 396.5 578.8 405.5 578.8 400.5 578.9 405 578.9 405.5 578.9 403.8 579 396.8 579 402.9 579 400.1 579.1 404.9 579.1 401.8 579.2 404.9 579.2 406 579.2 397.1 579.2 406 579.3 411.9 579.3 408.1 579.4 405.7 579.4 408.9 579.4 400 579.4 408.9 579.5 401.9 579.5 397.4 579.5 401.5 579.6 406.1 579.6 403.3 579.6 405.4 579.7 394.7 579.7 411.1 579.8 408 579.8 400.5 579.8 407.8 579.9 396.3 579.9 396 579.9 398.5 579.9 396 580 402.5 580 407.6 580.1 394.6 580.1 403.5 580.2 400.4 580.2 396 580.2 405.9 580.3 399.6 580.3 393.3 580.3 397.5 580.4 401.5 580.4 404.1 580.4 394.9 580.5 399.9 580.5 405.5 580.5 393.4 580.5 405.5 580.6 391.6 580.6 408.8 580.7 399 580.7 401.5 580.7 400.2 580.8 397.8 580.8 393.8 580.9 394.7 580.9 392.3 580.9 394.3 581 399.2 581 397.7 581 433 581 397.8 581.1 397.2 581.1 404.8 581.2 401.8 581.2 393.5 581.2 397.1 581.3 406.6 581.3 393.2 581.3 398.8 581.4 398 581.4 398.2 581.4 396.5 581.5 399 581.5 393.9 581.6 403.3 581.6 393.1 581.7 397 581.7 402.2 581.8 396.6 581.8 392.6 581.9 393.4 581.9 391.6 581.9 395.9 582 399.7 582 395.3 582.1 390.1 582.1 387.8 582.1 399.7 582.2 391 582.2 401.5 582.3 401.2 582.3 393.9 582.3 400.2 582.4 391.7 582.4 400.8 582.4 395.2 582.5 387.3 582.5 396.9 582.6 388.1 582.6 386.5 582.6 409 582.6 386.5 582.7 395.7 582.7 387.6 582.7 392.4 582.8 390.1 582.8 388.6 582.8 397.6 582.8 388.6 582.9 394.5 582.9 399.3 582.9 385.8 583 394.1 583 385.8 583.1 394.8 583.1 396.2 583.1 386.1 583.2 396.8 583.2 387.9 583.3 400.3 583.3 386.3 583.4 387.7 583.4 401.9 583.5 389 583.5 389.4 583.6 390.7 583.6 394.2 583.6 382.3 583.7 393.2 583.7 387.6 583.7 399.8 583.7 387.6 583.8 387.9 583.8 387.3 583.8 397.8 583.8 387.3 583.9 386.8 583.9 393.8 583.9 387.8 584 390.2 584 390.3 584 385.2 584 390.3 584.1 385.9 584.1 391.4 584.2 387.1 584.2 394.4 584.2 387.5 584.3 392.1 584.3 385.7 584.3 388.6 584.4 383.1 584.4 388 584.5 381.6 584.5 392.6 584.6 381.2 584.6 389.4 584.7 383.4 584.7 378 584.8 384.3 584.8 383.3 584.8 391.3 584.9 385.7 584.9 387.2 584.9 381.4 585 389.6 585 377.4 585.1 384.6 585.1 384 585.1 389 585.1 384 585.2 392.4 585.2 378.5 585.3 382.6 585.3 378.4 585.4 384.7 585.4 379.7 585.4 382.5 585.5 384.1 585.5 375 585.6 374.3 585.6 383.8 585.6 381.3 585.7 374.8 585.7 374.5 585.7 378.7 585.8 374.7 585.8 385.7 585.9 374.8 585.9 385.7 585.9 380.7 586 378.3 586 379.8 586.1 374.5 586.1 376.7 586.1 371.6 586.2 371.2 586.2 383.8 586.2 380.9 586.3 379.2 586.3 371.2 586.3 377.1 586.4 378.1 586.4 373.5 586.5 377.7 586.5 368.5 586.6 374 586.6 371.4 586.6 373.4 586.7 374.5 586.7 372.7 586.7 378.9 586.8 378.8 586.8 376.4 586.8 376.6 586.9 372.7 586.9 370 586.9 376.3 587 367.9 587 373.3 587.1 367.1 587.1 372.8 587.2 375.2 587.2 368.9 587.3 370.2 587.3 372.1 587.3 370.2 587.4 368.5 587.4 370.9 587.5 371.7 587.5 368.5 587.5 369.4 587.6 363.9 587.6 363.3 587.6 370.2 587.7 363.4 587.7 370.9 587.8 361.7 587.8 367.2 587.8 362.2 587.9 365.9 587.9 367.9 588 367.6 588 363.5 588.1 363.5 588.1 358.6 588.2 364.9 588.2 367.8 588.2 357.4 588.2 367.8 588.3 358.1 588.3 363.4 588.3 360.1 588.4 361.6 588.4 362.9 588.4 357.7 588.5 363.1 588.5 359.7 588.6 359.4 588.6 357.1 588.7 366.1 588.7 354.9 588.8 357.7 588.8 362.5 588.8 362.3 588.9 357 588.9 358.2 588.9 354.9 588.9 358.2 589 355.9 589 358.4 589 358.1 589.1 356.2 589.1 354.7 589.1 361.7 589.1 354.7 589.2 360.9 589.2 349.2 589.3 352.7 589.3 353.7 589.3 349.8 589.4 347 589.4 348.2 589.5 352 589.5 343.4 589.6 352.1 589.6 350.9 589.6 354.9 589.6 350.9 589.7 349.4 589.7 346 589.8 346.5 589.8 347 589.8 342.6 589.9 341.1 589.9 345.1 589.9 343.7 590 351 590 340.7 590.1 337.8 590.1 336.2 590.1 337.1 590.2 340.4 590.2 335.6 590.2 345.5 590.2 335.6 590.3 335.5 590.3 339.2 590.4 335.2 590.4 332.4 590.4 339.2 590.5 331.7 590.5 335.1 590.6 334.5 590.6 336.7 590.6 331.3 590.7 327 590.7 325.8 590.7 329.3 590.8 327.6 590.8 323.3 590.9 323.8 590.9 322.3 591 321.5 591 324 591 321.7 591.1 324.9 591.1 320.5 591.2 326.2 591.2 323.2 591.3 324.7 591.3 327.9 591.3 200.7 591.3 327.9 591.4 323 591.4 320.3 591.5 319.2 591.5 318.6 591.5 319.9 591.6 320.7 591.6 322.2 591.6 321.9 591.7 320.2 591.7 321.7 591.7 321.3 591.8 322.4 591.8 328.6 591.9 325.6 591.9 337.3 592 331.5 592 327.9 592 329.7 592.1 333 592.1 341.9 592.2 337.4 592.2 340.2 592.2 333.6 592.3 337.7 592.3 338.1 592.4 336.4 592.4 340.3 592.5 347.3 592.5 337.1 592.5 339.5 592.6 338.9 592.6 341.1 592.7 342 592.7 349.9 592.7 342.6 592.8 344.4 592.8 342.1 592.8 343.1 592.9 343.5 592.9 347.2 592.9 345.2 593 345.5 593 343.8 593 348.2 593 343.8 593.1 353 593.1 345.4 593.1 349.1 593.2 359.6 593.2 347.2 593.3 351.7 593.3 353.7 593.3 351.7 593.4 350.7 593.4 355.8 593.4 355.2 593.5 353.3 593.5 359.2 593.6 355.9 593.6 354.9 593.7 357.6 593.7 353 593.8 362.5 593.8 353.8 593.8 360.4 593.9 357.4 593.9 361.5 593.9 358.9 594 362.5 594 357 594.1 362.8 594.1 363.8 594.1 360.4 594.2 366.8 594.2 367.5 594.2 363.3 594.2 367.5 594.3 358.4 594.3 368.4 594.3 365.2 594.4 369 594.4 361.1 594.4 363.6 594.5 368.7 594.5 361.6 594.6 361.9 594.6 371.3 594.6 366.7 594.7 360.3 594.7 366.2 594.8 362.6 594.8 368.5 594.9 362.3 594.9 372.6 595 362.6 595 372.1 595.1 370.6 595.1 368.4 595.2 373.9 595.2 363.3 595.3 373.8 595.3 368.7 595.4 371.8 595.4 366.4 595.4 369.2 595.5 372.5 595.5 370.1 595.5 376.5 595.5 370.1 595.6 367.5 595.6 370.6 595.7 374.6 595.7 376 595.8 379.2 595.8 376.3 595.8 376.3 595.9 375.6 595.9 377.8 596 385.4 596 371.4 596 377.3 596.1 371.2 596.1 383.2 596.2 375.1 596.2 373.3 596.2 377.4 596.2 373.3 596.3 377.1 596.3 378.4 596.3 371.1 596.3 378.4 596.4 386 596.4 380.3 596.5 379 596.5 376.2 596.5 382.4 596.6 377.5 596.6 377.1 596.6 380 596.7 390.4 596.7 382.4 596.7 441 596.7 382.4 596.8 375.6 596.8 384.7 596.8 379.6 596.9 382.6 596.9 381.9 596.9 385.3 597 375.4 597 379.1 597 354 597 379.1 597.1 378.3 597.1 377.7 597.1 384.9 597.1 377.7 597.2 377.6 597.2 383.4 597.2 377.7 597.3 387.6 597.3 381.3 597.4 385.4 597.4 381.7 597.4 395.8 597.4 381.7 597.5 381.1 597.5 389.2 597.6 393.4 597.6 379.4 597.7 383.4 597.7 383.9 597.8 390.1 597.8 390.5 597.8 389.3 597.8 390.5 597.9 385.6 597.9 396 598 381.8 598 381.2 598 381.2 598.1 392.9 598.1 388.6 598.1 391.4 598.2 390.9 598.2 389.3 598.2 393.4 598.2 389.3 598.3 386.6 598.3 388 598.3 383.9 598.3 388 598.4 385.2 598.4 397.6 598.4 393.6 598.5 386.8 598.5 390 598.5 389.5 598.6 391.6 598.6 387.2 598.6 399.1 598.6 387.2 598.7 392.2 598.7 390.6 598.7 400.3 598.8 386.9 598.8 385.5 598.8 393.2 598.8 385.5 598.9 391.8 598.9 401.6 598.9 394.8 599 384.8 599 405 599 392.4 599.1 393.1 599.1 401.1 599.1 393.5 599.2 388.4 599.2 396.4 599.3 391.2 599.3 391.3 599.3 388.1 599.3 391.3 599.4 387.5 599.4 387.9 599.5 393.5 599.5 389.1 599.6 397.5 599.6 399.1 599.6 395.6 599.6 399.1 599.7 389.3 599.7 396.1 599.7 391 599.8 394.4 599.8 393.8 599.8 396 599.9 396 599.9 403.4 599.9 397.1 600 393 600 390.5 600 400.1 600 390.5 600.1 400.1 600.1 392.3 600.2 400.1 600.2 389.2 600.3 392.9 600.3 398.7 600.4 393.9 600.4 410.7 600.5 418.7 600.5 394.3 600.6 397 600.6 405.2 600.7 407.8 600.7 395.6 600.8 395.6 600.8 409.3 600.9 399.5 600.9 397.7 600.9 401.6 601 397.6 601 400.2 601 394.3 601.1 393.1 601.1 397.8 601.1 395.8 601.2 394.1 601.2 411.7 601.2 402.9 601.3 397.9 601.3 393.8 601.3 416.5 601.3 393.8 601.4 397.5 601.4 412.8 601.5 405.2 601.5 395.3 601.5 401.4 601.6 393.7 601.6 393.7 601.6 407.5 601.7 391.2 601.7 404.6 601.8 403.2 601.8 396.5 601.8 399.6 601.9 411.9 601.9 300.4 601.9 394.5 602 404 602 395.2 602 402.5 602.1 397.7 602.1 393.9 602.1 404.6 602.2 406.4 602.2 396.5 602.3 416.6 602.3 398 602.3 398.1 602.4 400.1 602.4 398.2 602.4 398.3 602.5 412.4 602.5 395.9 602.5 408.9 602.6 403.4 602.6 395.1 602.6 397.2 602.7 405.9 602.7 398.9 602.8 399.8 602.8 413.4 602.8 407.9 602.9 406.5 602.9 413.6 602.9 399.2 603 400.9 603 410.3 603 402.9 603.1 403.1 603.1 431.4 603.2 412.8 603.2 403.5 603.3 408.4 603.3 399.9 603.3 400.4 603.4 399.7 603.4 416.1 603.5 409.8 603.5 401 603.5 408.2 603.6 402.6 603.6 411.5 603.6 405.1 603.7 401.1 603.7 401.9 603.7 398.5 603.8 403.2 603.8 402.9 603.8 405.1 603.9 408.9 603.9 416.6 603.9 412.3 604 407.5 604 400.5 604.1 408.1 604.1 398.8 604.2 409.4 604.2 414 604.2 400.8 604.2 414 604.3 410.2 604.3 418.1 604.3 400.6 604.4 403.8 604.4 421.5 604.5 399.9 604.5 418 604.6 401.3 604.6 411.8 604.6 411.6 604.7 405.3 604.7 419.3 604.8 407.5 604.8 407.3 604.8 409.5 604.9 399.5 604.9 414.7 604.9 400.4 605 425.2 605 415.2 605.1 418.4 605.1 405.4 605.2 411.1 605.2 412.8 605.2 402.6 605.3 414.9 605.3 405.7 605.3 409.6 605.4 405.2 605.4 418.6 605.5 415.4 605.5 415.6 605.5 401.8 605.5 415.6 605.6 421.2 605.6 414.1 605.7 405.8 605.7 414.5 605.7 408.1 605.8 421.6 605.8 407.2 605.8 420.1 605.9 416.6 605.9 405.2 605.9 405.5 606 401 606 416.8 606 403.3 606.1 406.9 606.1 416.3 606.1 407.6 606.2 407.3 606.2 403 606.3 413.1 606.3 404.7 606.3 426.7 606.4 402.2 606.4 408.3 606.4 405.8 606.5 422.3 606.5 404.7 606.6 403.7 606.6 417.5 606.7 417.7 606.7 412.2 606.8 411.8 606.8 414.7 606.8 405.1 606.9 419.2 606.9 416.8 607 407.8 607 407.4 607 431.2 607 426 607.1 418.6 607.1 419.5 607.1 412.5 607.2 422.8 607.2 412.3 607.3 417.6 607.3 405.5 607.3 411.6 607.4 421.6 607.4 413.4 607.4 415.1 607.5 415.3 607.5 408.2 607.5 426.8 607.5 408.2 607.6 418.2 607.6 409.1 607.7 405.5 607.7 416.9 607.7 408.2 607.8 416.4 607.8 412.8 607.9 424.9 607.9 406.7 607.9 416.2 608 413.2 608 408.1 608 413 608.1 424.3 608.1 409.2 608.1 410.7 608.2 415.8 608.2 416.6 608.2 407 608.3 422.5 608.3 409.9 608.4 409.9 608.4 435.5 608.4 428.9 608.5 415.3 608.5 411.4 608.5 420.8 608.6 407.2 608.6 404.8 608.6 425.1 608.6 404.8 608.7 407.3 608.7 415.6 608.8 404.9 608.8 436.2 608.9 423 608.9 426.7 608.9 407.9 608.9 426.7 609 416.2 609 413.2 609 437.6 609 413.2 609.1 421.3 609.1 412.7 609.2 417.9 609.2 420.6 609.2 413.6 609.3 425.1 609.3 423.4 609.3 423.6 609.4 421.5 609.4 422.7 609.4 412.3 609.4 422.7 609.5 411.2 609.5 410.6 609.5 418.1 609.6 411.4 609.6 410.5 609.6 420.4 609.7 436.8 609.7 409.3 609.7 417.3 609.8 410.1 609.8 420.4 609.9 418.5 609.9 423.6 609.9 409 609.9 419.1 610 420.7 610 455 610 430.7 610.1 417.8 610.1 412.5 610.1 431.2 610.1 412.5 610.2 418.4 610.2 412.6 610.2 416.8 610.3 431.1 610.3 438.3 610.3 419.1 610.4 415 610.4 431.4 610.5 418.6 610.5 413.6 610.5 428.1 610.6 420.3 610.6 418.6 610.6 431.9 610.7 426.2 610.7 437.7 610.7 409.3 610.7 419.5 610.8 413.8 610.8 432.7 610.8 419 610.9 425.2 610.9 426.9 610.9 414.4 611 441.5 611 411.7 611.1 422 611.1 410.2 611.1 441.1 611.2 425.3 611.2 428.7 611.2 418.8 611.2 428.7 611.3 428.7 611.3 416 611.4 413 611.4 432.9 611.4 418.6 611.5 419.5 611.5 419.9 611.5 417.3 611.6 435.9 611.6 423 611.6 427.4 611.7 424.9 611.7 413.3 611.8 414.9 611.8 425.8 611.9 450.5 611.9 428.7 612 420.4 612 419.6 612 427.9 612.1 419.7 612.1 414.9 612.1 429.7 612.1 414.9 612.2 430.7 612.2 414.4 612.2 419.3 612.3 442.8 612.3 427.1 612.3 432.9 612.4 436.8 612.4 418.3 612.4 430.9 612.5 420.7 612.5 414.1 612.5 415 612.6 415.4 612.6 427.3 612.7 432.9 612.7 418.7 612.8 419.8 612.8 427.8 612.8 421.6 612.9 454.7 612.9 418.2 613 435.1 613 416.7 613.1 420.6 613.1 424.5 613.1 414.7 613.2 421.4 613.2 431.2 613.2 431.2 613.3 416.6 613.3 429.2 613.4 416.3 613.4 416.1 613.4 446.8 613.4 416.1 613.5 425.4 613.5 439.7 613.6 427.7 613.6 425.7 613.6 434.6 613.6 425.7 613.7 418.6 613.7 427.7 613.8 425.8 613.8 432.3 613.8 426.1 613.9 422.5 613.9 425.7 613.9 413.1 614 421.4 614 430.8 614.1 423.7 614.1 431.8 614.1 425.5 614.2 422.5 614.2 419.6 614.2 433.3 614.3 439.3 614.3 419.2 614.4 431 614.4 425.9 614.4 439.6 614.5 412.8 614.5 435.9 614.6 428.7 614.6 431 614.6 413.2 614.6 431 614.7 426.9 614.7 417.4 614.8 423.8 614.8 427.8 614.8 425.7 614.9 414.3 614.9 431.1 615 427.6 615 432.8 615 420.8 615.1 434.4 615.1 416.5 615.2 423.6 615.2 425.5 615.2 419.9 615.3 443.5 615.3 418 615.4 431.1 615.4 418.5 615.4 421.7 615.5 424.9 615.5 431.1 615.5 418.6 615.6 430.9 615.6 418.1 615.6 429.3 615.7 449 615.7 434.9 615.7 442.8 615.8 428.5 615.8 419.3 615.8 424.3 615.9 434.8 615.9 418.8 615.9 431.9 616 423.3 616 441.5 616 423.4 616.1 422.2 616.1 444.2 616.2 428.9 616.2 428.4 616.2 434.3 616.2 428.4 616.3 418 616.3 430.5 616.4 430.6 616.4 422.5 616.5 424 616.5 416.4 616.5 423.1 616.6 428.6 616.6 442 616.6 433.8 616.7 428.8 616.7 427.1 616.7 434.3 616.7 427.1 616.8 417.6 616.8 434.1 616.9 432.8 616.9 438.9 616.9 436.3 617 437.7 617 417.7 617 470.1 617 431.2 617.1 431.4 617.1 432 617.1 423.3 617.2 424.1 617.2 440.8 617.2 431.7 617.3 447.5 617.3 421.9 617.3 431.4 617.4 431.9 617.4 432.7 617.4 417.6 617.4 432.7 617.5 426.4 617.5 421.6 617.5 432 617.6 434.2 617.6 442.2 617.6 439.2 617.7 452.4 617.7 435.1 617.8 424.2 617.8 419.5 617.8 430.7 617.8 419.5 617.9 431.5 617.9 436.8 617.9 424.9 617.9 436.8 618 419.1 618 418.2 618 441.8 618 418.2 618.1 429.7 618.1 418.4 618.2 429.5 618.2 419.8 618.3 439.3 618.3 446.1 618.3 423.9 618.3 446.1 618.4 433.3 618.4 441.1 618.4 419.5 618.4 441.1 618.5 420.7 618.5 438.2 618.5 431.3 618.6 429.4 618.6 420.2 618.6 428.6 618.7 417.6 618.7 438.1 618.7 436.6 618.8 421.6 618.8 436.9 618.9 423 618.9 422.7 618.9 425.5 619 452.6 619 428.6 619.1 439.5 619.1 423.2 619.2 444.7 619.2 450.4 619.2 419.1 619.2 450.4 619.3 420.7 619.3 442.5 619.3 439.4 619.4 419.4 619.4 429.9 619.4 425.1 619.5 428.3 619.5 428.3 619.5 428.6 619.6 417.5 619.6 435.9 619.7 437.3 619.7 438.9 619.7 435.6 619.8 445.4 619.8 426.7 619.9 419.4 619.9 438.4 619.9 433.5 620 422.8 620 449 620 392 620 434.9 620.1 426.7 620.1 441 620.1 429 620.2 417.9 620.2 452.5 620.3 421.1 620.3 418.8 620.3 440.5 620.3 418.8 620.4 429.9 620.4 421.1 620.5 429.4 620.5 440 620.5 432.9 620.6 422.2 620.6 445 620.7 431 620.7 418.1 620.8 420.6 620.8 455.4 620.9 436.8 620.9 427.2 620.9 435 621 423.2 621 448.7 621 432.5 621.1 438.8 621.1 423.6 621.1 431.8 621.2 439.3 621.2 420.5 621.2 431.7 621.3 442.9 621.3 431.6 621.3 458.9 621.4 434.6 621.4 446.8 621.4 419.1 621.5 437 621.5 428.8 621.5 448.4 621.6 421.3 621.6 432.5 621.6 427.4 621.7 454.5 621.7 424.4 621.8 422.3 621.8 423.8 621.8 418.5 621.8 423.8 621.9 450.8 621.9 430.2 622 432.6 622 443.4 622.1 416.3 622.1 435.9 622.2 422.8 622.2 419.9 622.2 451.9 622.2 419.9 622.3 459.1 622.3 424.4 622.3 431.2 622.4 438 622.4 432.8 622.4 460.9 622.4 432.8 622.5 449.4 622.5 448.9 622.5 462.4 622.6 429.4 622.6 432.8 622.6 418.5 622.6 430.1 622.7 429.3 622.7 422.5 622.7 445 622.8 427.1 622.8 422.2 622.9 418.7 622.9 442.5 622.9 434.9 623 434.6 623 430.2 623 457.8 623 430.2 623.1 433.1 623.1 452.7 623.2 447.4 623.2 449.2 623.2 424.3 623.3 454 623.3 428.9 623.3 444.7 623.4 455.4 623.4 442.5 623.5 446.3 623.5 444.1 623.5 449.4 623.5 444.1 623.6 421.3 623.6 433.3 623.7 421 623.7 453.2 623.8 464 623.8 419.6 623.8 440.9 623.9 423.3 623.9 419.2 623.9 448.6 623.9 419.2 624 422.1 624 416.5 624 440.4 624.1 425.3 624.1 455.8 624.2 433.7 624.2 476.4 624.3 428.8 624.3 417.5 624.3 451 624.3 417.5 624.4 428.4 624.4 420.3 624.4 442.9 624.4 420.3 624.5 449 624.5 453.4 624.5 444.4 624.6 446.4 624.6 434 624.7 432.1 624.7 442.5 624.7 434 624.8 429 624.8 427.5 624.8 433.1 624.9 431.3 624.9 446.3 625 448.6 625 430.8 625 431 625.1 448.2 625.1 424.8 625.1 442.9 625.2 436.3 625.2 442.8 625.3 441.8 625.3 458.5 625.3 418.8 625.3 458.5 625.4 453.4 625.4 435.8 625.4 441.7 625.5 422.1 625.5 439 625.6 443.3 625.6 461.5 625.6 422.1 625.6 461.5 625.7 449.8 625.7 424.9 625.7 448.2 625.8 447.8 625.8 425.1 625.8 447.6 625.9 431.9 625.9 424.4 625.9 439.5 626 440.3 626 422.4 626.1 447.5 626.1 428 626.2 441.5 626.2 455.6 626.2 425.2 626.2 441.9 626.3 447.4 626.3 430.6 626.3 433.6 626.4 427.5 626.4 427.5 626.4 433.2 626.5 447.4 626.5 449.3 626.5 422.7 626.6 428.8 626.6 419.6 626.6 456.3 626.7 421.1 626.7 443.1 626.8 425.8 626.8 469.3 626.8 427 626.9 423.6 626.9 442.3 626.9 436.9 627 440.5 627 461.9 627.1 447.1 627.1 429.7 627.1 434.5 627.2 468.2 627.2 417.4 627.3 457.3 627.3 428.4 627.3 440.9 627.4 446.3 627.4 446.1 627.4 456.4 627.5 450 627.5 430.2 627.6 436.2 627.6 428.5 627.6 435.1 627.7 433.7 627.7 428.9 627.7 429.4 627.8 429.7 627.8 425.3 627.8 440 627.9 421.8 627.9 445.2 628 428.5 628 450 628 373.6 628 450 628.1 434.3 628.1 430 628.1 449.3 628.1 430 628.2 431 628.2 420.9 628.2 470.2 628.3 423.2 628.3 458 628.3 443.4 628.4 447.8 628.4 456.2 628.4 425.9 628.4 456.2 628.5 438.3 628.5 424.5 628.6 453.6 628.6 468.3 628.6 433.7 628.7 446.3 628.7 436.1 628.8 439.1 628.8 431.1 628.8 447.4 628.9 433.8 628.9 437.1 628.9 424.8 629 470.8 629 421 629 443.8 629.1 431 629.1 418.9 629.1 471.3 629.1 418.9 629.2 428.3 629.2 443.1 629.3 440.9 629.3 454.1 629.3 417.3 629.4 439.7 629.4 445.3 629.4 433.2 629.4 445.3 629.5 438.2 629.5 415.5 629.6 429.7 629.6 435 629.6 432.4 629.7 443.7 629.7 453.5 629.7 430.7 629.7 453.5 629.8 431.7 629.8 458.7 629.9 441.8 629.9 468.3 629.9 414.5 630 465.2 630 425.2 630 458.3 630.1 419.2 630.1 454.3 630.1 445.5 630.2 433 630.2 423.7 630.3 423.1 630.3 417.8 630.3 442.9 630.3 417.8 630.4 424.2 630.4 425.1 630.5 435.5 630.5 460 630.5 441.1 630.6 448.2 630.6 455.7 630.6 421.7 630.6 455.7 630.7 486.8 630.7 442.3 630.8 468.5 630.8 422.6 630.8 447.5 630.9 447.8 630.9 420.7 631 423 631 445.6 631 429.9 631.1 464.4 631.1 422.3 631.1 436.6 631.2 429.2 631.2 427.6 631.2 431.6 631.3 432.2 631.3 426.2 631.3 472.1 631.4 434.4 631.4 446.8 631.5 430.7 631.5 429.2 631.5 463 631.5 429.2 631.6 425.1 631.6 428 631.6 419.1 631.6 420 631.7 443.4 631.7 417.1 631.8 464.6 631.8 439.9 631.8 464.1 631.9 439 631.9 450.4 631.9 424.5 631.9 450.4 632 466.5 632 420 632 437.8 632.1 426.5 632.1 421.4 632.1 460 632.1 451.7 632.2 425.7 632.2 446.4 632.3 449.6 632.3 419.7 632.3 422.6 632.4 422.6 632.4 424 632.4 423.4 632.5 463.1 632.5 427.7 632.6 437.1 632.6 443.5 632.6 419.8 632.6 443.5 632.7 446.6 632.7 443 632.7 477.1 632.8 475.3 632.8 436.3 632.8 449.5 632.9 427.5 632.9 427.3 632.9 456.2 632.9 427.3 633 480.5 633 416.4 633 437.7 633.1 452.2 633.1 453 633.1 438.7 633.1 453 633.2 447.3 633.2 444.1 633.2 524 633.2 465.2 633.3 422.3 633.3 462.3 633.3 447.3 633.4 445.5 633.4 433.4 633.4 439 633.5 472.9 633.5 415.6 633.6 441.2 633.6 446.4 633.6 433.5 633.7 421 633.7 451.2 633.7 433 633.8 421.6 633.8 453.7 633.8 450.5 633.9 453.2 633.9 428.2 634 443.5 634 433.4 634 434.2 634.1 445.8 634.1 436.7 634.1 494.5 634.1 436.7 634.2 432.4 634.2 443.8 634.2 434.1 634.3 444.5 634.3 449.2 634.4 424.4 634.4 457.8 634.5 443.3 634.5 452.1 634.5 452.1 634.6 426.2 634.6 420.9 634.6 449.8 634.7 420.1 634.7 464.7 634.7 434.8 634.8 445.7 634.8 423 634.8 444.2 634.9 461.9 634.9 463.7 634.9 411.1 634.9 430.2 635 433.7 635 463.9 635 451.5 635.1 433.2 635.1 418.3 635.1 475.6 635.1 445.3 635.2 438.3 635.2 458.6 635.2 417.1 635.3 430.7 635.3 420.8 635.3 444.6 635.4 454.7 635.4 460.6 635.4 423.6 635.5 438.2 635.5 420.8 635.5 477.6 635.5 447.4 635.6 429.3 635.6 460.8 635.6 442.9 635.7 459.6 635.7 420 635.7 442.8 635.8 434.7 635.8 422.2 635.8 449.1 635.9 441.8 635.9 442.3 635.9 429.1 636 438.4 636 435.8 636 461 636 457.6 636.1 435.2 636.1 437.8 636.1 429.1 636.2 440.5 636.2 422.4 636.2 469.8 636.2 433.6 636.3 415 636.3 463.6 636.4 428.9 636.4 472.3 636.4 366 636.4 449.3 636.5 430.5 636.5 431.5 636.5 422.4 636.5 431.5 636.6 430.6 636.6 459.9 636.7 475.3 636.7 431.3 636.8 430.5 636.8 451.5 636.9 449.1 636.9 426.8 636.9 445.1 637 429.1 637 412.6 637 450.7 637.1 442.8 637.1 419.3 637.1 423.4 637.2 425.7 637.2 467.4 637.3 437.6 637.3 417.1 637.3 469.9 637.4 463.3 637.4 415.9 637.4 439.8 637.5 439.5 637.5 442.3 637.5 408.6 637.6 424 637.6 438.4 637.6 293.5 637.6 415.1 637.7 422.2 637.7 412.8 637.8 429.9 637.8 430 637.8 418.8 637.8 430 637.9 418.7 637.9 414.7 637.9 443.9 637.9 442.7 638 437.4 638 416.2 638 425 638.1 425 638.1 437.5 638.1 408.5 638.2 416 638.2 413 638.2 438.2 638.2 413 638.3 445.1 638.3 410 638.3 440.7 638.4 418.5 638.4 486.2 638.4 451.8 638.5 448 638.5 408.3 638.6 423.4 638.6 423 638.6 423.8 638.6 423 638.7 430.4 638.7 448.8 638.8 432.5 638.8 443 638.8 408.7 638.9 404.9 638.9 442 638.9 418.4 639 407.9 639 411.6 639.1 438.3 639.1 444.4 639.1 415 639.1 444.4 639.2 431.5 639.2 441.9 639.2 407.8 639.3 409.2 639.3 399.5 639.3 440.6 639.4 406.9 639.4 422.6 639.4 418.2 639.5 414 639.5 404.8 639.5 424.9 639.5 404.8 639.6 407.7 639.6 402 639.6 427.7 639.7 441.8 639.7 395.1 639.7 427.6 639.8 422.2 639.8 427.8 639.8 397.9 639.8 427.8 639.9 400.8 639.9 430.7 639.9 412.4 640 444.1 640 397.1 640 413.3 640.1 406.9 640.1 393.7 640.1 420.1 640.2 425.7 640.2 433.7 640.2 409 640.3 395.1 640.3 431.5 640.3 413.3 640.4 410.3 640.4 416.2 640.4 397.3 640.5 389.3 640.5 385.1 640.5 437.1 640.5 385.1 640.6 393.1 640.6 399.8 640.6 384.4 640.6 393 640.7 413.9 640.7 400.8 640.8 380.6 640.8 394.4 640.8 392.2 640.9 391.8 640.9 392.4 640.9 388.5 641 404 641 410.6 641 387.5 641.1 380.8 641.1 405.9 641.2 386.1 641.2 381.5 641.2 401.5 641.2 381.5 641.3 378.9 641.3 376 641.3 392.6 641.4 377.8 641.4 365.1 641.4 405.2 641.4 365.1 641.5 390.5 641.5 363.7 641.5 421 641.5 363.7 641.6 393.7 641.6 365.5 641.7 356.3 641.7 386.8 641.8 391.5 641.8 351.1 641.8 365.1 641.9 346.3 641.9 363 641.9 358.5 642 373.3 642 342.8 642.1 356.9 642.1 361.8 642.1 252.1 642.1 354.1 642.2 353.4 642.2 352.7 642.2 356.7 642.2 352.7 642.3 359 642.3 354.3 642.3 374.3 642.3 358.5 642.4 359.6 642.4 356 642.4 377.3 642.4 363.3 642.5 375.4 642.5 382.6 642.5 364.3 642.5 382.6 642.6 371.5 642.6 358.9 642.6 362.7 642.7 373.2 642.7 372 642.7 372.5 642.8 390.5 642.8 390.4 642.8 396.9 642.8 392 642.9 400.2 642.9 403.4 642.9 374.9 643 402.3 643 374.9 643 396.3 643.1 374.9 643.1 411.4 643.1 406.1 643.2 365.7 643.2 406.2 643.2 388.7 643.3 388.8 643.3 390.9 643.4 394.7 643.4 411.3 643.4 375.4 643.5 380.3 643.5 370.8 643.5 379.8 643.6 407 643.6 383.8 643.6 393.5 643.7 384 643.7 380.6 643.7 422.3 643.7 387.2 643.8 386.6 643.8 377.6 643.9 387.8 643.9 375.5 643.9 408.2 644 387 644 396.7 644 375.2 644 391.9 644.1 399.8 644.1 381.6 644.2 398.5 644.2 388.3 644.2 409.5 644.2 388.3 644.3 385.1 644.3 384.1 644.3 386.6 644.4 386.2 644.4 422.6 644.5 385.8 644.5 416.6 644.5 395.5 644.6 420.7 644.6 406.8 644.6 418.1 644.7 398.2 644.7 404.2 644.7 391 644.7 404.2 644.8 382.3 644.8 419.5 644.9 406.3 644.9 388.1 644.9 427.7 645 392.2 645 394.4 645 387.1 645 394.4 645.1 394.2 645.1 384.8 645.1 414.9 645.2 389.5 645.2 415.2 645.2 395.7 645.3 400.2 645.3 391.4 645.3 398.9 645.4 393.8 645.4 384.2 645.4 412.4 645.4 384.2 645.5 418.6 645.5 389.5 645.5 402.4 645.6 408.6 645.6 421.4 645.6 394.9 645.6 395.5 645.7 390.8 645.7 386.7 645.7 419.3 645.7 391.7 645.8 419.3 645.8 422.5 645.8 399.9 645.8 422.5 645.9 387.8 645.9 433 645.9 409.9 646 389.6 646 447.8 646 413.6 646.1 392.4 646.1 388.5 646.1 430.9 646.1 389.9 646.2 384.8 646.2 406.1 646.2 388.8 646.3 402.6 646.3 389.2 646.3 419.7 646.3 389.2 646.4 408.4 646.4 391.9 646.4 398 646.5 395.8 646.5 406.6 646.5 355 646.5 401.7 646.6 411.1 646.6 393 646.6 436.9 646.7 386.5 646.7 409.6 646.7 391.7 646.8 396.1 646.8 414.5 646.9 420.2 646.9 387.4 647 422.8 647 424 647 395.1 647.1 405.1 647.1 414.9 647.1 388.1 647.2 419.2 647.2 394 647.3 416.7 647.3 393.8 647.4 393.3 647.4 421.4 647.4 398.4 647.5 401.8 647.5 393.9 647.5 413.8 647.5 394.8 647.6 412.6 647.6 425.3 647.6 348 647.6 413.7 647.7 429.9 647.7 399.5 647.7 402.7 647.8 402.3 647.8 399.3 647.8 419.1 647.8 399.9 647.9 404.7 647.9 453.6 648 401.9 648 420.1 648.1 404.2 648.1 409.3 648.1 390.3 648.1 402.7 648.2 400.2 648.2 401.3 648.2 387.4 648.3 418 648.3 410.8 648.3 411.8 648.4 404.9 648.4 408.4 648.5 430.2 648.5 394.9 648.6 403.9 648.6 419.2 648.7 416.5 648.7 395.3 648.7 406.2 648.8 405.6 648.8 396.6 648.8 421.7 648.9 394.1 648.9 422.1 649 413.3 649 395.5 649 411.7 649.1 401.8 649.1 400.7 649.1 418.2 649.1 407.9 649.2 433.8 649.2 408.5 649.3 432.1 649.3 396.4 649.3 423.5 649.4 406.9 649.4 394.2 649.4 429 649.4 415.5 649.5 396.7 649.5 415.3 649.5 399.3 649.6 420.9 649.6 402.6 649.7 414.6 649.7 422.1 649.7 395.1 649.7 422.1 649.8 422.4 649.8 408.7 649.8 437.8 649.8 408.7 649.9 419.8 649.9 397 650 423.5 650 405.3 650 419.3 650.1 414.4 650.1 399 650.1 432.6 650.1 399 650.2 419 650.2 402.5 650.2 438 650.3 439.2 650.3 424.2 650.3 426.7 650.4 421.9 650.4 437.4 650.4 404.3 650.5 425.6 650.5 403 650.5 414.1 650.6 409.4 650.6 437.5 650.7 431.5 650.7 398.2 650.8 425.8 650.8 410.3 650.8 451.9 650.9 405.2 650.9 445.5 650.9 428.7 651 421.8 651 406.4 651 437.2 651 435.9 651.1 437.2 651.1 422.2 651.1 424.8 651.2 406.5 651.2 421.6 651.2 410.2 651.3 399 651.3 445 651.3 412.5 651.4 419.6 651.4 448.5 651.5 421.1 651.5 432.7 651.5 402.3 651.6 422.5 651.6 444.3 651.6 443.7 651.7 405 651.7 432.2 651.7 410 651.8 439.4 651.8 414.2 651.8 423.3 651.9 418.3 651.9 402.2 651.9 446.7 651.9 402.2 652 421.6 652 398.4 652 404.8 652.1 419.8 652.1 402.2 652.1 413.6 652.2 411.4 652.2 418.2 652.2 400.3 652.3 400.2 652.3 448.2 652.4 433.6 652.4 437.1 652.4 403.2 652.4 437.1 652.5 437 652.5 438.9 652.5 411.3 652.6 421.5 652.6 423.9 652.6 401.1 652.6 423.9 652.7 411.8 652.7 452.1 652.7 430.4 652.8 437.6 652.8 401.2 652.8 437.6 652.9 420.9 652.9 425.3 652.9 411.8 652.9 425.3 653 420 653 415 653 431.5 653.1 446.3 653.1 403.8 653.2 433 653.2 416.6 653.2 417.2 653.3 405.2 653.3 468.6 653.3 420.3 653.4 454.2 653.4 425.2 653.4 448.7 653.5 421.9 653.5 413.7 653.5 473.3 653.5 413.7 653.6 410 653.6 405.5 653.6 434.3 653.7 418.8 653.7 411.4 653.7 446.9 653.7 411.4 653.8 454 653.8 411.1 653.8 418.1 653.9 414.7 653.9 406.2 653.9 441.6 653.9 406.2 654 414.1 654 405.6 654 440.5 654 408.6 654.1 426.7 654.1 417.8 654.1 447.9 654.1 417.8 654.2 408.7 654.2 407.9 654.2 456.6 654.2 407.9 654.3 448 654.3 409.2 654.3 441.5 654.4 434.5 654.4 438.1 654.4 410.8 654.5 450.9 654.5 458.7 654.5 431.6 654.5 458.7 654.6 432.8 654.6 431.6 654.6 448.7 654.6 432.4 654.7 408.5 654.7 435.7 654.8 494.9 654.8 434.4 654.8 446.7 654.9 421.6 654.9 403.2 654.9 404 655 415.3 655 437.6 655 385 655 437.6 655.1 442.9 655.1 450.4 655.2 441.7 655.2 425.4 655.3 409.5 655.3 404.1 655.3 451.3 655.3 412.8 655.4 452.4 655.4 408.8 655.4 448.7 655.5 442.4 655.5 432.9 655.5 497.7 655.5 461.2 655.6 431.1 655.6 419 655.6 426 655.7 440 655.7 462 655.8 433.4 655.8 429.4 655.8 462.8 655.9 424.9 655.9 409.9 655.9 440.4 656 450.9 656 442.8 656 464.7 656 442.8 656.1 450.2 656.1 450.2 656.1 438.3 656.2 465.8 656.2 405 656.2 414 656.3 490.1 656.3 415.2 656.3 462.4 656.4 413 656.4 435.9 656.4 428.1 656.5 423.2 656.5 428.1 656.5 413.4 656.5 428.1 656.6 414.2 656.6 450.2 656.7 467.4 656.7 449 656.7 451.5 656.8 414.7 656.8 479.8 656.8 440 656.9 438.2 656.9 446 656.9 419.9 656.9 434.5 657 416.8 657 466.6 657 417.7 657.1 480.1 657.1 441.5 657.1 454.7 657.2 448.6 657.2 426 657.3 414.5 657.3 444.8 657.3 431 657.4 464.7 657.4 466.7 657.4 422.3 657.5 471.9 657.5 419.9 657.5 453.4 657.6 483.2 657.6 489.5 657.6 429.4 657.7 470 657.7 429.7 657.7 430.8 657.8 443.7 657.8 421.1 657.8 421.1 657.9 437.7 657.9 479.3 658 454 658 468.8 658 437 658 468.8 658.1 421.9 658.1 421.3 658.1 423.6 658.1 421.3 658.2 436.6 658.2 453.8 658.2 418.6 658.2 425 658.3 453.2 658.3 454.3 658.3 445.8 658.3 454.3 658.4 459.5 658.4 429.4 658.5 442.8 658.5 421.3 658.5 480.6 658.5 475.8 658.6 420.8 658.6 415.1 658.6 437.9 658.7 445.2 658.7 451.3 658.7 435.1 658.7 451.3 658.8 438.7 658.8 450 658.8 418.4 658.8 450 658.9 422.4 658.9 468.1 658.9 437.1 659 454.7 659 472.2 659 427.4 659 440 659.1 492.4 659.1 439.8 659.2 438.4 659.2 423.8 659.2 465.1 659.2 425.7 659.3 450.6 659.3 450.5 659.3 462.8 659.4 473.5 659.4 437.5 659.4 469.6 659.5 433.3 659.5 473.3 659.5 469.7 659.6 456 659.6 461 659.6 426.5 659.6 461 659.7 447.7 659.7 426.7 659.7 435.4 659.8 428.1 659.8 485.4 659.9 516.2 659.9 425.4 660 428.6 660 466.2 660 453.8 660.1 465.5 660.1 463.1 660.1 469.3 660.1 463.1 660.2 421 660.2 471.4 660.2 470.3 660.3 487 660.3 423.4 660.4 451.8 660.4 483.6 660.4 479.2 660.5 427.6 660.5 469.3 660.6 433.5 660.6 479.2 660.7 443.7 660.7 447.1 660.7 428.5 660.8 453.9 660.8 453.8 660.8 470.1 660.8 454.4 660.9 485.5 660.9 489.9 660.9 443.1 660.9 489.9 661 467.8 661 437.8 661 465.1 661.1 454.5 661.1 471.3 661.1 433.7 661.1 471.3 661.2 479.5 661.2 504.6 661.2 443.9 661.2 504.6 661.3 504.7 661.3 434.2 661.3 457.8 661.4 451.8 661.4 443.1 661.4 466.4 661.5 448.3 661.5 445.1 661.5 481.4 661.5 466.1 661.6 445.1 661.6 436.7 661.6 492 661.7 477.1 661.7 423.9 661.8 487.6 661.8 492.5 661.8 440.2 661.8 447.3 661.9 445 661.9 438.5 661.9 467.8 662 449.2 662 466.4 662 423.9 662 466.4 662.1 469 662.1 427.1 662.1 465.1 662.2 464.9 662.2 474.1 662.2 447 662.3 479.9 662.3 431.9 662.3 465.9 662.4 447.5 662.4 464.9 662.4 456.2 662.5 459.9 662.5 469.6 662.5 445 662.6 467.2 662.6 474.9 662.6 441.4 662.7 432.7 662.7 430.1 662.7 462.7 662.7 446.6 662.8 461.2 662.8 445.9 662.8 482.7 662.9 490.1 662.9 493.5 662.9 430.8 662.9 456.8 663 471.7 663 491 663 398 663 450 663.1 485.1 663.1 486.6 663.1 457.8 663.1 478.3 663.2 538.7 663.2 432.7 663.3 487.3 663.3 437.5 663.3 449.4 663.4 440.3 663.4 436.6 663.4 488.4 663.5 443.5 663.5 465.7 663.5 445.6 663.6 456.4 663.6 435.6 663.6 488.8 663.6 459 663.7 440.8 663.7 440.6 663.7 476.4 663.8 451.4 663.8 449.2 663.8 491.3 663.8 456.5 663.9 435.1 663.9 486.1 664 462.4 664 480.7 664.1 434.3 664.1 477.9 664.1 473.1 664.2 461 664.2 428 664.3 436.5 664.3 449 664.3 442.1 664.4 476.3 664.4 461.2 664.5 490.2 664.5 442.1 664.5 452.7 664.6 493 664.6 442.6 664.6 474 664.7 476.7 664.7 440.1 664.8 463.8 664.8 459.5 664.8 488.6 664.9 451.5 664.9 458 664.9 443.1 664.9 458 665 510.6 665 455.4 665.1 451.6 665.1 436.7 665.1 491.7 665.1 436.7 665.2 474.9 665.2 440.8 665.2 464.4 665.3 478.2 665.3 426.4 665.3 437.4 665.4 465.6 665.4 453.4 665.5 460 665.5 449.3 665.5 497.8 665.5 455.9 665.6 438 665.6 433 665.6 488.8 665.7 449 665.7 437.5 665.7 492.7 665.7 437.5 665.8 467.6 665.8 464 665.8 476 665.9 434.4 665.9 430.1 665.9 472.6 665.9 446.7 666 480.4 666 491.8 666 462 666 482.4 666.1 453.4 666.1 432.2 666.2 471.2 666.2 476.8 666.2 432.9 666.2 457.3 666.3 478.4 666.3 494.4 666.3 453.2 666.3 494.4 666.4 453.5 666.4 457.6 666.4 447.4 666.4 449.4 666.5 451.9 666.5 464.3 666.5 434.8 666.5 464.3 666.6 463 666.6 471 666.6 432.3 666.7 470.8 666.7 445.3 666.8 449.6 666.8 444.9 666.8 457.5 666.9 467.1 666.9 443.4 666.9 455.9 667 470.2 667 434.2 667 459.2 667.1 455.5 667.1 433.2 667.1 531.2 667.1 433.2 667.2 467 667.2 431.8 667.3 464.4 667.3 440.1 667.3 494 667.3 441.3 667.4 503.6 667.4 456.2 667.5 452.1 667.5 441 667.5 473.7 667.5 450.2 667.6 434.2 667.6 490.8 667.7 455.5 667.7 440.5 667.8 435.8 667.8 433.9 667.8 471.8 667.8 436.7 667.9 480.3 667.9 503.7 667.9 440.5 668 476.6 668 494.5 668 446.9 668.1 464.9 668.1 465.6 668.1 441.2 668.1 464.7 668.2 472.5 668.2 482.3 668.3 431 668.3 475.1 668.4 439.2 668.4 470.7 668.5 465.7 668.5 478.2 668.5 427.2 668.5 446.6 668.6 473.3 668.6 480.9 668.6 444.1 668.6 448.1 668.7 469 668.7 490.8 668.7 434.2 668.7 437.3 668.8 453.7 668.8 447.7 668.8 460.9 668.9 460.2 668.9 506.5 668.9 477.5 669 472.7 669 429.4 669.1 436.3 669.1 434.4 669.1 476.5 669.1 445.9 669.2 452.2 669.2 439.7 669.2 445 669.3 453.7 669.3 431.1 669.3 490.1 669.4 474.1 669.4 494.4 669.4 445.2 669.4 494.4 669.5 479.8 669.5 447.1 669.5 477.3 669.6 430.5 669.6 490.8 669.7 492.5 669.7 429.9 669.7 450.6 669.8 446.1 669.8 510.9 669.9 448.9 669.9 436.2 669.9 480 670 458.9 670 459.1 670 444.1 670 458.1 670.1 478.9 670.1 443.7 670.1 455.6 670.2 436.5 670.2 454.9 670.3 462 670.3 435.7 670.3 490 670.3 435.7 670.4 507.2 670.4 453.3 670.4 475.9 670.5 448.7 670.5 429.3 670.5 472.6 670.5 429.3 670.6 484.3 670.6 432.2 670.6 441.9 670.7 463.5 670.7 474.6 670.7 439.9 670.7 474.6 670.8 463.4 670.8 450.8 670.8 479.2 670.8 468 670.9 454.4 670.9 434.7 670.9 489.8 670.9 483.3 671 427.7 671 481.3 671 469.4 671.1 434.8 671.1 432.9 671.1 474.6 671.1 432.9 671.2 483 671.2 461.5 671.2 475.1 671.3 433.9 671.3 479.2 671.4 438.4 671.4 428.3 671.4 484.9 671.4 473.2 671.5 464.2 671.5 445.1 671.6 454.5 671.6 455.9 671.6 426.2 671.7 457.4 671.7 433.2 671.7 441.6 671.8 435.6 671.8 481.1 671.8 464.7 671.9 425.2 671.9 494.8 671.9 471.4 672 471.9 672 485.5 672 450.4 672 485.5 672.1 439.7 672.1 468.8 672.1 444.8 672.2 452.2 672.2 465 672.2 426.7 672.2 434.4 672.3 439.4 672.3 437.2 672.3 466.5 672.3 446.7 672.4 519.6 672.4 463.5 672.5 436.1 672.5 433.9 672.5 443.2 672.5 433.9 672.6 448.7 672.6 431.1 672.6 469 672.6 431.1 672.7 464.7 672.7 494.9 672.7 428.9 672.8 463.8 672.8 468.4 672.8 451.3 672.8 455.2 672.9 475 672.9 418.2 672.9 454.1 673 465.3 673 431.2 673 433.5 673.1 463 673.1 483.2 673.1 422.7 673.1 483.2 673.2 461.1 673.2 431.5 673.2 441.4 673.3 429.8 673.3 424.4 673.3 492.6 673.3 427.9 673.4 460.2 673.4 432.3 673.5 427.5 673.5 515.1 673.5 304.6 673.5 436.9 673.6 427.5 673.6 426.4 673.6 444.3 673.6 435.6 673.7 459.9 673.7 430.1 673.7 454.7 673.8 426.2 673.8 425.6 673.8 491.9 673.8 475.7 673.9 451.7 673.9 425.3 673.9 432.9 674 426 674 450.4 674 430.1 674.1 426.3 674.1 419.6 674.1 454.2 674.1 419.6 674.2 434.4 674.2 470.2 674.2 452.1 674.3 435.4 674.3 449.6 674.3 421 674.3 442 674.4 451.1 674.4 458 674.4 429.2 674.4 449.8 674.5 428 674.5 485 674.6 429.1 674.6 458.7 674.6 448.7 674.7 490 674.7 443.5 674.7 453.5 674.8 511.1 674.8 452.7 674.8 459.3 674.9 455.2 674.9 437.7 674.9 505.8 674.9 442.7 675 442.4 675 436.5 675 496.5 675 492.7 675.1 468.2 675.1 452 675.2 489.6 675.2 463.5 675.2 472.7 675.3 471.7 675.3 471.3 675.3 480.9 675.4 472.4 675.4 442.9 675.5 485.9 675.5 422.7 675.5 467.5 675.6 487.4 675.6 498.4 675.6 488.4 675.7 442.6 675.7 475.4 675.7 471.1 675.8 453.5 675.8 434.3 675.8 492.7 675.8 480.4 675.9 488.9 675.9 447.6 675.9 486.1 676 472.7 676 473.7 676 434.6 676 439.9 676.1 480.7 676.1 492.3 676.1 444.4 676.2 468.6 676.2 445.8 676.3 456.8 676.3 446.6 676.3 469.1 676.3 446.6 676.4 471 676.4 447.2 676.4 517 676.4 449.1 676.5 441.6 676.5 469.1 676.5 461.5 676.6 475.4 676.6 442 676.6 468.8 676.7 517.3 676.7 453.6 676.8 442.9 676.8 474.4 676.8 464.2 676.9 480.5 676.9 484.7 676.9 453.6 677 456 677 508.4 677.1 440.9 677.1 440.9 677.1 502.3 677.1 483.4 677.2 472.2 677.2 444.7 677.2 466 677.3 471.2 677.3 438.1 677.3 540.2 677.4 458.9 677.4 449.2 677.4 520.2 677.4 449.2 677.5 499.1 677.5 453.3 677.6 447.4 677.6 501.3 677.6 463.9 677.7 510.1 677.7 438.4 677.7 506.3 677.8 446.2 677.8 507.6 677.9 447.8 677.9 442.6 677.9 457.5 677.9 445.4 678 465.7 678 475.1 678 443.2 678.1 465.9 678.1 460 678.1 507.8 678.1 460 678.2 479.4 678.2 469.6 678.2 489.3 678.2 477.5 678.3 537.3 678.3 461.1 678.3 465.9 678.4 496.7 678.4 507.3 678.4 462.9 678.4 467.3 678.5 509.8 678.5 450.1 678.5 454.7 678.6 477.3 678.6 496 678.6 445.1 678.6 496 678.7 473 678.7 450.2 678.7 451.1 678.8 455.3 678.8 469.2 678.8 440.9 678.8 454 678.9 467.4 678.9 509.7 679 455.4 679 449.5 679 497.1 679 485.6 679.1 456.9 679.1 508.6 679.1 493.9 679.2 510.5 679.2 453.9 679.2 475.1 679.3 449.3 679.3 448.1 679.3 457.7 679.4 452.4 679.4 442.8 679.4 486.2 679.4 442.8 679.5 499.6 679.5 512.5 679.5 456 679.6 488.9 679.6 477.1 679.6 506.7 679.7 448.2 679.7 500.1 679.7 483.4 679.8 467.6 679.8 451.9 679.8 490.5 679.9 477.2 679.9 488.2 679.9 449.8 680 446.6 680 494.8 680.1 451.9 680.1 485 680.1 459.5 680.2 509 680.2 509.4 680.2 467.7 680.2 494.1 680.3 532.1 680.3 446.7 680.4 484.4 680.4 488 680.4 465.5 680.5 502 680.5 459.3 680.6 445.3 680.6 501.1 680.7 464.3 680.7 463.3 680.7 494.7 680.7 467.9 680.8 535.1 680.8 452.5 680.9 448 680.9 443.5 680.9 504.9 680.9 491.7 681 477.4 681 474.5 681 525.6 681 474.5 681.1 456.4 681.1 469.2 681.1 467.4 681.2 490.7 681.2 499.5 681.2 457.6 681.3 456 681.3 495.8 681.4 509.8 681.4 450.4 681.4 468.5 681.5 465.7 681.5 452.9 681.5 488.9 681.5 477.3 681.6 485.1 681.6 481.9 681.6 507.8 681.6 498.4 681.7 478.7 681.7 485 681.7 470.1 681.8 492.9 681.8 469.1 681.8 487.6 681.9 479.6 681.9 494.1 681.9 453.7 681.9 477 682 514.5 682 454 682 463.2 682.1 491 682.1 499.8 682.1 459.3 682.1 489.5 682.2 518.4 682.2 468.6 682.2 490.3 682.3 518 682.3 461.6 682.3 498.9 682.4 456.8 682.4 514.9" fill="none" stroke="#7a64b4" stroke-width="0.6" stroke-linejoin="round" filter="url(#blS)"/>
<rect x="64.1" y="143.9" width="618.4" height="419.7" fill="none" stroke="#2a2a2a" stroke-width="1.4"/>
<path d="M64.1 164.77h3.8 M682.5 164.77h-3.8 M64.1 159.49h3.8 M682.5 159.49h-3.8 M64.1 155.74h3.8 M682.5 155.74h-3.8 M64.1 152.83h3.8 M682.5 152.83h-3.8 M64.1 150.46h3.8 M682.5 150.46h-3.8 M64.1 148.45h3.8 M682.5 148.45h-3.8 M64.1 146.71h3.8 M682.5 146.71h-3.8 M64.1 145.17h3.8 M682.5 145.17h-3.8 M64.1 194.77h3.8 M682.5 194.77h-3.8 M64.1 189.49h3.8 M682.5 189.49h-3.8 M64.1 185.74h3.8 M682.5 185.74h-3.8 M64.1 182.83h3.8 M682.5 182.83h-3.8 M64.1 180.46h3.8 M682.5 180.46h-3.8 M64.1 178.45h3.8 M682.5 178.45h-3.8 M64.1 176.71h3.8 M682.5 176.71h-3.8 M64.1 175.17h3.8 M682.5 175.17h-3.8 M64.1 224.77h3.8 M682.5 224.77h-3.8 M64.1 219.49h3.8 M682.5 219.49h-3.8 M64.1 215.74h3.8 M682.5 215.74h-3.8 M64.1 212.83h3.8 M682.5 212.83h-3.8 M64.1 210.46h3.8 M682.5 210.46h-3.8 M64.1 208.45h3.8 M682.5 208.45h-3.8 M64.1 206.71h3.8 M682.5 206.71h-3.8 M64.1 205.17h3.8 M682.5 205.17h-3.8 M64.1 254.77h3.8 M682.5 254.77h-3.8 M64.1 249.49h3.8 M682.5 249.49h-3.8 M64.1 245.74h3.8 M682.5 245.74h-3.8 M64.1 242.83h3.8 M682.5 242.83h-3.8 M64.1 240.46h3.8 M682.5 240.46h-3.8 M64.1 238.45h3.8 M682.5 238.45h-3.8 M64.1 236.71h3.8 M682.5 236.71h-3.8 M64.1 235.17h3.8 M682.5 235.17h-3.8 M64.1 284.77h3.8 M682.5 284.77h-3.8 M64.1 279.49h3.8 M682.5 279.49h-3.8 M64.1 275.74h3.8 M682.5 275.74h-3.8 M64.1 272.83h3.8 M682.5 272.83h-3.8 M64.1 270.46h3.8 M682.5 270.46h-3.8 M64.1 268.45h3.8 M682.5 268.45h-3.8 M64.1 266.71h3.8 M682.5 266.71h-3.8 M64.1 265.17h3.8 M682.5 265.17h-3.8 M64.1 314.77h3.8 M682.5 314.77h-3.8 M64.1 309.49h3.8 M682.5 309.49h-3.8 M64.1 305.74h3.8 M682.5 305.74h-3.8 M64.1 302.83h3.8 M682.5 302.83h-3.8 M64.1 300.46h3.8 M682.5 300.46h-3.8 M64.1 298.45h3.8 M682.5 298.45h-3.8 M64.1 296.71h3.8 M682.5 296.71h-3.8 M64.1 295.17h3.8 M682.5 295.17h-3.8 M64.1 344.77h3.8 M682.5 344.77h-3.8 M64.1 339.49h3.8 M682.5 339.49h-3.8 M64.1 335.74h3.8 M682.5 335.74h-3.8 M64.1 332.83h3.8 M682.5 332.83h-3.8 M64.1 330.46h3.8 M682.5 330.46h-3.8 M64.1 328.45h3.8 M682.5 328.45h-3.8 M64.1 326.71h3.8 M682.5 326.71h-3.8 M64.1 325.17h3.8 M682.5 325.17h-3.8 M64.1 374.77h3.8 M682.5 374.77h-3.8 M64.1 369.49h3.8 M682.5 369.49h-3.8 M64.1 365.74h3.8 M682.5 365.74h-3.8 M64.1 362.83h3.8 M682.5 362.83h-3.8 M64.1 360.46h3.8 M682.5 360.46h-3.8 M64.1 358.45h3.8 M682.5 358.45h-3.8 M64.1 356.71h3.8 M682.5 356.71h-3.8 M64.1 355.17h3.8 M682.5 355.17h-3.8 M64.1 404.77h3.8 M682.5 404.77h-3.8 M64.1 399.49h3.8 M682.5 399.49h-3.8 M64.1 395.74h3.8 M682.5 395.74h-3.8 M64.1 392.83h3.8 M682.5 392.83h-3.8 M64.1 390.46h3.8 M682.5 390.46h-3.8 M64.1 388.45h3.8 M682.5 388.45h-3.8 M64.1 386.71h3.8 M682.5 386.71h-3.8 M64.1 385.17h3.8 M682.5 385.17h-3.8 M64.1 434.77h3.8 M682.5 434.77h-3.8 M64.1 429.49h3.8 M682.5 429.49h-3.8 M64.1 425.74h3.8 M682.5 425.74h-3.8 M64.1 422.83h3.8 M682.5 422.83h-3.8 M64.1 420.46h3.8 M682.5 420.46h-3.8 M64.1 418.45h3.8 M682.5 418.45h-3.8 M64.1 416.71h3.8 M682.5 416.71h-3.8 M64.1 415.17h3.8 M682.5 415.17h-3.8 M64.1 464.77h3.8 M682.5 464.77h-3.8 M64.1 459.49h3.8 M682.5 459.49h-3.8 M64.1 455.74h3.8 M682.5 455.74h-3.8 M64.1 452.83h3.8 M682.5 452.83h-3.8 M64.1 450.46h3.8 M682.5 450.46h-3.8 M64.1 448.45h3.8 M682.5 448.45h-3.8 M64.1 446.71h3.8 M682.5 446.71h-3.8 M64.1 445.17h3.8 M682.5 445.17h-3.8 M64.1 494.77h3.8 M682.5 494.77h-3.8 M64.1 489.49h3.8 M682.5 489.49h-3.8 M64.1 485.74h3.8 M682.5 485.74h-3.8 M64.1 482.83h3.8 M682.5 482.83h-3.8 M64.1 480.46h3.8 M682.5 480.46h-3.8 M64.1 478.45h3.8 M682.5 478.45h-3.8 M64.1 476.71h3.8 M682.5 476.71h-3.8 M64.1 475.17h3.8 M682.5 475.17h-3.8 M64.1 524.77h3.8 M682.5 524.77h-3.8 M64.1 519.49h3.8 M682.5 519.49h-3.8 M64.1 515.74h3.8 M682.5 515.74h-3.8 M64.1 512.83h3.8 M682.5 512.83h-3.8 M64.1 510.46h3.8 M682.5 510.46h-3.8 M64.1 508.45h3.8 M682.5 508.45h-3.8 M64.1 506.71h3.8 M682.5 506.71h-3.8 M64.1 505.17h3.8 M682.5 505.17h-3.8 M64.1 554.77h3.8 M682.5 554.77h-3.8 M64.1 549.49h3.8 M682.5 549.49h-3.8 M64.1 545.74h3.8 M682.5 545.74h-3.8 M64.1 542.83h3.8 M682.5 542.83h-3.8 M64.1 540.46h3.8 M682.5 540.46h-3.8 M64.1 538.45h3.8 M682.5 538.45h-3.8 M64.1 536.71h3.8 M682.5 536.71h-3.8 M64.1 535.17h3.8 M682.5 535.17h-3.8 M64.1 173.80h3.8 M682.5 173.80h-3.8 M64.1 203.80h7.2 M682.5 203.80h-7.2 M64.1 233.80h3.8 M682.5 233.80h-3.8 M64.1 263.80h3.8 M682.5 263.80h-3.8 M64.1 293.80h3.8 M682.5 293.80h-3.8 M64.1 323.80h7.2 M682.5 323.80h-7.2 M64.1 353.80h3.8 M682.5 353.80h-3.8 M64.1 383.80h3.8 M682.5 383.80h-3.8 M64.1 413.80h3.8 M682.5 413.80h-3.8 M64.1 443.80h7.2 M682.5 443.80h-7.2 M64.1 473.80h3.8 M682.5 473.80h-3.8 M64.1 503.80h3.8 M682.5 503.80h-3.8 M64.1 533.80h3.8 M682.5 533.80h-3.8 M265.28 563.6v-3.6 M265.28 143.9v3.6 M367.34 563.6v-3.6 M367.34 143.9v3.6 M439.75 563.6v-3.6 M439.75 143.9v3.6 M495.92 563.6v-3.6 M495.92 143.9v3.6 M541.82 563.6v-3.6 M541.82 143.9v3.6 M580.62 563.6v-3.6 M580.62 143.9v3.6 M614.23 563.6v-3.6 M614.23 143.9v3.6 M643.88 563.6v-3.6 M643.88 143.9v3.6 M90.80 563.6v-6 M90.80 143.9v6 M670.40 563.6v-6 M670.40 143.9v6" stroke="#2a2a2a" stroke-width="1.15" fill="none"/>
<text class="sans" x="59.3" y="211.5" text-anchor="end" font-size="18.5" fill="#1a1a1a">10<tspan font-size="11.5" dy="-6.5">-2</tspan></text>
<text class="sans" x="59.3" y="332.0" text-anchor="end" font-size="18.5" fill="#1a1a1a">10<tspan font-size="11.5" dy="-6.5">-6</tspan></text>
<text class="sans" x="59.3" y="452.6" text-anchor="end" font-size="18.5" fill="#1a1a1a">10<tspan font-size="11.5" dy="-6.5">-10</tspan></text>
<text class="sans" x="59.3" y="573.2" text-anchor="end" font-size="18.5" fill="#1a1a1a">10<tspan font-size="11.5" dy="-6.5">-14</tspan></text>
<text class="sans" x="90.8" y="584.8" text-anchor="middle" font-size="18.5" fill="#1a1a1a">1</text>
<text class="sans" x="668.6" y="584.8" text-anchor="middle" font-size="18.5" fill="#1a1a1a">10</text>
<text class="sans" x="377" y="599" text-anchor="middle" font-size="19.6" fill="#1a1a1a">Frequency (Hz)</text>
<text class="sans" transform="translate(16.1 338.5) rotate(-90)" text-anchor="middle" font-size="19.6" fill="#1a1a1a">Displacement noise (a.u.)</text>
<text class="serif" x="208.6" y="216.0" font-size="23.5" fill="#111" stroke="#111" stroke-width="0.3">ν</text><text class="serif" x="220.2" y="223.7" font-size="13.5" fill="#111" stroke="#111" stroke-width="0.2">ϕ</text>
<text class="serif" x="227.3" y="227.8" font-size="13.5" fill="#111" stroke="#111" stroke-width="0.2">z</text>
<text class="serif" x="143.9" y="324.5" font-size="23.5" fill="#111" stroke="#111" stroke-width="0.3">ν</text><text class="serif" x="155.7" y="331.1" font-size="12" fill="#111" stroke="#111" stroke-width="0.2">ϕ</text>
<text class="serif" x="162.3" y="335.4" font-size="11.8" fill="#111" stroke="#111" stroke-width="0.2">xy</text>
<text class="serif" x="605.0" y="183.4" font-size="23.5" fill="#111" stroke="#111" stroke-width="0.3">ν</text><text class="sans" x="616.6" y="190.4" font-size="12.5" fill="#111" stroke="#111" stroke-width="0">x</text>
<text class="serif" x="654.6" y="290.6" font-size="23.5" fill="#111" stroke="#111" stroke-width="0.3">ν</text><text class="sans" x="666.6" y="297.6" font-size="12.5" fill="#111" stroke="#111" stroke-width="0">z</text>
<path d="M208.4 223.7L192.9 244.3M143.7 333.4L128.3 353M610.3 190.3L594.6 211.4M662.4 294.4L670.9 316.9" stroke="#3a3a3a" stroke-width="0.9" fill="none"/>
</g>
<text class="sans b" x="33.8" y="19.0" font-size="20" fill="#111">(a)</text>
<text class="sans b" x="210.0" y="18.6" font-size="20" fill="#111">(b)</text>
<text class="sans b" x="363.6" y="18.9" font-size="20" fill="#111">(c)</text>
<text class="sans b" x="532.8" y="18.9" font-size="20" fill="#111">(d)</text>
<text class="sans b" x="28.6" y="145.3" font-size="20" fill="#111">(e)</text>
</svg>
</body></html>
